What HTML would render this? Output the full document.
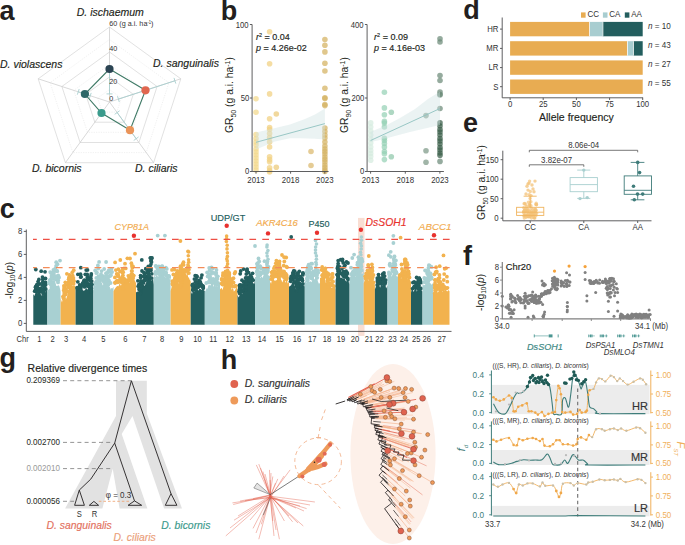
<!DOCTYPE html>
<html><head><meta charset="utf-8"><style>
html,body{margin:0;padding:0;background:#fff;}
svg{display:block;font-family:"Liberation Sans",sans-serif;}
</style></head><body>
<svg width="685" height="545" viewBox="0 0 685 545" fill="#231f20">
<text x="-0.5" y="19.8" font-size="27" font-weight="bold">a</text>
<text x="220.8" y="19.8" font-size="27" font-weight="bold">b</text>
<text x="463.2" y="19.3" font-size="27" font-weight="bold">d</text>
<text x="463" y="132.3" font-size="27" font-weight="bold">e</text>
<text x="-0.3" y="218.3" font-size="27" font-weight="bold">c</text>
<text x="463" y="264.5" font-size="27" font-weight="bold">f</text>
<text x="-0.5" y="366.5" font-size="27" font-weight="bold">g</text>
<text x="220.8" y="368.6" font-size="27" font-weight="bold">h</text>
<polygon points="109.5,89.5 121.4,98.1 116.8,112.1 102.2,112.1 97.6,98.1" fill="none" stroke="#e6e6e6" stroke-width="0.6" stroke-dasharray="1.2,1.2"/>
<polygon points="109.5,64.5 145.2,90.4 131.5,132.3 87.5,132.3 73.8,90.4" fill="none" stroke="#e6e6e6" stroke-width="0.6" stroke-dasharray="1.2,1.2"/>
<polygon points="109.5,39.5 168.9,82.7 146.2,152.6 72.8,152.6 50.1,82.7" fill="none" stroke="#e6e6e6" stroke-width="0.6" stroke-dasharray="1.2,1.2"/>
<polygon points="109.5,77 133.3,94.3 124.2,122.2 94.8,122.2 85.7,94.3" fill="none" stroke="#d4d4d4" stroke-width="0.7"/>
<polygon points="109.5,52 157.1,86.5 138.9,142.5 80.1,142.5 61.9,86.5" fill="none" stroke="#d4d4d4" stroke-width="0.7"/>
<polygon points="109.5,27 180.8,78.8 153.6,162.7 65.4,162.7 38.2,78.8" fill="none" stroke="#d4d4d4" stroke-width="0.7"/>
<line x1="109.5" y1="102" x2="109.5" y2="27" stroke="#c8c8c8" stroke-width="0.7"/>
<line x1="109.5" y1="102" x2="180.8" y2="78.8" stroke="#c8c8c8" stroke-width="0.7"/>
<line x1="109.5" y1="102" x2="153.6" y2="162.7" stroke="#c8c8c8" stroke-width="0.7"/>
<line x1="109.5" y1="102" x2="65.4" y2="162.7" stroke="#c8c8c8" stroke-width="0.7"/>
<line x1="109.5" y1="102" x2="38.2" y2="78.8" stroke="#c8c8c8" stroke-width="0.7"/>
<line x1="109.5" y1="93.9" x2="109.5" y2="70.8" stroke="#a9cfcf" stroke-width="0.9"/>
<line x1="106.5" y1="93.9" x2="112.5" y2="93.9" stroke="#a9cfcf" stroke-width="0.9"/>
<line x1="106.5" y1="70.8" x2="112.5" y2="70.8" stroke="#a9cfcf" stroke-width="0.9"/>
<line x1="118.4" y1="99.1" x2="174.9" y2="80.8" stroke="#a9cfcf" stroke-width="0.9"/>
<line x1="117.5" y1="96.2" x2="119.3" y2="102" stroke="#a9cfcf" stroke-width="0.9"/>
<line x1="174" y1="77.9" x2="175.8" y2="83.6" stroke="#a9cfcf" stroke-width="0.9"/>
<line x1="117.1" y1="112.5" x2="136.2" y2="138.7" stroke="#a9cfcf" stroke-width="0.9"/>
<line x1="119.6" y1="110.8" x2="114.7" y2="114.3" stroke="#a9cfcf" stroke-width="0.9"/>
<line x1="138.6" y1="136.9" x2="133.7" y2="140.5" stroke="#a9cfcf" stroke-width="0.9"/>
<line x1="90.2" y1="95.7" x2="78.2" y2="91.8" stroke="#a9cfcf" stroke-width="0.9"/>
<line x1="89.3" y1="98.6" x2="91.2" y2="92.9" stroke="#a9cfcf" stroke-width="0.9"/>
<line x1="77.3" y1="94.7" x2="79.2" y2="89" stroke="#a9cfcf" stroke-width="0.9"/>
<polygon points="109.5,69 145.5,90.3 130,130.2 101.5,113 84.9,94" fill="none" stroke="#3f7a66" stroke-width="1.1"/>
<circle cx="109.5" cy="69" r="4.1" fill="#2b4453"/>
<circle cx="145.5" cy="90.3" r="4.1" fill="#e0664f"/>
<circle cx="130" cy="130.2" r="4.1" fill="#ea9459"/>
<circle cx="101.5" cy="113" r="4.1" fill="#3a9b8c"/>
<circle cx="84.9" cy="94" r="4.1" fill="#2d6868"/>
<text transform="translate(109.3,26.2) scale(0.893,1)" font-size="8.1" fill="#333">60 (g a.i. ha<tspan font-size="4.6" dy="-2.6">-1</tspan><tspan dy="2.6">)</tspan></text>
<text transform="translate(109.3,50.6) scale(0.893,1)" font-size="8.1" fill="#333">40</text>
<text transform="translate(109.3,84) scale(0.893,1)" font-size="8.1" fill="#333">20</text>
<text transform="translate(109.3,100.6) scale(0.893,1)" font-size="8.1" fill="#333">0</text>
<text x="110.3" y="16" font-size="10.5" text-anchor="middle" font-style="italic" stroke="#231f20" stroke-width="0.16">D. ischaemum</text>
<text x="153" y="67.2" font-size="10.5" font-style="italic" stroke="#231f20" stroke-width="0.16">D. sanguinalis</text>
<text x="0" y="67.9" font-size="10.5" font-style="italic" stroke="#231f20" stroke-width="0.16">D. violascens</text>
<text x="32" y="172.1" font-size="10.5" font-style="italic" stroke="#231f20" stroke-width="0.16">D. bicornis</text>
<text x="135" y="172.1" font-size="10.5" font-style="italic" stroke="#231f20" stroke-width="0.16">D. ciliaris</text>
<circle cx="256" cy="98.7" r="2.8" fill="#f3d98f" fill-opacity="0.75"/>
<circle cx="256" cy="112.2" r="2.8" fill="#f3d98f" fill-opacity="0.75"/>
<circle cx="256" cy="134.6" r="2.8" fill="#f3d98f" fill-opacity="0.75"/>
<circle cx="256" cy="138.5" r="2.8" fill="#f3d98f" fill-opacity="0.75"/>
<circle cx="256" cy="142" r="2.8" fill="#f3d98f" fill-opacity="0.75"/>
<circle cx="256" cy="145" r="2.8" fill="#f3d98f" fill-opacity="0.75"/>
<circle cx="256" cy="149" r="2.8" fill="#f3d98f" fill-opacity="0.75"/>
<circle cx="256" cy="152" r="2.8" fill="#f3d98f" fill-opacity="0.75"/>
<circle cx="256" cy="155" r="2.8" fill="#f3d98f" fill-opacity="0.75"/>
<circle cx="256" cy="158" r="2.8" fill="#f3d98f" fill-opacity="0.75"/>
<circle cx="256" cy="161" r="2.8" fill="#f3d98f" fill-opacity="0.75"/>
<circle cx="256" cy="164" r="2.8" fill="#f3d98f" fill-opacity="0.75"/>
<circle cx="256" cy="167" r="2.8" fill="#f3d98f" fill-opacity="0.75"/>
<circle cx="256" cy="170" r="2.8" fill="#f3d98f" fill-opacity="0.75"/>
<circle cx="269.6" cy="31.7" r="2.8" fill="#f1d184" fill-opacity="0.75"/>
<circle cx="269.6" cy="63.8" r="2.8" fill="#f1d184" fill-opacity="0.75"/>
<circle cx="269.6" cy="93.9" r="2.8" fill="#f1d184" fill-opacity="0.75"/>
<circle cx="269.6" cy="118.8" r="2.8" fill="#f1d184" fill-opacity="0.75"/>
<circle cx="269.6" cy="127.6" r="2.8" fill="#f1d184" fill-opacity="0.75"/>
<circle cx="269.6" cy="129.5" r="2.8" fill="#f1d184" fill-opacity="0.75"/>
<circle cx="269.6" cy="133.5" r="2.8" fill="#f1d184" fill-opacity="0.75"/>
<circle cx="269.6" cy="137.6" r="2.8" fill="#f1d184" fill-opacity="0.75"/>
<circle cx="269.6" cy="142" r="2.8" fill="#f1d184" fill-opacity="0.75"/>
<circle cx="269.6" cy="147" r="2.8" fill="#f1d184" fill-opacity="0.75"/>
<circle cx="269.6" cy="156.7" r="2.8" fill="#f1d184" fill-opacity="0.75"/>
<circle cx="269.6" cy="159.6" r="2.8" fill="#f1d184" fill-opacity="0.75"/>
<circle cx="269.6" cy="161.8" r="2.8" fill="#f1d184" fill-opacity="0.75"/>
<circle cx="269.6" cy="167.7" r="2.8" fill="#f1d184" fill-opacity="0.75"/>
<circle cx="269.6" cy="170.6" r="2.8" fill="#f1d184" fill-opacity="0.75"/>
<circle cx="269.6" cy="172" r="2.8" fill="#f1d184" fill-opacity="0.75"/>
<circle cx="276.3" cy="114" r="2.8" fill="#eccb7c" fill-opacity="0.75"/>
<circle cx="276.3" cy="167.2" r="2.8" fill="#eccb7c" fill-opacity="0.75"/>
<circle cx="311" cy="151.5" r="2.8" fill="#dcbb72" fill-opacity="0.75"/>
<circle cx="311" cy="165.5" r="2.8" fill="#dcbb72" fill-opacity="0.75"/>
<circle cx="324.9" cy="39.5" r="2.8" fill="#d5b465" fill-opacity="0.75"/>
<circle cx="324.9" cy="45.3" r="2.8" fill="#d5b465" fill-opacity="0.75"/>
<circle cx="324.9" cy="51.9" r="2.8" fill="#d5b465" fill-opacity="0.75"/>
<circle cx="324.9" cy="63.3" r="2.8" fill="#d5b465" fill-opacity="0.75"/>
<circle cx="324.9" cy="71" r="2.8" fill="#d5b465" fill-opacity="0.75"/>
<circle cx="324.9" cy="88.3" r="2.8" fill="#d5b465" fill-opacity="0.75"/>
<circle cx="324.9" cy="97.8" r="2.8" fill="#d5b465" fill-opacity="0.75"/>
<circle cx="324.9" cy="98.5" r="2.8" fill="#d5b465" fill-opacity="0.75"/>
<circle cx="324.9" cy="104.5" r="2.8" fill="#d5b465" fill-opacity="0.75"/>
<circle cx="324.9" cy="105.6" r="2.8" fill="#d5b465" fill-opacity="0.75"/>
<circle cx="324.9" cy="128" r="2.8" fill="#d5b465" fill-opacity="0.75"/>
<circle cx="324.9" cy="131.5" r="2.8" fill="#d5b465" fill-opacity="0.75"/>
<circle cx="324.9" cy="135" r="2.8" fill="#d5b465" fill-opacity="0.75"/>
<circle cx="324.9" cy="138" r="2.8" fill="#d5b465" fill-opacity="0.75"/>
<circle cx="324.9" cy="142" r="2.8" fill="#d5b465" fill-opacity="0.75"/>
<circle cx="324.9" cy="146" r="2.8" fill="#d5b465" fill-opacity="0.75"/>
<circle cx="324.9" cy="149" r="2.8" fill="#d5b465" fill-opacity="0.75"/>
<circle cx="324.9" cy="151.5" r="2.8" fill="#d5b465" fill-opacity="0.75"/>
<circle cx="324.9" cy="154" r="2.8" fill="#d5b465" fill-opacity="0.75"/>
<circle cx="324.9" cy="157" r="2.8" fill="#d5b465" fill-opacity="0.75"/>
<circle cx="324.9" cy="159.5" r="2.8" fill="#d5b465" fill-opacity="0.75"/>
<circle cx="324.9" cy="162" r="2.8" fill="#d5b465" fill-opacity="0.75"/>
<circle cx="324.9" cy="165" r="2.8" fill="#d5b465" fill-opacity="0.75"/>
<circle cx="324.9" cy="167.5" r="2.8" fill="#d5b465" fill-opacity="0.75"/>
<circle cx="324.9" cy="170" r="2.8" fill="#d5b465" fill-opacity="0.75"/>
<circle cx="324.9" cy="171.5" r="2.8" fill="#d5b465" fill-opacity="0.75"/>
<polygon points="256,132.4 270,129.2 290,124.5 305,119 315,114.5 324.9,108.5 324.9,139.5 315,138.8 300,138.3 290,138.3 275,141.5 256,149.5" fill="#cfe3e3" fill-opacity="0.42"/>
<line x1="256" y1="142.3" x2="324.9" y2="123.6" stroke="#8fc2c0" stroke-width="0.9"/>
<path d="M249.9,24.5 L252.1,24.5 L252.1,171.5" stroke="#4d4d4f" stroke-width="0.9" fill="none"/>
<line x1="249.9" y1="98" x2="252.1" y2="98" stroke="#4d4d4f" stroke-width="0.9"/>
<line x1="249.9" y1="171.5" x2="252.1" y2="171.5" stroke="#4d4d4f" stroke-width="0.9"/>
<line x1="252.1" y1="171.5" x2="328.6" y2="171.5" stroke="#4d4d4f" stroke-width="0.9"/>
<line x1="256" y1="171.5" x2="256" y2="173.7" stroke="#4d4d4f" stroke-width="0.9"/>
<line x1="290.6" y1="171.5" x2="290.6" y2="173.7" stroke="#4d4d4f" stroke-width="0.9"/>
<line x1="324.8" y1="171.5" x2="324.8" y2="173.7" stroke="#4d4d4f" stroke-width="0.9"/>
<text transform="translate(248.6,28) scale(0.893,1)" font-size="8.6" text-anchor="end" fill="#333">100</text>
<text transform="translate(249.2,101) scale(0.893,1)" font-size="8.6" text-anchor="end" fill="#333">50</text>
<text transform="translate(249.2,174.2) scale(0.893,1)" font-size="8.6" text-anchor="end" fill="#333">0</text>
<text transform="translate(256,182.7) scale(0.893,1)" font-size="8.8" text-anchor="middle" fill="#333">2013</text>
<text transform="translate(290.6,182.7) scale(0.893,1)" font-size="8.8" text-anchor="middle" fill="#333">2018</text>
<text transform="translate(324.8,182.7) scale(0.893,1)" font-size="8.8" text-anchor="middle" fill="#333">2023</text>
<text x="256" y="40" font-size="9.0" stroke="#231f20" stroke-width="0.16"><tspan font-style="italic">r</tspan><tspan font-size="5.5" dy="-3">2</tspan><tspan dy="3"> = 0.04</tspan></text>
<text x="256" y="51.2" font-size="9.0" stroke="#231f20" stroke-width="0.16"><tspan font-style="italic">p</tspan> = 4.26e-02</text>
<text transform="translate(233.2,133) rotate(-90)" font-size="10.3" fill="#231f20">GR<tspan font-size="7" dy="2.5">50</tspan><tspan dy="-2.5"> (g a.i. ha</tspan><tspan font-size="7" dy="-3.5">-1</tspan><tspan dy="3.5">)</tspan></text>
<circle cx="370.7" cy="122.9" r="2.8" fill="#d6ebdf" fill-opacity="0.72"/>
<circle cx="370.7" cy="127" r="2.8" fill="#d6ebdf" fill-opacity="0.72"/>
<circle cx="370.7" cy="131" r="2.8" fill="#d6ebdf" fill-opacity="0.72"/>
<circle cx="370.7" cy="135" r="2.8" fill="#d6ebdf" fill-opacity="0.72"/>
<circle cx="370.7" cy="139" r="2.8" fill="#d6ebdf" fill-opacity="0.72"/>
<circle cx="370.7" cy="143" r="2.8" fill="#d6ebdf" fill-opacity="0.72"/>
<circle cx="370.7" cy="147" r="2.8" fill="#d6ebdf" fill-opacity="0.72"/>
<circle cx="370.7" cy="150.5" r="2.8" fill="#d6ebdf" fill-opacity="0.72"/>
<circle cx="370.7" cy="153.5" r="2.8" fill="#d6ebdf" fill-opacity="0.72"/>
<circle cx="370.7" cy="156.5" r="2.8" fill="#d6ebdf" fill-opacity="0.72"/>
<circle cx="370.7" cy="160.3" r="2.8" fill="#d6ebdf" fill-opacity="0.72"/>
<circle cx="384.4" cy="92.2" r="2.8" fill="#96d1b6" fill-opacity="0.72"/>
<circle cx="384.4" cy="107.9" r="2.8" fill="#96d1b6" fill-opacity="0.72"/>
<circle cx="384.4" cy="114.8" r="2.8" fill="#96d1b6" fill-opacity="0.72"/>
<circle cx="384.4" cy="121.4" r="2.8" fill="#96d1b6" fill-opacity="0.72"/>
<circle cx="384.4" cy="123" r="2.8" fill="#96d1b6" fill-opacity="0.72"/>
<circle cx="384.4" cy="127" r="2.8" fill="#96d1b6" fill-opacity="0.72"/>
<circle cx="384.4" cy="138.3" r="2.8" fill="#96d1b6" fill-opacity="0.72"/>
<circle cx="384.4" cy="140.5" r="2.8" fill="#96d1b6" fill-opacity="0.72"/>
<circle cx="384.4" cy="143.5" r="2.8" fill="#96d1b6" fill-opacity="0.72"/>
<circle cx="384.4" cy="147.1" r="2.8" fill="#96d1b6" fill-opacity="0.72"/>
<circle cx="384.4" cy="151.5" r="2.8" fill="#96d1b6" fill-opacity="0.72"/>
<circle cx="384.4" cy="153.7" r="2.8" fill="#96d1b6" fill-opacity="0.72"/>
<circle cx="384.4" cy="159.6" r="2.8" fill="#96d1b6" fill-opacity="0.72"/>
<circle cx="391.3" cy="112.3" r="2.8" fill="#8fc8ab" fill-opacity="0.72"/>
<circle cx="391.3" cy="156.7" r="2.8" fill="#8fc8ab" fill-opacity="0.72"/>
<circle cx="426" cy="115.6" r="2.8" fill="#7d9887" fill-opacity="0.72"/>
<circle cx="426" cy="150.8" r="2.8" fill="#7d9887" fill-opacity="0.72"/>
<circle cx="426" cy="162.3" r="2.8" fill="#7d9887" fill-opacity="0.72"/>
<circle cx="440" cy="38.8" r="2.8" fill="#6c8a78" fill-opacity="0.72"/>
<circle cx="440" cy="42" r="2.8" fill="#6c8a78" fill-opacity="0.72"/>
<circle cx="440" cy="75.5" r="2.8" fill="#6c8a78" fill-opacity="0.72"/>
<circle cx="440" cy="80.5" r="2.8" fill="#6c8a78" fill-opacity="0.72"/>
<circle cx="440" cy="92" r="2.8" fill="#6c8a78" fill-opacity="0.72"/>
<circle cx="440" cy="94.2" r="2.8" fill="#6c8a78" fill-opacity="0.72"/>
<circle cx="440" cy="95" r="2.8" fill="#6c8a78" fill-opacity="0.72"/>
<circle cx="440" cy="108.5" r="2.8" fill="#6c8a78" fill-opacity="0.72"/>
<circle cx="440" cy="122.9" r="2.8" fill="#3a5e4a" fill-opacity="0.72"/>
<circle cx="440" cy="126" r="2.8" fill="#3a5e4a" fill-opacity="0.72"/>
<circle cx="440" cy="129.5" r="2.8" fill="#3a5e4a" fill-opacity="0.72"/>
<circle cx="440" cy="132" r="2.8" fill="#3a5e4a" fill-opacity="0.72"/>
<circle cx="440" cy="135" r="2.8" fill="#3a5e4a" fill-opacity="0.72"/>
<circle cx="440" cy="138.5" r="2.8" fill="#3a5e4a" fill-opacity="0.72"/>
<circle cx="440" cy="141" r="2.8" fill="#3a5e4a" fill-opacity="0.72"/>
<circle cx="440" cy="144" r="2.8" fill="#3a5e4a" fill-opacity="0.72"/>
<circle cx="440" cy="147.5" r="2.8" fill="#3a5e4a" fill-opacity="0.72"/>
<circle cx="440" cy="150" r="2.8" fill="#3a5e4a" fill-opacity="0.72"/>
<circle cx="440" cy="153" r="2.8" fill="#3a5e4a" fill-opacity="0.72"/>
<circle cx="440" cy="155.2" r="2.8" fill="#3a5e4a" fill-opacity="0.72"/>
<circle cx="440" cy="161.4" r="2.8" fill="#6c8a78" fill-opacity="0.72"/>
<polygon points="370.6,131.7 385,126 400,118 415,109 428,99 440,91.5 440,125 425,128.5 410,132 395,136 380,140 370.6,142" fill="#cfe3e3" fill-opacity="0.42"/>
<line x1="370.6" y1="140.5" x2="440" y2="108.5" stroke="#8fc2c0" stroke-width="0.9"/>
<path d="M364.90000000000003,24.5 L367.1,24.5 L367.1,171.5" stroke="#4d4d4f" stroke-width="0.9" fill="none"/>
<line x1="364.9" y1="98" x2="367.1" y2="98" stroke="#4d4d4f" stroke-width="0.9"/>
<line x1="364.9" y1="171.5" x2="367.1" y2="171.5" stroke="#4d4d4f" stroke-width="0.9"/>
<line x1="367.1" y1="171.5" x2="443.9" y2="171.5" stroke="#4d4d4f" stroke-width="0.9"/>
<line x1="370.6" y1="171.5" x2="370.6" y2="173.7" stroke="#4d4d4f" stroke-width="0.9"/>
<line x1="405.3" y1="171.5" x2="405.3" y2="173.7" stroke="#4d4d4f" stroke-width="0.9"/>
<line x1="439.9" y1="171.5" x2="439.9" y2="173.7" stroke="#4d4d4f" stroke-width="0.9"/>
<text transform="translate(363.6,28) scale(0.893,1)" font-size="8.6" text-anchor="end" fill="#333">400</text>
<text transform="translate(364.2,101) scale(0.893,1)" font-size="8.6" text-anchor="end" fill="#333">200</text>
<text transform="translate(364.2,174.2) scale(0.893,1)" font-size="8.6" text-anchor="end" fill="#333">0</text>
<text transform="translate(370.6,182.7) scale(0.893,1)" font-size="8.8" text-anchor="middle" fill="#333">2013</text>
<text transform="translate(405.3,182.7) scale(0.893,1)" font-size="8.8" text-anchor="middle" fill="#333">2018</text>
<text transform="translate(439.9,182.7) scale(0.893,1)" font-size="8.8" text-anchor="middle" fill="#333">2023</text>
<text x="374.1" y="40" font-size="9.0" stroke="#231f20" stroke-width="0.16"><tspan font-style="italic">r</tspan><tspan font-size="5.5" dy="-3">2</tspan><tspan dy="3"> = 0.09</tspan></text>
<text x="374.1" y="51.2" font-size="9.0" stroke="#231f20" stroke-width="0.16"><tspan font-style="italic">p</tspan> = 4.16e-03</text>
<text transform="translate(348.2,133) rotate(-90)" font-size="10.3" fill="#231f20">GR<tspan font-size="7" dy="2.5">90</tspan><tspan dy="-2.5"> (g a.i. ha</tspan><tspan font-size="7" dy="-3.5">-1</tspan><tspan dy="3.5">)</tspan></text>
<rect x="510.1" y="21.9" width="79.6" height="14.4" fill="#e8ac52"/>
<rect x="589.7" y="21.9" width="13.3" height="14.4" fill="#a8cdd0"/>
<rect x="589.3" y="21.9" width="0.7" height="14.4" fill="#fff"/>
<rect x="602.9" y="21.9" width="39.8" height="14.4" fill="#235e5e"/>
<rect x="602.6" y="21.9" width="0.7" height="14.4" fill="#fff"/>
<line x1="500" y1="29.1" x2="502.2" y2="29.1" stroke="#4d4d4f" stroke-width="0.9"/>
<text transform="translate(498.4,31.9) scale(0.893,1)" font-size="8.7" text-anchor="end" fill="#333">HR</text>
<text transform="translate(648,28.8) scale(0.893,1)" font-size="9.1" fill="#333"><tspan font-style="italic">n</tspan> = 10</text>
<rect x="510.1" y="41.2" width="117.2" height="14.4" fill="#e8ac52"/>
<rect x="627.3" y="41.2" width="6.2" height="14.4" fill="#a8cdd0"/>
<rect x="627" y="41.2" width="0.7" height="14.4" fill="#fff"/>
<rect x="633.5" y="41.2" width="9.2" height="14.4" fill="#235e5e"/>
<rect x="633.1" y="41.2" width="0.7" height="14.4" fill="#fff"/>
<line x1="500" y1="48.4" x2="502.2" y2="48.4" stroke="#4d4d4f" stroke-width="0.9"/>
<text transform="translate(498.4,51.2) scale(0.893,1)" font-size="8.7" text-anchor="end" fill="#333">MR</text>
<text transform="translate(648,48.1) scale(0.893,1)" font-size="9.1" fill="#333"><tspan font-style="italic">n</tspan> = 43</text>
<rect x="510.1" y="60.4" width="132.6" height="14.4" fill="#e8ac52"/>
<line x1="500" y1="67.6" x2="502.2" y2="67.6" stroke="#4d4d4f" stroke-width="0.9"/>
<text transform="translate(498.4,70.4) scale(0.893,1)" font-size="8.7" text-anchor="end" fill="#333">LR</text>
<text transform="translate(648,67.3) scale(0.893,1)" font-size="9.1" fill="#333"><tspan font-style="italic">n</tspan> = 27</text>
<rect x="510.1" y="79.5" width="132.6" height="14.4" fill="#e8ac52"/>
<line x1="500" y1="86.7" x2="502.2" y2="86.7" stroke="#4d4d4f" stroke-width="0.9"/>
<text transform="translate(498.4,89.5) scale(0.893,1)" font-size="8.7" text-anchor="end" fill="#333">S</text>
<text transform="translate(648,86.4) scale(0.893,1)" font-size="9.1" fill="#333"><tspan font-style="italic">n</tspan> = 55</text>
<path d="M502.2,17.5 L502.2,97.8 L643.1,97.8" stroke="#4d4d4f" stroke-width="0.9" fill="none"/>
<line x1="510.1" y1="97.8" x2="510.1" y2="100" stroke="#4d4d4f" stroke-width="0.9"/>
<text transform="translate(510.1,106.5) scale(0.893,1)" font-size="8.7" text-anchor="middle" fill="#333">0</text>
<line x1="543.2" y1="97.8" x2="543.2" y2="100" stroke="#4d4d4f" stroke-width="0.9"/>
<text transform="translate(543.2,106.5) scale(0.893,1)" font-size="8.7" text-anchor="middle" fill="#333">25</text>
<line x1="576.4" y1="97.8" x2="576.4" y2="100" stroke="#4d4d4f" stroke-width="0.9"/>
<text transform="translate(576.4,106.5) scale(0.893,1)" font-size="8.7" text-anchor="middle" fill="#333">50</text>
<line x1="609.6" y1="97.8" x2="609.6" y2="100" stroke="#4d4d4f" stroke-width="0.9"/>
<text transform="translate(609.6,106.5) scale(0.893,1)" font-size="8.7" text-anchor="middle" fill="#333">75</text>
<line x1="642.7" y1="97.8" x2="642.7" y2="100" stroke="#4d4d4f" stroke-width="0.9"/>
<text transform="translate(642.7,106.5) scale(0.893,1)" font-size="8.7" text-anchor="middle" fill="#333">100</text>
<text x="576.4" y="120.8" font-size="10.5" text-anchor="middle" stroke="#231f20" stroke-width="0.16">Allele frequency</text>
<rect x="581" y="12.4" width="4.6" height="5.3" fill="#e8ac52"/>
<text transform="translate(587.4,17.4) scale(0.893,1)" font-size="9" fill="#333">CC</text>
<rect x="602.9" y="12.4" width="4.6" height="5.3" fill="#a8cdd0"/>
<text transform="translate(609.3,17.4) scale(0.893,1)" font-size="9" fill="#333">CA</text>
<rect x="624.8" y="12.4" width="4.6" height="5.3" fill="#235e5e"/>
<text transform="translate(631.2,17.4) scale(0.893,1)" font-size="9" fill="#333">AA</text>
<circle cx="530.6" cy="216.3" r="1.7" fill="#f4c47c" fill-opacity="0.72"/>
<circle cx="531.4" cy="215" r="1.7" fill="#f4c47c" fill-opacity="0.72"/>
<circle cx="524.4" cy="211.3" r="1.7" fill="#f4c47c" fill-opacity="0.72"/>
<circle cx="534.4" cy="218.1" r="1.7" fill="#f4c47c" fill-opacity="0.72"/>
<circle cx="526.5" cy="216.1" r="1.7" fill="#f4c47c" fill-opacity="0.72"/>
<circle cx="529.6" cy="181.1" r="1.7" fill="#f4c47c" fill-opacity="0.72"/>
<circle cx="529.7" cy="205.5" r="1.7" fill="#f4c47c" fill-opacity="0.72"/>
<circle cx="525.5" cy="211" r="1.7" fill="#f4c47c" fill-opacity="0.72"/>
<circle cx="534.8" cy="211.1" r="1.7" fill="#f4c47c" fill-opacity="0.72"/>
<circle cx="533.1" cy="213" r="1.7" fill="#f4c47c" fill-opacity="0.72"/>
<circle cx="524.3" cy="210.4" r="1.7" fill="#f4c47c" fill-opacity="0.72"/>
<circle cx="531.2" cy="208.2" r="1.7" fill="#f4c47c" fill-opacity="0.72"/>
<circle cx="523.9" cy="215.7" r="1.7" fill="#f4c47c" fill-opacity="0.72"/>
<circle cx="529.6" cy="204.1" r="1.7" fill="#f4c47c" fill-opacity="0.72"/>
<circle cx="534.9" cy="209.3" r="1.7" fill="#f4c47c" fill-opacity="0.72"/>
<circle cx="535.5" cy="209.4" r="1.7" fill="#f4c47c" fill-opacity="0.72"/>
<circle cx="533.9" cy="214.7" r="1.7" fill="#f4c47c" fill-opacity="0.72"/>
<circle cx="535.7" cy="214.1" r="1.7" fill="#f4c47c" fill-opacity="0.72"/>
<circle cx="524.8" cy="203.4" r="1.7" fill="#f4c47c" fill-opacity="0.72"/>
<circle cx="526.3" cy="217.2" r="1.7" fill="#f4c47c" fill-opacity="0.72"/>
<circle cx="529.2" cy="194.6" r="1.7" fill="#f4c47c" fill-opacity="0.72"/>
<circle cx="527.4" cy="211.3" r="1.7" fill="#f4c47c" fill-opacity="0.72"/>
<circle cx="528.5" cy="213.2" r="1.7" fill="#f4c47c" fill-opacity="0.72"/>
<circle cx="531.1" cy="215.2" r="1.7" fill="#f4c47c" fill-opacity="0.72"/>
<circle cx="535.3" cy="212" r="1.7" fill="#f4c47c" fill-opacity="0.72"/>
<circle cx="535.6" cy="210.2" r="1.7" fill="#f4c47c" fill-opacity="0.72"/>
<circle cx="536.4" cy="204.6" r="1.7" fill="#f4c47c" fill-opacity="0.72"/>
<circle cx="525.6" cy="210.4" r="1.7" fill="#f4c47c" fill-opacity="0.72"/>
<circle cx="536" cy="204.4" r="1.7" fill="#f4c47c" fill-opacity="0.72"/>
<circle cx="530.9" cy="201.7" r="1.7" fill="#f4c47c" fill-opacity="0.72"/>
<circle cx="526.2" cy="209.4" r="1.7" fill="#f4c47c" fill-opacity="0.72"/>
<circle cx="531" cy="205.7" r="1.7" fill="#f4c47c" fill-opacity="0.72"/>
<circle cx="524.3" cy="215.8" r="1.7" fill="#f4c47c" fill-opacity="0.72"/>
<circle cx="536.4" cy="204.7" r="1.7" fill="#f4c47c" fill-opacity="0.72"/>
<circle cx="533.9" cy="217.5" r="1.7" fill="#f4c47c" fill-opacity="0.72"/>
<circle cx="525.5" cy="214.5" r="1.7" fill="#f4c47c" fill-opacity="0.72"/>
<circle cx="533.5" cy="215.8" r="1.7" fill="#f4c47c" fill-opacity="0.72"/>
<circle cx="524.1" cy="203.7" r="1.7" fill="#f4c47c" fill-opacity="0.72"/>
<circle cx="524.1" cy="211.5" r="1.7" fill="#f4c47c" fill-opacity="0.72"/>
<circle cx="527.8" cy="209.3" r="1.7" fill="#f4c47c" fill-opacity="0.72"/>
<circle cx="536.2" cy="203.3" r="1.7" fill="#f4c47c" fill-opacity="0.72"/>
<circle cx="536.5" cy="213.3" r="1.7" fill="#f4c47c" fill-opacity="0.72"/>
<circle cx="524.5" cy="215.6" r="1.7" fill="#f4c47c" fill-opacity="0.72"/>
<circle cx="523.9" cy="211.8" r="1.7" fill="#f4c47c" fill-opacity="0.72"/>
<circle cx="528.8" cy="216.7" r="1.7" fill="#f4c47c" fill-opacity="0.72"/>
<circle cx="525.5" cy="211.6" r="1.7" fill="#f4c47c" fill-opacity="0.72"/>
<circle cx="534.8" cy="217.9" r="1.7" fill="#f4c47c" fill-opacity="0.72"/>
<circle cx="536" cy="215.6" r="1.7" fill="#f4c47c" fill-opacity="0.72"/>
<circle cx="528.4" cy="202.3" r="1.7" fill="#f4c47c" fill-opacity="0.72"/>
<circle cx="530.3" cy="213.9" r="1.7" fill="#f4c47c" fill-opacity="0.72"/>
<circle cx="531.2" cy="211" r="1.7" fill="#f4c47c" fill-opacity="0.72"/>
<circle cx="531.6" cy="212.4" r="1.7" fill="#f4c47c" fill-opacity="0.72"/>
<circle cx="530.1" cy="198.4" r="1.7" fill="#f4c47c" fill-opacity="0.72"/>
<circle cx="532.9" cy="214.2" r="1.7" fill="#f4c47c" fill-opacity="0.72"/>
<circle cx="527.4" cy="216.3" r="1.7" fill="#f4c47c" fill-opacity="0.72"/>
<circle cx="530.3" cy="191.5" r="1.7" fill="#f4c47c" fill-opacity="0.72"/>
<circle cx="523.6" cy="212.6" r="1.7" fill="#f4c47c" fill-opacity="0.72"/>
<circle cx="531" cy="214.4" r="1.7" fill="#f4c47c" fill-opacity="0.72"/>
<circle cx="531.5" cy="218.1" r="1.7" fill="#f4c47c" fill-opacity="0.72"/>
<circle cx="524.3" cy="211.2" r="1.7" fill="#f4c47c" fill-opacity="0.72"/>
<circle cx="529.6" cy="211.3" r="1.7" fill="#f4c47c" fill-opacity="0.72"/>
<circle cx="528.1" cy="210.2" r="1.7" fill="#f4c47c" fill-opacity="0.72"/>
<circle cx="533.1" cy="209.6" r="1.7" fill="#f4c47c" fill-opacity="0.72"/>
<circle cx="524.3" cy="218" r="1.7" fill="#f4c47c" fill-opacity="0.72"/>
<circle cx="536" cy="210.3" r="1.7" fill="#f4c47c" fill-opacity="0.72"/>
<circle cx="529.4" cy="216.2" r="1.7" fill="#f4c47c" fill-opacity="0.72"/>
<circle cx="527.7" cy="211.9" r="1.7" fill="#f4c47c" fill-opacity="0.72"/>
<circle cx="527.6" cy="215" r="1.7" fill="#f4c47c" fill-opacity="0.72"/>
<circle cx="531.2" cy="215" r="1.7" fill="#f4c47c" fill-opacity="0.72"/>
<circle cx="528.4" cy="215.7" r="1.7" fill="#f4c47c" fill-opacity="0.72"/>
<circle cx="523.8" cy="207.8" r="1.7" fill="#f4c47c" fill-opacity="0.72"/>
<circle cx="533.1" cy="212.3" r="1.7" fill="#f4c47c" fill-opacity="0.72"/>
<circle cx="526.4" cy="215.6" r="1.7" fill="#f4c47c" fill-opacity="0.72"/>
<circle cx="526.6" cy="206.8" r="1.7" fill="#f4c47c" fill-opacity="0.72"/>
<circle cx="529.2" cy="216.7" r="1.7" fill="#f4c47c" fill-opacity="0.72"/>
<circle cx="524.8" cy="209.8" r="1.7" fill="#f4c47c" fill-opacity="0.72"/>
<circle cx="527.8" cy="215.5" r="1.7" fill="#f4c47c" fill-opacity="0.72"/>
<circle cx="529.2" cy="205.6" r="1.7" fill="#f4c47c" fill-opacity="0.72"/>
<circle cx="525.7" cy="204.6" r="1.7" fill="#f4c47c" fill-opacity="0.72"/>
<circle cx="532" cy="215.3" r="1.7" fill="#f4c47c" fill-opacity="0.72"/>
<circle cx="535" cy="181.1" r="1.7" fill="#f4c47c" fill-opacity="0.78"/>
<circle cx="529" cy="183.1" r="1.7" fill="#f4c47c" fill-opacity="0.78"/>
<circle cx="528" cy="183.9" r="1.7" fill="#f4c47c" fill-opacity="0.78"/>
<circle cx="532" cy="185" r="1.7" fill="#f4c47c" fill-opacity="0.78"/>
<circle cx="527" cy="186.2" r="1.7" fill="#f4c47c" fill-opacity="0.78"/>
<circle cx="533" cy="188.9" r="1.7" fill="#f4c47c" fill-opacity="0.78"/>
<circle cx="528" cy="190.1" r="1.7" fill="#f4c47c" fill-opacity="0.78"/>
<circle cx="534" cy="191.7" r="1.7" fill="#f4c47c" fill-opacity="0.78"/>
<circle cx="526" cy="194" r="1.7" fill="#f4c47c" fill-opacity="0.78"/>
<circle cx="531" cy="195.6" r="1.7" fill="#f4c47c" fill-opacity="0.78"/>
<rect x="516.6" y="207.3" width="27.2" height="8.1" fill="none" stroke="#f0b45e" stroke-width="0.9"/>
<line x1="516.6" y1="212.2" x2="543.8" y2="212.2" stroke="#f0b45e" stroke-width="0.9"/>
<line x1="530.2" y1="207.3" x2="530.2" y2="196.2" stroke="#f0b45e" stroke-width="0.9"/>
<line x1="523.6" y1="196.2" x2="536.7" y2="196.2" stroke="#f0b45e" stroke-width="0.9"/>
<rect x="570.1" y="177.6" width="27.3" height="14.1" fill="none" stroke="#a8cfcf" stroke-width="0.9"/>
<line x1="570.1" y1="184.6" x2="597.4" y2="184.6" stroke="#a8cfcf" stroke-width="0.9"/>
<line x1="583.8" y1="177.6" x2="583.8" y2="170.1" stroke="#a8cfcf" stroke-width="0.9"/>
<line x1="577.2" y1="170.1" x2="590.3" y2="170.1" stroke="#a8cfcf" stroke-width="0.9"/>
<line x1="583.8" y1="191.7" x2="583.8" y2="198.4" stroke="#a8cfcf" stroke-width="0.9"/>
<line x1="577.2" y1="198.4" x2="590.3" y2="198.4" stroke="#a8cfcf" stroke-width="0.9"/>
<circle cx="583.8" cy="170.1" r="1.7" fill="#a8cfcf"/>
<circle cx="580" cy="198.6" r="1.7" fill="#a8cfcf"/>
<circle cx="587.2" cy="197.6" r="1.7" fill="#a8cfcf"/>
<rect x="624.2" y="175.9" width="27.3" height="18.4" fill="none" stroke="#3f7c7a" stroke-width="0.9"/>
<line x1="624.2" y1="190.3" x2="651.5" y2="190.3" stroke="#3f7c7a" stroke-width="0.9"/>
<line x1="637.7" y1="175.9" x2="637.7" y2="162.4" stroke="#3f7c7a" stroke-width="0.9"/>
<line x1="630.7" y1="162.4" x2="644.4" y2="162.4" stroke="#3f7c7a" stroke-width="0.9"/>
<line x1="637.7" y1="194.3" x2="637.7" y2="199.8" stroke="#3f7c7a" stroke-width="0.9"/>
<line x1="630.7" y1="199.8" x2="644.4" y2="199.8" stroke="#3f7c7a" stroke-width="0.9"/>
<circle cx="637.7" cy="162.4" r="1.8" fill="#3f7c7a"/>
<circle cx="639.6" cy="172.6" r="1.8" fill="#3f7c7a"/>
<circle cx="633.5" cy="186.3" r="1.8" fill="#3f7c7a"/>
<circle cx="637.5" cy="194.1" r="1.8" fill="#3f7c7a"/>
<circle cx="642.7" cy="194.1" r="1.8" fill="#3f7c7a"/>
<circle cx="634.3" cy="199.8" r="1.8" fill="#3f7c7a"/>
<path d="M502.8,150.7 L502.8,220.8 L651.5,220.8" stroke="#4d4d4f" stroke-width="0.9" fill="none"/>
<line x1="500.6" y1="218.2" x2="502.8" y2="218.2" stroke="#4d4d4f" stroke-width="0.9"/>
<text transform="translate(498.6,221) scale(0.893,1)" font-size="8.7" text-anchor="end" fill="#333">0</text>
<line x1="500.6" y1="198.7" x2="502.8" y2="198.7" stroke="#4d4d4f" stroke-width="0.9"/>
<text transform="translate(498.6,201.5) scale(0.893,1)" font-size="8.7" text-anchor="end" fill="#333">50</text>
<line x1="500.6" y1="179.2" x2="502.8" y2="179.2" stroke="#4d4d4f" stroke-width="0.9"/>
<text transform="translate(498.6,182) scale(0.893,1)" font-size="8.7" text-anchor="end" fill="#333">100</text>
<line x1="500.6" y1="159.7" x2="502.8" y2="159.7" stroke="#4d4d4f" stroke-width="0.9"/>
<text transform="translate(498.6,162.5) scale(0.893,1)" font-size="8.7" text-anchor="end" fill="#333">150</text>
<line x1="530.2" y1="220.8" x2="530.2" y2="223" stroke="#4d4d4f" stroke-width="0.9"/>
<text transform="translate(530.2,230) scale(0.893,1)" font-size="8.8" text-anchor="middle" fill="#333">CC</text>
<line x1="583.8" y1="220.8" x2="583.8" y2="223" stroke="#4d4d4f" stroke-width="0.9"/>
<text transform="translate(583.8,230) scale(0.893,1)" font-size="8.8" text-anchor="middle" fill="#333">CA</text>
<line x1="637.7" y1="220.8" x2="637.7" y2="223" stroke="#4d4d4f" stroke-width="0.9"/>
<text transform="translate(637.7,230) scale(0.893,1)" font-size="8.8" text-anchor="middle" fill="#333">AA</text>
<path d="M529.3,166.8 L529.3,164.8 L583.8,164.8 L583.8,166.8" stroke="#555" stroke-width="0.8" fill="none"/>
<text transform="translate(556.6,162.6) scale(0.893,1)" font-size="8.8" text-anchor="middle" fill="#333">3.82e-07</text>
<path d="M529.3,152.3 L529.3,150.3 L637.7,150.3 L637.7,152.3" stroke="#555" stroke-width="0.8" fill="none"/>
<text transform="translate(583.7,147.6) scale(0.893,1)" font-size="8.8" text-anchor="middle" fill="#333">8.06e-04</text>
<text transform="translate(485.2,220) rotate(-90)" font-size="10.3" fill="#231f20">GR<tspan font-size="6.5" dy="2.3">50</tspan><tspan dy="-2.3"> (g a.i. ha</tspan><tspan font-size="6.5" dy="-3.3">-1</tspan><tspan dy="3.3">)</tspan></text>
<rect x="358" y="217.9" width="6.5" height="118" fill="#f9ded3"/>
<polygon points="33.3,324.8 33.3,294.1 34.4,296.1 35.5,292.6 36.7,290.3 37.8,293.6 39.1,290.8 40.1,291.6 41.4,296.5 42.2,298.1 43.6,294.2 44.8,290 45.5,292.6 46.3,290.8 47.2,290.1 47.4,292.3 47.4,324.8" fill="#235e5e"/>
<circle cx="39.7" cy="284" r="1.9" fill="#235e5e"/>
<circle cx="40.6" cy="288.7" r="1.9" fill="#235e5e"/>
<circle cx="40.3" cy="288.3" r="1.9" fill="#235e5e"/>
<circle cx="39.9" cy="291.5" r="1.9" fill="#235e5e"/>
<circle cx="44.2" cy="285.7" r="1.9" fill="#235e5e"/>
<circle cx="38.3" cy="290.8" r="1.9" fill="#235e5e"/>
<circle cx="38" cy="291.6" r="1.9" fill="#235e5e"/>
<circle cx="43.4" cy="290.2" r="1.9" fill="#235e5e"/>
<circle cx="44.3" cy="289.2" r="1.9" fill="#235e5e"/>
<circle cx="45.5" cy="282.5" r="1.9" fill="#235e5e"/>
<circle cx="34.7" cy="291.2" r="1.9" fill="#235e5e"/>
<circle cx="45" cy="288.3" r="1.9" fill="#235e5e"/>
<circle cx="45.8" cy="289.2" r="1.9" fill="#235e5e"/>
<circle cx="35.5" cy="286.9" r="1.9" fill="#235e5e"/>
<circle cx="43.5" cy="291" r="1.9" fill="#235e5e"/>
<circle cx="35.7" cy="289.6" r="1.9" fill="#235e5e"/>
<circle cx="45.6" cy="284.8" r="1.9" fill="#235e5e"/>
<circle cx="36" cy="289.9" r="1.9" fill="#235e5e"/>
<circle cx="35.8" cy="291.1" r="1.9" fill="#235e5e"/>
<circle cx="43.7" cy="291.3" r="1.9" fill="#235e5e"/>
<circle cx="41" cy="291.2" r="1.9" fill="#235e5e"/>
<circle cx="36.9" cy="285.1" r="1.9" fill="#235e5e"/>
<circle cx="36.2" cy="286.2" r="1.9" fill="#235e5e"/>
<circle cx="36" cy="288.6" r="1.9" fill="#235e5e"/>
<circle cx="37.1" cy="290.1" r="1.9" fill="#235e5e"/>
<circle cx="45.7" cy="283.8" r="1.9" fill="#235e5e"/>
<circle cx="38.1" cy="281.6" r="1.9" fill="#235e5e"/>
<circle cx="37.1" cy="289.2" r="1.9" fill="#235e5e"/>
<circle cx="44.4" cy="286.5" r="1.9" fill="#235e5e"/>
<circle cx="35.8" cy="269.5" r="1.9" fill="#235e5e"/>
<circle cx="37.1" cy="290.2" r="1.9" fill="#235e5e"/>
<circle cx="43.4" cy="290.7" r="1.9" fill="#235e5e"/>
<circle cx="38" cy="291.6" r="1.9" fill="#235e5e"/>
<circle cx="35.7" cy="287.3" r="1.9" fill="#235e5e"/>
<circle cx="37.4" cy="287.3" r="1.9" fill="#235e5e"/>
<circle cx="38.9" cy="279.5" r="1.9" fill="#235e5e"/>
<circle cx="45.5" cy="278.5" r="1.9" fill="#235e5e"/>
<circle cx="41.2" cy="271.2" r="1.9" fill="#235e5e"/>
<circle cx="36.8" cy="285" r="1.9" fill="#235e5e"/>
<circle cx="45" cy="271.8" r="1.9" fill="#235e5e"/>
<circle cx="37.5" cy="284.5" r="1.9" fill="#235e5e"/>
<circle cx="42.5" cy="296.9" r="1.9" fill="#235e5e"/>
<circle cx="43.1" cy="293.5" r="1.9" fill="#235e5e"/>
<circle cx="42.7" cy="290.7" r="1.9" fill="#235e5e"/>
<circle cx="42.4" cy="288.8" r="1.9" fill="#235e5e"/>
<circle cx="42.6" cy="285.4" r="1.9" fill="#235e5e"/>
<circle cx="42.6" cy="282.5" r="1.9" fill="#235e5e"/>
<circle cx="42.8" cy="279.4" r="1.9" fill="#235e5e"/>
<circle cx="42.5" cy="277.1" r="1.9" fill="#235e5e"/>
<polygon points="47.4,324.8 47.4,288.2 48.3,290.1 49.7,288.5 50.6,289.1 51.5,281.9 52.4,283.1 53.1,280.1 54.1,281.1 54.9,280.6 56.3,286 57.6,285.8 58.7,285.2 59.4,286.2 60.6,291.2 60.6,324.8" fill="#a8d0d2"/>
<circle cx="56.1" cy="266" r="1.9" fill="#a8d0d2"/>
<circle cx="49" cy="282.9" r="1.9" fill="#a8d0d2"/>
<circle cx="53.8" cy="273.7" r="1.9" fill="#a8d0d2"/>
<circle cx="49.6" cy="283.2" r="1.9" fill="#a8d0d2"/>
<circle cx="56.5" cy="271.1" r="1.9" fill="#a8d0d2"/>
<circle cx="56.5" cy="276.4" r="1.9" fill="#a8d0d2"/>
<circle cx="57" cy="271" r="1.9" fill="#a8d0d2"/>
<circle cx="52.5" cy="276.8" r="1.9" fill="#a8d0d2"/>
<circle cx="58.2" cy="275.4" r="1.9" fill="#a8d0d2"/>
<circle cx="53.1" cy="273.7" r="1.9" fill="#a8d0d2"/>
<circle cx="57.8" cy="280.2" r="1.9" fill="#a8d0d2"/>
<circle cx="55.3" cy="278.7" r="1.9" fill="#a8d0d2"/>
<circle cx="54.9" cy="276.1" r="1.9" fill="#a8d0d2"/>
<circle cx="49.6" cy="282" r="1.9" fill="#a8d0d2"/>
<circle cx="59.1" cy="277.4" r="1.9" fill="#a8d0d2"/>
<circle cx="56.4" cy="279.8" r="1.9" fill="#a8d0d2"/>
<circle cx="56.4" cy="278.1" r="1.9" fill="#a8d0d2"/>
<circle cx="53.4" cy="272" r="1.9" fill="#a8d0d2"/>
<circle cx="49.7" cy="280.2" r="1.9" fill="#a8d0d2"/>
<circle cx="49.1" cy="283.2" r="1.9" fill="#a8d0d2"/>
<circle cx="53.8" cy="278.8" r="1.9" fill="#a8d0d2"/>
<circle cx="56.1" cy="278.5" r="1.9" fill="#a8d0d2"/>
<circle cx="55.2" cy="268.7" r="1.9" fill="#a8d0d2"/>
<circle cx="51.5" cy="284.1" r="1.9" fill="#a8d0d2"/>
<circle cx="51.9" cy="277.8" r="1.9" fill="#a8d0d2"/>
<circle cx="50.9" cy="284.2" r="1.9" fill="#a8d0d2"/>
<circle cx="58.2" cy="280.2" r="1.9" fill="#a8d0d2"/>
<circle cx="53.4" cy="270" r="1.9" fill="#a8d0d2"/>
<circle cx="52.2" cy="277.5" r="1.9" fill="#a8d0d2"/>
<circle cx="50.9" cy="282.4" r="1.9" fill="#a8d0d2"/>
<circle cx="57.2" cy="271.2" r="1.9" fill="#a8d0d2"/>
<circle cx="58" cy="282.4" r="1.9" fill="#a8d0d2"/>
<circle cx="54.9" cy="278.8" r="1.9" fill="#a8d0d2"/>
<circle cx="50.2" cy="272.1" r="1.9" fill="#a8d0d2"/>
<circle cx="57.5" cy="264.2" r="1.9" fill="#a8d0d2"/>
<circle cx="56.2" cy="262.2" r="1.9" fill="#a8d0d2"/>
<circle cx="51.7" cy="277.1" r="1.9" fill="#a8d0d2"/>
<circle cx="53.5" cy="272.8" r="1.9" fill="#a8d0d2"/>
<circle cx="51.5" cy="287.7" r="1.9" fill="#a8d0d2"/>
<circle cx="51.2" cy="285.2" r="1.9" fill="#a8d0d2"/>
<circle cx="51.8" cy="282" r="1.9" fill="#a8d0d2"/>
<circle cx="51" cy="279.5" r="1.9" fill="#a8d0d2"/>
<circle cx="51.7" cy="277.7" r="1.9" fill="#a8d0d2"/>
<circle cx="51.5" cy="275.9" r="1.9" fill="#a8d0d2"/>
<circle cx="51.2" cy="273.2" r="1.9" fill="#a8d0d2"/>
<polygon points="60.6,324.8 60.6,298.2 61.4,300.7 62.1,302.8 63,298.1 63.8,300.8 64.8,299.5 66,299.3 67.5,295.1 68.4,291.1 69.2,285.6 70.3,288 71.1,284.3 72.1,285.8 73.2,285.4 74.5,285.6 75.6,286.6 75.6,324.8" fill="#f2b24e"/>
<circle cx="73.1" cy="283.2" r="1.9" fill="#f2b24e"/>
<circle cx="73.4" cy="277.9" r="1.9" fill="#f2b24e"/>
<circle cx="63.6" cy="296.3" r="1.9" fill="#f2b24e"/>
<circle cx="69.6" cy="274.9" r="1.9" fill="#f2b24e"/>
<circle cx="66.6" cy="291.7" r="1.9" fill="#f2b24e"/>
<circle cx="72.7" cy="275.6" r="1.9" fill="#f2b24e"/>
<circle cx="73.5" cy="281.2" r="1.9" fill="#f2b24e"/>
<circle cx="69.9" cy="285.1" r="1.9" fill="#f2b24e"/>
<circle cx="70.8" cy="277" r="1.9" fill="#f2b24e"/>
<circle cx="69.8" cy="280.2" r="1.9" fill="#f2b24e"/>
<circle cx="64.6" cy="287" r="1.9" fill="#f2b24e"/>
<circle cx="68.6" cy="282.3" r="1.9" fill="#f2b24e"/>
<circle cx="65.9" cy="285" r="1.9" fill="#f2b24e"/>
<circle cx="72.4" cy="281.3" r="1.9" fill="#f2b24e"/>
<circle cx="63" cy="296.7" r="1.9" fill="#f2b24e"/>
<circle cx="68.7" cy="282.3" r="1.9" fill="#f2b24e"/>
<circle cx="67.9" cy="291.5" r="1.9" fill="#f2b24e"/>
<circle cx="71.9" cy="283.7" r="1.9" fill="#f2b24e"/>
<circle cx="71.8" cy="283.2" r="1.9" fill="#f2b24e"/>
<circle cx="66.1" cy="288.9" r="1.9" fill="#f2b24e"/>
<circle cx="63.7" cy="298.3" r="1.9" fill="#f2b24e"/>
<circle cx="68.3" cy="284.4" r="1.9" fill="#f2b24e"/>
<circle cx="72.2" cy="277.9" r="1.9" fill="#f2b24e"/>
<circle cx="73.5" cy="281" r="1.9" fill="#f2b24e"/>
<circle cx="73.6" cy="283.8" r="1.9" fill="#f2b24e"/>
<circle cx="64.7" cy="294.4" r="1.9" fill="#f2b24e"/>
<circle cx="65.5" cy="290.7" r="1.9" fill="#f2b24e"/>
<circle cx="69.8" cy="282.8" r="1.9" fill="#f2b24e"/>
<circle cx="72.3" cy="279.5" r="1.9" fill="#f2b24e"/>
<circle cx="65.8" cy="294.4" r="1.9" fill="#f2b24e"/>
<circle cx="72.3" cy="272.3" r="1.9" fill="#f2b24e"/>
<circle cx="64.5" cy="289" r="1.9" fill="#f2b24e"/>
<circle cx="73.8" cy="281" r="1.9" fill="#f2b24e"/>
<circle cx="69" cy="287.4" r="1.9" fill="#f2b24e"/>
<circle cx="68.5" cy="286.5" r="1.9" fill="#f2b24e"/>
<circle cx="69.4" cy="287.1" r="1.9" fill="#f2b24e"/>
<circle cx="73.8" cy="281.1" r="1.9" fill="#f2b24e"/>
<circle cx="66.9" cy="273.8" r="1.9" fill="#f2b24e"/>
<circle cx="68.9" cy="277.5" r="1.9" fill="#f2b24e"/>
<circle cx="70.4" cy="281.3" r="1.9" fill="#f2b24e"/>
<circle cx="68.6" cy="279.3" r="1.9" fill="#f2b24e"/>
<circle cx="73.7" cy="270.2" r="1.9" fill="#f2b24e"/>
<circle cx="65.3" cy="282.3" r="1.9" fill="#f2b24e"/>
<circle cx="64.2" cy="302.2" r="1.9" fill="#f2b24e"/>
<circle cx="64" cy="299" r="1.9" fill="#f2b24e"/>
<circle cx="63.7" cy="296.7" r="1.9" fill="#f2b24e"/>
<circle cx="64.3" cy="293.9" r="1.9" fill="#f2b24e"/>
<circle cx="64.2" cy="292" r="1.9" fill="#f2b24e"/>
<circle cx="63.8" cy="290.2" r="1.9" fill="#f2b24e"/>
<circle cx="64.1" cy="288.1" r="1.9" fill="#f2b24e"/>
<circle cx="63.9" cy="285.8" r="1.9" fill="#f2b24e"/>
<polygon points="75.6,324.8 75.6,289.6 76.9,288.4 78,288.2 78.9,289.1 79.9,288.1 80.9,289.4 81.8,287.6 83,290.4 84.1,290.7 85.3,289.5 86.2,287.9 87.5,289.7 88.5,286.6 89.9,286.9 91.4,292.1 92.2,288.5 93.4,290 93.4,324.8" fill="#235e5e"/>
<circle cx="80.9" cy="287.8" r="1.9" fill="#235e5e"/>
<circle cx="89.5" cy="284.9" r="1.9" fill="#235e5e"/>
<circle cx="88.8" cy="286.5" r="1.9" fill="#235e5e"/>
<circle cx="83" cy="283" r="1.9" fill="#235e5e"/>
<circle cx="77.3" cy="288.5" r="1.9" fill="#235e5e"/>
<circle cx="87.2" cy="274.4" r="1.9" fill="#235e5e"/>
<circle cx="91.5" cy="288.2" r="1.9" fill="#235e5e"/>
<circle cx="84.6" cy="280.2" r="1.9" fill="#235e5e"/>
<circle cx="84.5" cy="281.5" r="1.9" fill="#235e5e"/>
<circle cx="79.8" cy="287.6" r="1.9" fill="#235e5e"/>
<circle cx="78.6" cy="288.1" r="1.9" fill="#235e5e"/>
<circle cx="85.3" cy="282.9" r="1.9" fill="#235e5e"/>
<circle cx="85.5" cy="285.4" r="1.9" fill="#235e5e"/>
<circle cx="79.8" cy="286.8" r="1.9" fill="#235e5e"/>
<circle cx="90.9" cy="288" r="1.9" fill="#235e5e"/>
<circle cx="77.9" cy="274.3" r="1.9" fill="#235e5e"/>
<circle cx="83.9" cy="280.7" r="1.9" fill="#235e5e"/>
<circle cx="81.9" cy="285.6" r="1.9" fill="#235e5e"/>
<circle cx="84.7" cy="284.2" r="1.9" fill="#235e5e"/>
<circle cx="86" cy="285.6" r="1.9" fill="#235e5e"/>
<circle cx="87.5" cy="277.3" r="1.9" fill="#235e5e"/>
<circle cx="79.7" cy="285" r="1.9" fill="#235e5e"/>
<circle cx="88.1" cy="284.1" r="1.9" fill="#235e5e"/>
<circle cx="79.9" cy="287.1" r="1.9" fill="#235e5e"/>
<circle cx="84.7" cy="286.9" r="1.9" fill="#235e5e"/>
<circle cx="90.4" cy="280.3" r="1.9" fill="#235e5e"/>
<circle cx="87.6" cy="276.8" r="1.9" fill="#235e5e"/>
<circle cx="86.4" cy="283.1" r="1.9" fill="#235e5e"/>
<circle cx="86" cy="282.3" r="1.9" fill="#235e5e"/>
<circle cx="91.7" cy="281.1" r="1.9" fill="#235e5e"/>
<circle cx="80.9" cy="276.6" r="1.9" fill="#235e5e"/>
<circle cx="88.2" cy="279.4" r="1.9" fill="#235e5e"/>
<circle cx="89.2" cy="284.8" r="1.9" fill="#235e5e"/>
<circle cx="90.4" cy="277.9" r="1.9" fill="#235e5e"/>
<circle cx="87.4" cy="279.1" r="1.9" fill="#235e5e"/>
<circle cx="88.5" cy="284.4" r="1.9" fill="#235e5e"/>
<circle cx="87.8" cy="286.1" r="1.9" fill="#235e5e"/>
<circle cx="82.1" cy="285.7" r="1.9" fill="#235e5e"/>
<circle cx="77.2" cy="287.6" r="1.9" fill="#235e5e"/>
<circle cx="86.6" cy="280.9" r="1.9" fill="#235e5e"/>
<circle cx="80.5" cy="274.2" r="1.9" fill="#235e5e"/>
<circle cx="87" cy="283.9" r="1.9" fill="#235e5e"/>
<circle cx="86.9" cy="281.8" r="1.9" fill="#235e5e"/>
<circle cx="85" cy="284.3" r="1.9" fill="#235e5e"/>
<circle cx="92" cy="284.2" r="1.9" fill="#235e5e"/>
<circle cx="87.5" cy="269.9" r="1.9" fill="#235e5e"/>
<circle cx="91.7" cy="285.1" r="1.9" fill="#235e5e"/>
<circle cx="86.2" cy="270.1" r="1.9" fill="#235e5e"/>
<circle cx="80.8" cy="277.2" r="1.9" fill="#235e5e"/>
<circle cx="77.8" cy="281.8" r="1.9" fill="#235e5e"/>
<circle cx="82.6" cy="283.5" r="1.9" fill="#235e5e"/>
<circle cx="80.8" cy="267.7" r="1.9" fill="#235e5e"/>
<circle cx="85.3" cy="274.3" r="1.9" fill="#235e5e"/>
<circle cx="91.3" cy="291.9" r="1.9" fill="#235e5e"/>
<circle cx="91.2" cy="289.1" r="1.9" fill="#235e5e"/>
<circle cx="91" cy="287.2" r="1.9" fill="#235e5e"/>
<circle cx="90.6" cy="284.2" r="1.9" fill="#235e5e"/>
<circle cx="90.7" cy="280.9" r="1.9" fill="#235e5e"/>
<circle cx="90.7" cy="278.3" r="1.9" fill="#235e5e"/>
<circle cx="91" cy="275.8" r="1.9" fill="#235e5e"/>
<circle cx="91.3" cy="273.9" r="1.9" fill="#235e5e"/>
<polygon points="93.4,324.8 93.4,285.3 94.6,283.9 95.5,285.4 96.7,282.7 97.9,281.5 98.6,280.5 99.4,279.1 100.7,280.3 102.1,283.5 102.8,285.5 104.3,280.7 105.7,284 106.8,288.2 107.7,285.6 109.1,287.4 110.2,289.4 111.6,287.9 112.4,288.6 113.4,286.7 113.5,287.8 113.5,324.8" fill="#a8d0d2"/>
<circle cx="103.9" cy="281.7" r="1.9" fill="#a8d0d2"/>
<circle cx="102.5" cy="276" r="1.9" fill="#a8d0d2"/>
<circle cx="102.7" cy="280" r="1.9" fill="#a8d0d2"/>
<circle cx="104.9" cy="280.3" r="1.9" fill="#a8d0d2"/>
<circle cx="108.3" cy="281.1" r="1.9" fill="#a8d0d2"/>
<circle cx="112.1" cy="272" r="1.9" fill="#a8d0d2"/>
<circle cx="107.5" cy="283.2" r="1.9" fill="#a8d0d2"/>
<circle cx="96.8" cy="272.3" r="1.9" fill="#a8d0d2"/>
<circle cx="108.4" cy="280.1" r="1.9" fill="#a8d0d2"/>
<circle cx="101" cy="278.8" r="1.9" fill="#a8d0d2"/>
<circle cx="106.7" cy="280.2" r="1.9" fill="#a8d0d2"/>
<circle cx="105" cy="278.2" r="1.9" fill="#a8d0d2"/>
<circle cx="107.8" cy="283.6" r="1.9" fill="#a8d0d2"/>
<circle cx="99.1" cy="261.9" r="1.9" fill="#a8d0d2"/>
<circle cx="110.6" cy="275.6" r="1.9" fill="#a8d0d2"/>
<circle cx="95.5" cy="283.3" r="1.9" fill="#a8d0d2"/>
<circle cx="99.5" cy="277.7" r="1.9" fill="#a8d0d2"/>
<circle cx="105.6" cy="282.9" r="1.9" fill="#a8d0d2"/>
<circle cx="104.2" cy="282.1" r="1.9" fill="#a8d0d2"/>
<circle cx="96.3" cy="277.9" r="1.9" fill="#a8d0d2"/>
<circle cx="104.3" cy="277.8" r="1.9" fill="#a8d0d2"/>
<circle cx="101.3" cy="277.3" r="1.9" fill="#a8d0d2"/>
<circle cx="98.4" cy="279.4" r="1.9" fill="#a8d0d2"/>
<circle cx="107.7" cy="275.8" r="1.9" fill="#a8d0d2"/>
<circle cx="96.1" cy="282.8" r="1.9" fill="#a8d0d2"/>
<circle cx="108.8" cy="280.3" r="1.9" fill="#a8d0d2"/>
<circle cx="108.1" cy="283.6" r="1.9" fill="#a8d0d2"/>
<circle cx="102.1" cy="279.7" r="1.9" fill="#a8d0d2"/>
<circle cx="108.8" cy="282.8" r="1.9" fill="#a8d0d2"/>
<circle cx="106.1" cy="262" r="1.9" fill="#a8d0d2"/>
<circle cx="100.4" cy="276.1" r="1.9" fill="#a8d0d2"/>
<circle cx="107.7" cy="272.4" r="1.9" fill="#a8d0d2"/>
<circle cx="102.2" cy="278.9" r="1.9" fill="#a8d0d2"/>
<circle cx="96.5" cy="273.2" r="1.9" fill="#a8d0d2"/>
<circle cx="96.2" cy="282.9" r="1.9" fill="#a8d0d2"/>
<circle cx="104.6" cy="279.6" r="1.9" fill="#a8d0d2"/>
<circle cx="106.7" cy="282.5" r="1.9" fill="#a8d0d2"/>
<circle cx="108.2" cy="284.4" r="1.9" fill="#a8d0d2"/>
<circle cx="98.5" cy="276.1" r="1.9" fill="#a8d0d2"/>
<circle cx="96.2" cy="281.6" r="1.9" fill="#a8d0d2"/>
<circle cx="107.3" cy="278.8" r="1.9" fill="#a8d0d2"/>
<circle cx="99.7" cy="279.4" r="1.9" fill="#a8d0d2"/>
<circle cx="101" cy="274.1" r="1.9" fill="#a8d0d2"/>
<circle cx="101.1" cy="279.8" r="1.9" fill="#a8d0d2"/>
<circle cx="107.1" cy="280.3" r="1.9" fill="#a8d0d2"/>
<circle cx="110.7" cy="272.2" r="1.9" fill="#a8d0d2"/>
<circle cx="110.6" cy="283" r="1.9" fill="#a8d0d2"/>
<circle cx="108.7" cy="283.2" r="1.9" fill="#a8d0d2"/>
<circle cx="100.3" cy="277.4" r="1.9" fill="#a8d0d2"/>
<circle cx="111" cy="275.1" r="1.9" fill="#a8d0d2"/>
<circle cx="99.1" cy="278.6" r="1.9" fill="#a8d0d2"/>
<circle cx="101.1" cy="278.2" r="1.9" fill="#a8d0d2"/>
<circle cx="101.6" cy="271.1" r="1.9" fill="#a8d0d2"/>
<circle cx="98.2" cy="268.7" r="1.9" fill="#a8d0d2"/>
<circle cx="108.6" cy="270.6" r="1.9" fill="#a8d0d2"/>
<circle cx="109.3" cy="270.2" r="1.9" fill="#a8d0d2"/>
<circle cx="97.9" cy="265.5" r="1.9" fill="#a8d0d2"/>
<circle cx="110" cy="276.1" r="1.9" fill="#a8d0d2"/>
<circle cx="95.2" cy="270.5" r="1.9" fill="#a8d0d2"/>
<circle cx="104.2" cy="269" r="1.9" fill="#a8d0d2"/>
<circle cx="111.5" cy="268.8" r="1.9" fill="#a8d0d2"/>
<circle cx="108.4" cy="288.3" r="1.9" fill="#a8d0d2"/>
<circle cx="108" cy="285.2" r="1.9" fill="#a8d0d2"/>
<circle cx="108.5" cy="283.3" r="1.9" fill="#a8d0d2"/>
<circle cx="108" cy="280.1" r="1.9" fill="#a8d0d2"/>
<circle cx="108.1" cy="277.2" r="1.9" fill="#a8d0d2"/>
<circle cx="105.6" cy="287.1" r="1.9" fill="#a8d0d2"/>
<circle cx="105.9" cy="284.1" r="1.9" fill="#a8d0d2"/>
<circle cx="105.8" cy="281" r="1.9" fill="#a8d0d2"/>
<circle cx="106.2" cy="278.7" r="1.9" fill="#a8d0d2"/>
<circle cx="105.8" cy="275.8" r="1.9" fill="#a8d0d2"/>
<circle cx="106" cy="273.2" r="1.9" fill="#a8d0d2"/>
<polygon points="113.5,324.8 113.5,291.2 114.5,289.2 115.8,287.6 117.1,286 118.5,286.3 119.7,283.1 121,285.9 122,284.6 122.9,287.5 124.3,284.7 125.2,283 126.2,282.8 127.7,280.3 128.6,279.9 129.9,283.3 130.7,278.1 131.8,280.7 133.2,277.1 134,279.1 134.9,280.7 136,283.1 136,324.8" fill="#f2b24e"/>
<circle cx="126.6" cy="281.7" r="1.9" fill="#f2b24e"/>
<circle cx="118.5" cy="280.9" r="1.9" fill="#f2b24e"/>
<circle cx="118.3" cy="275.7" r="1.9" fill="#f2b24e"/>
<circle cx="121" cy="279.4" r="1.9" fill="#f2b24e"/>
<circle cx="131" cy="276.7" r="1.9" fill="#f2b24e"/>
<circle cx="120" cy="271.6" r="1.9" fill="#f2b24e"/>
<circle cx="132.9" cy="276.7" r="1.9" fill="#f2b24e"/>
<circle cx="125.7" cy="268.4" r="1.9" fill="#f2b24e"/>
<circle cx="124.4" cy="283.3" r="1.9" fill="#f2b24e"/>
<circle cx="115.9" cy="270.1" r="1.9" fill="#f2b24e"/>
<circle cx="130.7" cy="277.7" r="1.9" fill="#f2b24e"/>
<circle cx="125.3" cy="280.4" r="1.9" fill="#f2b24e"/>
<circle cx="120.3" cy="260" r="1.9" fill="#f2b24e"/>
<circle cx="127.9" cy="280.8" r="1.9" fill="#f2b24e"/>
<circle cx="115.1" cy="282.3" r="1.9" fill="#f2b24e"/>
<circle cx="122.2" cy="276.8" r="1.9" fill="#f2b24e"/>
<circle cx="129" cy="276.8" r="1.9" fill="#f2b24e"/>
<circle cx="118" cy="281.9" r="1.9" fill="#f2b24e"/>
<circle cx="121.2" cy="282" r="1.9" fill="#f2b24e"/>
<circle cx="132" cy="275.6" r="1.9" fill="#f2b24e"/>
<circle cx="127.4" cy="258.3" r="1.9" fill="#f2b24e"/>
<circle cx="120.2" cy="278.5" r="1.9" fill="#f2b24e"/>
<circle cx="117.9" cy="275.6" r="1.9" fill="#f2b24e"/>
<circle cx="114.9" cy="277.4" r="1.9" fill="#f2b24e"/>
<circle cx="131.6" cy="271.1" r="1.9" fill="#f2b24e"/>
<circle cx="116.5" cy="281.9" r="1.9" fill="#f2b24e"/>
<circle cx="129" cy="280.8" r="1.9" fill="#f2b24e"/>
<circle cx="124.4" cy="281.5" r="1.9" fill="#f2b24e"/>
<circle cx="133.7" cy="275.6" r="1.9" fill="#f2b24e"/>
<circle cx="131.8" cy="277.5" r="1.9" fill="#f2b24e"/>
<circle cx="130.4" cy="277.6" r="1.9" fill="#f2b24e"/>
<circle cx="133" cy="278.3" r="1.9" fill="#f2b24e"/>
<circle cx="131.2" cy="278.6" r="1.9" fill="#f2b24e"/>
<circle cx="125.6" cy="280.1" r="1.9" fill="#f2b24e"/>
<circle cx="118" cy="274.1" r="1.9" fill="#f2b24e"/>
<circle cx="121" cy="281.4" r="1.9" fill="#f2b24e"/>
<circle cx="116.4" cy="281.8" r="1.9" fill="#f2b24e"/>
<circle cx="124.1" cy="278.7" r="1.9" fill="#f2b24e"/>
<circle cx="122" cy="278.6" r="1.9" fill="#f2b24e"/>
<circle cx="117" cy="280.6" r="1.9" fill="#f2b24e"/>
<circle cx="124" cy="268.4" r="1.9" fill="#f2b24e"/>
<circle cx="131.2" cy="274.5" r="1.9" fill="#f2b24e"/>
<circle cx="115.1" cy="283.1" r="1.9" fill="#f2b24e"/>
<circle cx="128.9" cy="280" r="1.9" fill="#f2b24e"/>
<circle cx="126" cy="280.4" r="1.9" fill="#f2b24e"/>
<circle cx="115.1" cy="262.4" r="1.9" fill="#f2b24e"/>
<circle cx="130.6" cy="279" r="1.9" fill="#f2b24e"/>
<circle cx="127" cy="281" r="1.9" fill="#f2b24e"/>
<circle cx="122.3" cy="280.8" r="1.9" fill="#f2b24e"/>
<circle cx="120.8" cy="280.9" r="1.9" fill="#f2b24e"/>
<circle cx="122.6" cy="279.6" r="1.9" fill="#f2b24e"/>
<circle cx="120" cy="280.9" r="1.9" fill="#f2b24e"/>
<circle cx="129.3" cy="279.1" r="1.9" fill="#f2b24e"/>
<circle cx="133.5" cy="275.6" r="1.9" fill="#f2b24e"/>
<circle cx="129.2" cy="279.2" r="1.9" fill="#f2b24e"/>
<circle cx="131.2" cy="279.2" r="1.9" fill="#f2b24e"/>
<circle cx="117.7" cy="282.3" r="1.9" fill="#f2b24e"/>
<circle cx="128.3" cy="275.8" r="1.9" fill="#f2b24e"/>
<circle cx="118.4" cy="269.2" r="1.9" fill="#f2b24e"/>
<circle cx="131.4" cy="263.2" r="1.9" fill="#f2b24e"/>
<circle cx="116.7" cy="274" r="1.9" fill="#f2b24e"/>
<circle cx="118" cy="276.2" r="1.9" fill="#f2b24e"/>
<circle cx="122.9" cy="279.8" r="1.9" fill="#f2b24e"/>
<circle cx="133" cy="266.5" r="1.9" fill="#f2b24e"/>
<circle cx="125" cy="263.7" r="1.9" fill="#f2b24e"/>
<circle cx="130" cy="258.5" r="1.9" fill="#f2b24e"/>
<circle cx="122.5" cy="272.4" r="1.9" fill="#f2b24e"/>
<circle cx="123" cy="281.4" r="1.9" fill="#f2b24e"/>
<circle cx="123.3" cy="288.7" r="1.9" fill="#f2b24e"/>
<circle cx="123" cy="285.6" r="1.9" fill="#f2b24e"/>
<circle cx="122.5" cy="282.8" r="1.9" fill="#f2b24e"/>
<circle cx="122.8" cy="280.5" r="1.9" fill="#f2b24e"/>
<circle cx="122.6" cy="277.6" r="1.9" fill="#f2b24e"/>
<circle cx="122.9" cy="275.3" r="1.9" fill="#f2b24e"/>
<circle cx="123.2" cy="272.2" r="1.9" fill="#f2b24e"/>
<circle cx="122.6" cy="269.4" r="1.9" fill="#f2b24e"/>
<circle cx="132.1" cy="282.4" r="1.9" fill="#f2b24e"/>
<circle cx="131.9" cy="279.8" r="1.9" fill="#f2b24e"/>
<circle cx="132.6" cy="276.9" r="1.9" fill="#f2b24e"/>
<circle cx="132.4" cy="274.3" r="1.9" fill="#f2b24e"/>
<circle cx="132" cy="271.1" r="1.9" fill="#f2b24e"/>
<circle cx="132.3" cy="267.7" r="1.9" fill="#f2b24e"/>
<circle cx="131.9" cy="265.7" r="1.9" fill="#f2b24e"/>
<polygon points="136,324.8 136,292.5 137.3,291.4 138.7,292.1 139.8,290.4 141.3,287.6 142.7,287.5 143.8,285.3 144.7,285.8 146.2,282.3 147.4,276.6 148.8,276.7 150.2,275.5 151.3,280.6 152.2,279.9 153,277.7 153.8,284.8 153.8,280.8 153.8,324.8" fill="#235e5e"/>
<circle cx="147.3" cy="276.4" r="1.9" fill="#235e5e"/>
<circle cx="147.5" cy="271.6" r="1.9" fill="#235e5e"/>
<circle cx="143.1" cy="281.1" r="1.9" fill="#235e5e"/>
<circle cx="149.5" cy="276.7" r="1.9" fill="#235e5e"/>
<circle cx="140.4" cy="287.7" r="1.9" fill="#235e5e"/>
<circle cx="139.5" cy="290" r="1.9" fill="#235e5e"/>
<circle cx="145.9" cy="279.1" r="1.9" fill="#235e5e"/>
<circle cx="145.2" cy="279.9" r="1.9" fill="#235e5e"/>
<circle cx="145.9" cy="278.1" r="1.9" fill="#235e5e"/>
<circle cx="147" cy="278.1" r="1.9" fill="#235e5e"/>
<circle cx="147.5" cy="277.3" r="1.9" fill="#235e5e"/>
<circle cx="151.8" cy="273.8" r="1.9" fill="#235e5e"/>
<circle cx="144.4" cy="280.3" r="1.9" fill="#235e5e"/>
<circle cx="146.8" cy="272.9" r="1.9" fill="#235e5e"/>
<circle cx="148.8" cy="270.5" r="1.9" fill="#235e5e"/>
<circle cx="150" cy="267.1" r="1.9" fill="#235e5e"/>
<circle cx="143.5" cy="281.9" r="1.9" fill="#235e5e"/>
<circle cx="145.9" cy="268.7" r="1.9" fill="#235e5e"/>
<circle cx="145.3" cy="277.6" r="1.9" fill="#235e5e"/>
<circle cx="143.9" cy="272.6" r="1.9" fill="#235e5e"/>
<circle cx="142.2" cy="286.9" r="1.9" fill="#235e5e"/>
<circle cx="148.3" cy="266.4" r="1.9" fill="#235e5e"/>
<circle cx="148.4" cy="273.1" r="1.9" fill="#235e5e"/>
<circle cx="148.7" cy="275.5" r="1.9" fill="#235e5e"/>
<circle cx="146.3" cy="278.9" r="1.9" fill="#235e5e"/>
<circle cx="139.3" cy="289.4" r="1.9" fill="#235e5e"/>
<circle cx="144.9" cy="279.5" r="1.9" fill="#235e5e"/>
<circle cx="138.2" cy="286.2" r="1.9" fill="#235e5e"/>
<circle cx="145.3" cy="279.9" r="1.9" fill="#235e5e"/>
<circle cx="142" cy="285.2" r="1.9" fill="#235e5e"/>
<circle cx="140.9" cy="289.3" r="1.9" fill="#235e5e"/>
<circle cx="151.1" cy="260.9" r="1.9" fill="#235e5e"/>
<circle cx="147.4" cy="268.4" r="1.9" fill="#235e5e"/>
<circle cx="143.7" cy="276.4" r="1.9" fill="#235e5e"/>
<circle cx="140.7" cy="283.5" r="1.9" fill="#235e5e"/>
<circle cx="145.9" cy="268.8" r="1.9" fill="#235e5e"/>
<circle cx="138.9" cy="284.5" r="1.9" fill="#235e5e"/>
<circle cx="139.3" cy="288.5" r="1.9" fill="#235e5e"/>
<circle cx="151.7" cy="278.1" r="1.9" fill="#235e5e"/>
<circle cx="141.1" cy="287.7" r="1.9" fill="#235e5e"/>
<circle cx="142.3" cy="286.8" r="1.9" fill="#235e5e"/>
<circle cx="150.8" cy="268.8" r="1.9" fill="#235e5e"/>
<circle cx="143.4" cy="282.9" r="1.9" fill="#235e5e"/>
<circle cx="146.2" cy="279.3" r="1.9" fill="#235e5e"/>
<circle cx="137.9" cy="280.8" r="1.9" fill="#235e5e"/>
<circle cx="142" cy="271" r="1.9" fill="#235e5e"/>
<circle cx="151.4" cy="258.2" r="1.9" fill="#235e5e"/>
<circle cx="144.5" cy="274.9" r="1.9" fill="#235e5e"/>
<circle cx="141.8" cy="259.9" r="1.9" fill="#235e5e"/>
<circle cx="150.9" cy="270.5" r="1.9" fill="#235e5e"/>
<circle cx="150" cy="267.6" r="1.9" fill="#235e5e"/>
<circle cx="144.5" cy="275.7" r="1.9" fill="#235e5e"/>
<circle cx="150.6" cy="257.9" r="1.9" fill="#235e5e"/>
<circle cx="140.5" cy="293.4" r="1.9" fill="#235e5e"/>
<circle cx="140.4" cy="290.2" r="1.9" fill="#235e5e"/>
<circle cx="141" cy="288.3" r="1.9" fill="#235e5e"/>
<circle cx="141.1" cy="286" r="1.9" fill="#235e5e"/>
<circle cx="141" cy="282.8" r="1.9" fill="#235e5e"/>
<circle cx="140.9" cy="280.8" r="1.9" fill="#235e5e"/>
<circle cx="140.7" cy="277.5" r="1.9" fill="#235e5e"/>
<circle cx="140.6" cy="275.6" r="1.9" fill="#235e5e"/>
<polygon points="153.8,324.8 153.8,278.4 154.7,274.6 155.5,277.2 156.9,274.6 158.1,277.3 159.3,273.4 160.2,278.1 161.5,274.3 162.7,273.5 164.2,276.1 165.3,277 166,277.6 166.9,275.7 168.3,275 169.2,279.5 170.1,276.7 170.6,277.4 170.6,324.8" fill="#a8d0d2"/>
<circle cx="169" cy="276.8" r="1.9" fill="#a8d0d2"/>
<circle cx="161.7" cy="268.2" r="1.9" fill="#a8d0d2"/>
<circle cx="162.2" cy="274.1" r="1.9" fill="#a8d0d2"/>
<circle cx="163" cy="270.3" r="1.9" fill="#a8d0d2"/>
<circle cx="160.2" cy="269.4" r="1.9" fill="#a8d0d2"/>
<circle cx="166.2" cy="272.7" r="1.9" fill="#a8d0d2"/>
<circle cx="162.3" cy="266.1" r="1.9" fill="#a8d0d2"/>
<circle cx="164.8" cy="272.3" r="1.9" fill="#a8d0d2"/>
<circle cx="168.5" cy="275.9" r="1.9" fill="#a8d0d2"/>
<circle cx="166.1" cy="275.3" r="1.9" fill="#a8d0d2"/>
<circle cx="163.7" cy="274.2" r="1.9" fill="#a8d0d2"/>
<circle cx="161.4" cy="267.7" r="1.9" fill="#a8d0d2"/>
<circle cx="166.2" cy="268.6" r="1.9" fill="#a8d0d2"/>
<circle cx="158.5" cy="270.8" r="1.9" fill="#a8d0d2"/>
<circle cx="158.3" cy="269.8" r="1.9" fill="#a8d0d2"/>
<circle cx="162.2" cy="274.9" r="1.9" fill="#a8d0d2"/>
<circle cx="163.6" cy="269.4" r="1.9" fill="#a8d0d2"/>
<circle cx="157.7" cy="273.3" r="1.9" fill="#a8d0d2"/>
<circle cx="155.4" cy="272" r="1.9" fill="#a8d0d2"/>
<circle cx="161.3" cy="272" r="1.9" fill="#a8d0d2"/>
<circle cx="158.9" cy="266.5" r="1.9" fill="#a8d0d2"/>
<circle cx="163.2" cy="271.6" r="1.9" fill="#a8d0d2"/>
<circle cx="166.3" cy="274.9" r="1.9" fill="#a8d0d2"/>
<circle cx="157.2" cy="272.6" r="1.9" fill="#a8d0d2"/>
<circle cx="155.8" cy="273.3" r="1.9" fill="#a8d0d2"/>
<circle cx="163.9" cy="272" r="1.9" fill="#a8d0d2"/>
<circle cx="158.9" cy="269.9" r="1.9" fill="#a8d0d2"/>
<circle cx="156.4" cy="266.5" r="1.9" fill="#a8d0d2"/>
<circle cx="157.6" cy="272.7" r="1.9" fill="#a8d0d2"/>
<circle cx="157.4" cy="268.6" r="1.9" fill="#a8d0d2"/>
<circle cx="166.8" cy="268.9" r="1.9" fill="#a8d0d2"/>
<circle cx="156.1" cy="272.5" r="1.9" fill="#a8d0d2"/>
<circle cx="160.3" cy="273.4" r="1.9" fill="#a8d0d2"/>
<circle cx="168.8" cy="276.7" r="1.9" fill="#a8d0d2"/>
<circle cx="162.1" cy="268.1" r="1.9" fill="#a8d0d2"/>
<circle cx="169" cy="276.2" r="1.9" fill="#a8d0d2"/>
<circle cx="161.6" cy="268.3" r="1.9" fill="#a8d0d2"/>
<circle cx="155.7" cy="273.9" r="1.9" fill="#a8d0d2"/>
<circle cx="167.7" cy="275.9" r="1.9" fill="#a8d0d2"/>
<circle cx="160.7" cy="269.6" r="1.9" fill="#a8d0d2"/>
<circle cx="161.1" cy="270.9" r="1.9" fill="#a8d0d2"/>
<circle cx="155.7" cy="265.9" r="1.9" fill="#a8d0d2"/>
<circle cx="165.9" cy="267.7" r="1.9" fill="#a8d0d2"/>
<circle cx="158.4" cy="269.4" r="1.9" fill="#a8d0d2"/>
<circle cx="162.9" cy="270.4" r="1.9" fill="#a8d0d2"/>
<circle cx="161.7" cy="266.3" r="1.9" fill="#a8d0d2"/>
<circle cx="160.8" cy="278.1" r="1.9" fill="#a8d0d2"/>
<circle cx="160.1" cy="275.3" r="1.9" fill="#a8d0d2"/>
<circle cx="160.6" cy="272.9" r="1.9" fill="#a8d0d2"/>
<circle cx="160.3" cy="271" r="1.9" fill="#a8d0d2"/>
<circle cx="160.8" cy="268.1" r="1.9" fill="#a8d0d2"/>
<polygon points="170.6,324.8 170.6,291.1 171.7,286.8 173,285.3 174.4,282.9 175.3,281.7 176.5,280.4 177.4,279.9 178.4,281.3 179.5,286.3 180.7,286.2 181.6,281.3 182.3,281.7 183.3,277.1 184.1,275 185,275.1 186.4,275.2 187.3,271.7 188.1,276.9 189.1,277.9 190.4,281.4 190.7,278.5 190.7,324.8" fill="#f2b24e"/>
<circle cx="177.6" cy="278.7" r="1.9" fill="#f2b24e"/>
<circle cx="173.4" cy="274.5" r="1.9" fill="#f2b24e"/>
<circle cx="177.6" cy="274" r="1.9" fill="#f2b24e"/>
<circle cx="181" cy="282.2" r="1.9" fill="#f2b24e"/>
<circle cx="178.8" cy="280.6" r="1.9" fill="#f2b24e"/>
<circle cx="172.7" cy="284.8" r="1.9" fill="#f2b24e"/>
<circle cx="182.3" cy="279.6" r="1.9" fill="#f2b24e"/>
<circle cx="177.4" cy="278.3" r="1.9" fill="#f2b24e"/>
<circle cx="181.4" cy="280.9" r="1.9" fill="#f2b24e"/>
<circle cx="184.2" cy="274.5" r="1.9" fill="#f2b24e"/>
<circle cx="184.6" cy="270.2" r="1.9" fill="#f2b24e"/>
<circle cx="174.5" cy="282.6" r="1.9" fill="#f2b24e"/>
<circle cx="176.8" cy="275.3" r="1.9" fill="#f2b24e"/>
<circle cx="179" cy="279.7" r="1.9" fill="#f2b24e"/>
<circle cx="187" cy="270.9" r="1.9" fill="#f2b24e"/>
<circle cx="177.1" cy="279.1" r="1.9" fill="#f2b24e"/>
<circle cx="175.7" cy="282.3" r="1.9" fill="#f2b24e"/>
<circle cx="172.4" cy="281.1" r="1.9" fill="#f2b24e"/>
<circle cx="181.8" cy="272.8" r="1.9" fill="#f2b24e"/>
<circle cx="188.9" cy="273.1" r="1.9" fill="#f2b24e"/>
<circle cx="183.6" cy="264.9" r="1.9" fill="#f2b24e"/>
<circle cx="175.7" cy="276.8" r="1.9" fill="#f2b24e"/>
<circle cx="183.5" cy="262.2" r="1.9" fill="#f2b24e"/>
<circle cx="187" cy="270.8" r="1.9" fill="#f2b24e"/>
<circle cx="182.9" cy="278" r="1.9" fill="#f2b24e"/>
<circle cx="179.4" cy="279.9" r="1.9" fill="#f2b24e"/>
<circle cx="173" cy="282.9" r="1.9" fill="#f2b24e"/>
<circle cx="177.7" cy="277.8" r="1.9" fill="#f2b24e"/>
<circle cx="176.8" cy="280.5" r="1.9" fill="#f2b24e"/>
<circle cx="179" cy="278.9" r="1.9" fill="#f2b24e"/>
<circle cx="174.9" cy="278.1" r="1.9" fill="#f2b24e"/>
<circle cx="176.1" cy="281.6" r="1.9" fill="#f2b24e"/>
<circle cx="177.9" cy="278.6" r="1.9" fill="#f2b24e"/>
<circle cx="174.6" cy="279.4" r="1.9" fill="#f2b24e"/>
<circle cx="184.1" cy="272.2" r="1.9" fill="#f2b24e"/>
<circle cx="184.1" cy="276" r="1.9" fill="#f2b24e"/>
<circle cx="178.8" cy="279.7" r="1.9" fill="#f2b24e"/>
<circle cx="173.1" cy="282.7" r="1.9" fill="#f2b24e"/>
<circle cx="172.9" cy="282" r="1.9" fill="#f2b24e"/>
<circle cx="182.1" cy="277" r="1.9" fill="#f2b24e"/>
<circle cx="177.6" cy="279.7" r="1.9" fill="#f2b24e"/>
<circle cx="172.4" cy="283.8" r="1.9" fill="#f2b24e"/>
<circle cx="187.4" cy="267.8" r="1.9" fill="#f2b24e"/>
<circle cx="176.5" cy="276.3" r="1.9" fill="#f2b24e"/>
<circle cx="175.2" cy="279.9" r="1.9" fill="#f2b24e"/>
<circle cx="182.6" cy="264.1" r="1.9" fill="#f2b24e"/>
<circle cx="178.3" cy="277.4" r="1.9" fill="#f2b24e"/>
<circle cx="188.3" cy="266.5" r="1.9" fill="#f2b24e"/>
<circle cx="182.9" cy="273.9" r="1.9" fill="#f2b24e"/>
<circle cx="179.1" cy="279.5" r="1.9" fill="#f2b24e"/>
<circle cx="176.8" cy="272.8" r="1.9" fill="#f2b24e"/>
<circle cx="187.2" cy="269.5" r="1.9" fill="#f2b24e"/>
<circle cx="187.7" cy="268.6" r="1.9" fill="#f2b24e"/>
<circle cx="174.4" cy="269.6" r="1.9" fill="#f2b24e"/>
<circle cx="177.3" cy="270.8" r="1.9" fill="#f2b24e"/>
<circle cx="188.9" cy="269.5" r="1.9" fill="#f2b24e"/>
<circle cx="175.3" cy="274.8" r="1.9" fill="#f2b24e"/>
<circle cx="183.8" cy="269.9" r="1.9" fill="#f2b24e"/>
<circle cx="172" cy="269.9" r="1.9" fill="#f2b24e"/>
<circle cx="178.8" cy="273.8" r="1.9" fill="#f2b24e"/>
<circle cx="180.5" cy="266.2" r="1.9" fill="#f2b24e"/>
<circle cx="181.5" cy="285" r="1.9" fill="#f2b24e"/>
<circle cx="181.8" cy="281.8" r="1.9" fill="#f2b24e"/>
<circle cx="181.3" cy="279.5" r="1.9" fill="#f2b24e"/>
<circle cx="181.3" cy="276.3" r="1.9" fill="#f2b24e"/>
<circle cx="181.6" cy="273.3" r="1.9" fill="#f2b24e"/>
<circle cx="181.8" cy="270.4" r="1.9" fill="#f2b24e"/>
<circle cx="181.2" cy="267.3" r="1.9" fill="#f2b24e"/>
<circle cx="180.4" cy="286.5" r="1.9" fill="#f2b24e"/>
<circle cx="180.7" cy="284.3" r="1.9" fill="#f2b24e"/>
<circle cx="180.3" cy="281.6" r="1.9" fill="#f2b24e"/>
<circle cx="180.4" cy="279.5" r="1.9" fill="#f2b24e"/>
<circle cx="180.5" cy="277.4" r="1.9" fill="#f2b24e"/>
<circle cx="180.2" cy="275.5" r="1.9" fill="#f2b24e"/>
<circle cx="180.2" cy="273.7" r="1.9" fill="#f2b24e"/>
<circle cx="180.2" cy="270.7" r="1.9" fill="#f2b24e"/>
<circle cx="180.7" cy="268.2" r="1.9" fill="#f2b24e"/>
<polygon points="190.7,324.8 190.7,291.1 192.1,294.2 192.8,289.6 193.9,291.9 195,290.9 195.9,290.6 196.8,287.9 198.1,290.7 199.5,288.5 200.5,289 201.7,290 203.1,286.8 204.1,291.3 204.8,290 204.8,324.8" fill="#235e5e"/>
<circle cx="194.2" cy="288.9" r="1.9" fill="#235e5e"/>
<circle cx="203.1" cy="287.7" r="1.9" fill="#235e5e"/>
<circle cx="199.9" cy="284.4" r="1.9" fill="#235e5e"/>
<circle cx="199.2" cy="284.8" r="1.9" fill="#235e5e"/>
<circle cx="192.7" cy="284.4" r="1.9" fill="#235e5e"/>
<circle cx="193.4" cy="289.5" r="1.9" fill="#235e5e"/>
<circle cx="195.3" cy="282.2" r="1.9" fill="#235e5e"/>
<circle cx="203.3" cy="288" r="1.9" fill="#235e5e"/>
<circle cx="195.8" cy="288.2" r="1.9" fill="#235e5e"/>
<circle cx="198.2" cy="284.4" r="1.9" fill="#235e5e"/>
<circle cx="196.3" cy="286.4" r="1.9" fill="#235e5e"/>
<circle cx="201.1" cy="277.8" r="1.9" fill="#235e5e"/>
<circle cx="195.3" cy="286.1" r="1.9" fill="#235e5e"/>
<circle cx="199.1" cy="280.3" r="1.9" fill="#235e5e"/>
<circle cx="203.2" cy="286.1" r="1.9" fill="#235e5e"/>
<circle cx="199.9" cy="283.2" r="1.9" fill="#235e5e"/>
<circle cx="201.1" cy="285.9" r="1.9" fill="#235e5e"/>
<circle cx="194.1" cy="288.5" r="1.9" fill="#235e5e"/>
<circle cx="202.6" cy="286.5" r="1.9" fill="#235e5e"/>
<circle cx="197.6" cy="287.2" r="1.9" fill="#235e5e"/>
<circle cx="195.8" cy="288.3" r="1.9" fill="#235e5e"/>
<circle cx="198.5" cy="286.8" r="1.9" fill="#235e5e"/>
<circle cx="199.2" cy="285.7" r="1.9" fill="#235e5e"/>
<circle cx="194.7" cy="285.6" r="1.9" fill="#235e5e"/>
<circle cx="196.2" cy="286.8" r="1.9" fill="#235e5e"/>
<circle cx="192.7" cy="290.1" r="1.9" fill="#235e5e"/>
<circle cx="202.2" cy="285.7" r="1.9" fill="#235e5e"/>
<circle cx="193" cy="289.1" r="1.9" fill="#235e5e"/>
<circle cx="194.4" cy="279.1" r="1.9" fill="#235e5e"/>
<circle cx="197.6" cy="285.2" r="1.9" fill="#235e5e"/>
<circle cx="201.2" cy="284.2" r="1.9" fill="#235e5e"/>
<circle cx="192.8" cy="286.5" r="1.9" fill="#235e5e"/>
<circle cx="199.5" cy="282.5" r="1.9" fill="#235e5e"/>
<circle cx="195.2" cy="275.7" r="1.9" fill="#235e5e"/>
<circle cx="201.9" cy="275.1" r="1.9" fill="#235e5e"/>
<circle cx="197.1" cy="276.7" r="1.9" fill="#235e5e"/>
<circle cx="200.3" cy="282" r="1.9" fill="#235e5e"/>
<circle cx="192.4" cy="285.2" r="1.9" fill="#235e5e"/>
<circle cx="193.4" cy="285.4" r="1.9" fill="#235e5e"/>
<circle cx="196.2" cy="291.7" r="1.9" fill="#235e5e"/>
<circle cx="195.9" cy="289.1" r="1.9" fill="#235e5e"/>
<circle cx="196.7" cy="287" r="1.9" fill="#235e5e"/>
<circle cx="196.3" cy="285.2" r="1.9" fill="#235e5e"/>
<circle cx="196.6" cy="282.1" r="1.9" fill="#235e5e"/>
<circle cx="196.2" cy="279.1" r="1.9" fill="#235e5e"/>
<circle cx="196.6" cy="276" r="1.9" fill="#235e5e"/>
<polygon points="204.8,324.8 204.8,291.7 205.6,290.8 206.6,288.3 207.5,288.7 208.2,286 209.1,284.3 210.1,285.7 211.4,283.4 212.7,283.2 213.6,286.9 214.5,282.1 215.5,286.5 216.4,286.8 217.5,286.7 218.4,283.3 219.2,285.1 220,285.4 220,324.8" fill="#a8d0d2"/>
<circle cx="206.3" cy="283" r="1.9" fill="#a8d0d2"/>
<circle cx="211.2" cy="281.6" r="1.9" fill="#a8d0d2"/>
<circle cx="212.9" cy="268.6" r="1.9" fill="#a8d0d2"/>
<circle cx="208.7" cy="274" r="1.9" fill="#a8d0d2"/>
<circle cx="210.2" cy="277" r="1.9" fill="#a8d0d2"/>
<circle cx="211.5" cy="267.5" r="1.9" fill="#a8d0d2"/>
<circle cx="208.9" cy="281.7" r="1.9" fill="#a8d0d2"/>
<circle cx="215" cy="283" r="1.9" fill="#a8d0d2"/>
<circle cx="209.6" cy="278.5" r="1.9" fill="#a8d0d2"/>
<circle cx="218" cy="283" r="1.9" fill="#a8d0d2"/>
<circle cx="208.5" cy="282.3" r="1.9" fill="#a8d0d2"/>
<circle cx="218.5" cy="284.2" r="1.9" fill="#a8d0d2"/>
<circle cx="214.1" cy="281.4" r="1.9" fill="#a8d0d2"/>
<circle cx="214.2" cy="282.5" r="1.9" fill="#a8d0d2"/>
<circle cx="213.8" cy="273" r="1.9" fill="#a8d0d2"/>
<circle cx="216.8" cy="279.7" r="1.9" fill="#a8d0d2"/>
<circle cx="212.5" cy="279.1" r="1.9" fill="#a8d0d2"/>
<circle cx="207.6" cy="276.4" r="1.9" fill="#a8d0d2"/>
<circle cx="214.8" cy="280.9" r="1.9" fill="#a8d0d2"/>
<circle cx="214.5" cy="281.1" r="1.9" fill="#a8d0d2"/>
<circle cx="211" cy="282.3" r="1.9" fill="#a8d0d2"/>
<circle cx="213.6" cy="279.4" r="1.9" fill="#a8d0d2"/>
<circle cx="212.6" cy="283" r="1.9" fill="#a8d0d2"/>
<circle cx="214" cy="280.8" r="1.9" fill="#a8d0d2"/>
<circle cx="213.6" cy="279.1" r="1.9" fill="#a8d0d2"/>
<circle cx="217.8" cy="284" r="1.9" fill="#a8d0d2"/>
<circle cx="215.4" cy="282.2" r="1.9" fill="#a8d0d2"/>
<circle cx="211.2" cy="273.8" r="1.9" fill="#a8d0d2"/>
<circle cx="212.3" cy="281.9" r="1.9" fill="#a8d0d2"/>
<circle cx="216.6" cy="279.4" r="1.9" fill="#a8d0d2"/>
<circle cx="217.8" cy="276.3" r="1.9" fill="#a8d0d2"/>
<circle cx="216.1" cy="280.8" r="1.9" fill="#a8d0d2"/>
<circle cx="218.5" cy="284.7" r="1.9" fill="#a8d0d2"/>
<circle cx="217" cy="278.5" r="1.9" fill="#a8d0d2"/>
<circle cx="209.3" cy="276.1" r="1.9" fill="#a8d0d2"/>
<circle cx="211.8" cy="271.8" r="1.9" fill="#a8d0d2"/>
<circle cx="216.9" cy="277.9" r="1.9" fill="#a8d0d2"/>
<circle cx="209.7" cy="270.4" r="1.9" fill="#a8d0d2"/>
<circle cx="207.1" cy="272.5" r="1.9" fill="#a8d0d2"/>
<circle cx="216" cy="272.9" r="1.9" fill="#a8d0d2"/>
<circle cx="209.2" cy="267.9" r="1.9" fill="#a8d0d2"/>
<circle cx="216.4" cy="287.8" r="1.9" fill="#a8d0d2"/>
<circle cx="216.6" cy="284.5" r="1.9" fill="#a8d0d2"/>
<circle cx="216.3" cy="282.5" r="1.9" fill="#a8d0d2"/>
<circle cx="216" cy="280.6" r="1.9" fill="#a8d0d2"/>
<circle cx="216.7" cy="278.3" r="1.9" fill="#a8d0d2"/>
<circle cx="216.1" cy="275.1" r="1.9" fill="#a8d0d2"/>
<circle cx="216.3" cy="273.1" r="1.9" fill="#a8d0d2"/>
<circle cx="216.5" cy="269.9" r="1.9" fill="#a8d0d2"/>
<polygon points="220,324.8 220,289.4 221.5,287.8 222.7,290 224,283.5 225.2,282.5 225.9,280.5 226.9,280.5 227.8,281.6 229.1,281.4 229.9,286.3 230.9,284.2 231.7,289.9 232.9,287 233.8,291.6 235,290.4 236,288.1 237,287.4 237.5,288.9 237.5,324.8" fill="#f2b24e"/>
<circle cx="227.6" cy="271.5" r="1.9" fill="#f2b24e"/>
<circle cx="227.4" cy="276.4" r="1.9" fill="#f2b24e"/>
<circle cx="226.5" cy="273.7" r="1.9" fill="#f2b24e"/>
<circle cx="224.9" cy="278.6" r="1.9" fill="#f2b24e"/>
<circle cx="225.6" cy="271.4" r="1.9" fill="#f2b24e"/>
<circle cx="225.6" cy="272" r="1.9" fill="#f2b24e"/>
<circle cx="231.3" cy="283.1" r="1.9" fill="#f2b24e"/>
<circle cx="235.1" cy="285.8" r="1.9" fill="#f2b24e"/>
<circle cx="232.3" cy="282.2" r="1.9" fill="#f2b24e"/>
<circle cx="228" cy="280.2" r="1.9" fill="#f2b24e"/>
<circle cx="227.6" cy="278.1" r="1.9" fill="#f2b24e"/>
<circle cx="225.7" cy="275.4" r="1.9" fill="#f2b24e"/>
<circle cx="231.3" cy="284.6" r="1.9" fill="#f2b24e"/>
<circle cx="227.4" cy="278.8" r="1.9" fill="#f2b24e"/>
<circle cx="234.6" cy="286.5" r="1.9" fill="#f2b24e"/>
<circle cx="227.6" cy="277.7" r="1.9" fill="#f2b24e"/>
<circle cx="233.5" cy="278.2" r="1.9" fill="#f2b24e"/>
<circle cx="230.1" cy="280.8" r="1.9" fill="#f2b24e"/>
<circle cx="222.9" cy="275.5" r="1.9" fill="#f2b24e"/>
<circle cx="222.7" cy="284.6" r="1.9" fill="#f2b24e"/>
<circle cx="226.9" cy="272.5" r="1.9" fill="#f2b24e"/>
<circle cx="231.2" cy="283.9" r="1.9" fill="#f2b24e"/>
<circle cx="234.6" cy="273.5" r="1.9" fill="#f2b24e"/>
<circle cx="221.7" cy="283.5" r="1.9" fill="#f2b24e"/>
<circle cx="228.3" cy="278.9" r="1.9" fill="#f2b24e"/>
<circle cx="228.2" cy="279.1" r="1.9" fill="#f2b24e"/>
<circle cx="231.3" cy="281.5" r="1.9" fill="#f2b24e"/>
<circle cx="236" cy="286" r="1.9" fill="#f2b24e"/>
<circle cx="233.6" cy="282.4" r="1.9" fill="#f2b24e"/>
<circle cx="222.4" cy="284.3" r="1.9" fill="#f2b24e"/>
<circle cx="227.3" cy="274" r="1.9" fill="#f2b24e"/>
<circle cx="224.5" cy="281.3" r="1.9" fill="#f2b24e"/>
<circle cx="223.5" cy="283" r="1.9" fill="#f2b24e"/>
<circle cx="232.3" cy="286.2" r="1.9" fill="#f2b24e"/>
<circle cx="223.9" cy="279.7" r="1.9" fill="#f2b24e"/>
<circle cx="230.6" cy="278.9" r="1.9" fill="#f2b24e"/>
<circle cx="225.1" cy="274.2" r="1.9" fill="#f2b24e"/>
<circle cx="232.1" cy="279.3" r="1.9" fill="#f2b24e"/>
<circle cx="223.2" cy="283" r="1.9" fill="#f2b24e"/>
<circle cx="221.6" cy="279" r="1.9" fill="#f2b24e"/>
<circle cx="235.3" cy="272" r="1.9" fill="#f2b24e"/>
<circle cx="221.8" cy="279.8" r="1.9" fill="#f2b24e"/>
<circle cx="229.3" cy="274.7" r="1.9" fill="#f2b24e"/>
<circle cx="223" cy="273.1" r="1.9" fill="#f2b24e"/>
<circle cx="225.8" cy="273.9" r="1.9" fill="#f2b24e"/>
<circle cx="223.2" cy="275.7" r="1.9" fill="#f2b24e"/>
<circle cx="223.3" cy="281.3" r="1.9" fill="#f2b24e"/>
<circle cx="229.1" cy="285.8" r="1.9" fill="#f2b24e"/>
<circle cx="228.8" cy="283.6" r="1.9" fill="#f2b24e"/>
<circle cx="228.7" cy="281.8" r="1.9" fill="#f2b24e"/>
<circle cx="229" cy="279.3" r="1.9" fill="#f2b24e"/>
<circle cx="229.2" cy="276.8" r="1.9" fill="#f2b24e"/>
<circle cx="229.2" cy="274.9" r="1.9" fill="#f2b24e"/>
<circle cx="229.3" cy="272.9" r="1.9" fill="#f2b24e"/>
<polygon points="237.5,324.8 237.5,294.9 238.7,297.4 240.2,294.1 240.9,292.2 242.2,294.2 243.5,288.9 244.6,286.5 245.4,286.7 246.9,286 248.3,279.8 249.3,279.3 250.2,279 251.6,279.5 252.7,281.9 254.1,284.3 255,280.8 255,324.8" fill="#235e5e"/>
<circle cx="246.3" cy="274.1" r="1.9" fill="#235e5e"/>
<circle cx="244.7" cy="286.8" r="1.9" fill="#235e5e"/>
<circle cx="249.8" cy="279.4" r="1.9" fill="#235e5e"/>
<circle cx="244.3" cy="286.4" r="1.9" fill="#235e5e"/>
<circle cx="245.9" cy="284" r="1.9" fill="#235e5e"/>
<circle cx="245.2" cy="284.6" r="1.9" fill="#235e5e"/>
<circle cx="239.6" cy="285.2" r="1.9" fill="#235e5e"/>
<circle cx="239.8" cy="290.3" r="1.9" fill="#235e5e"/>
<circle cx="246.9" cy="281.6" r="1.9" fill="#235e5e"/>
<circle cx="242.2" cy="291.5" r="1.9" fill="#235e5e"/>
<circle cx="244.4" cy="287.3" r="1.9" fill="#235e5e"/>
<circle cx="246" cy="284.6" r="1.9" fill="#235e5e"/>
<circle cx="249.9" cy="277.5" r="1.9" fill="#235e5e"/>
<circle cx="239" cy="291.6" r="1.9" fill="#235e5e"/>
<circle cx="253.1" cy="280.2" r="1.9" fill="#235e5e"/>
<circle cx="244.3" cy="284.8" r="1.9" fill="#235e5e"/>
<circle cx="244.3" cy="287.4" r="1.9" fill="#235e5e"/>
<circle cx="247.9" cy="278" r="1.9" fill="#235e5e"/>
<circle cx="243.5" cy="286.8" r="1.9" fill="#235e5e"/>
<circle cx="246.5" cy="278.2" r="1.9" fill="#235e5e"/>
<circle cx="239.7" cy="293.5" r="1.9" fill="#235e5e"/>
<circle cx="242.6" cy="289.9" r="1.9" fill="#235e5e"/>
<circle cx="250.6" cy="277.6" r="1.9" fill="#235e5e"/>
<circle cx="251.5" cy="277.2" r="1.9" fill="#235e5e"/>
<circle cx="243.1" cy="285.2" r="1.9" fill="#235e5e"/>
<circle cx="240.2" cy="273.8" r="1.9" fill="#235e5e"/>
<circle cx="251.1" cy="278" r="1.9" fill="#235e5e"/>
<circle cx="243.6" cy="281.9" r="1.9" fill="#235e5e"/>
<circle cx="250.5" cy="275.4" r="1.9" fill="#235e5e"/>
<circle cx="239.7" cy="287" r="1.9" fill="#235e5e"/>
<circle cx="239.6" cy="289.2" r="1.9" fill="#235e5e"/>
<circle cx="247" cy="271.3" r="1.9" fill="#235e5e"/>
<circle cx="248.3" cy="281.7" r="1.9" fill="#235e5e"/>
<circle cx="252.6" cy="273.3" r="1.9" fill="#235e5e"/>
<circle cx="247.4" cy="283.1" r="1.9" fill="#235e5e"/>
<circle cx="249.7" cy="278.2" r="1.9" fill="#235e5e"/>
<circle cx="252.4" cy="279.6" r="1.9" fill="#235e5e"/>
<circle cx="250.4" cy="277.6" r="1.9" fill="#235e5e"/>
<circle cx="249.9" cy="278.4" r="1.9" fill="#235e5e"/>
<circle cx="245.5" cy="284.2" r="1.9" fill="#235e5e"/>
<circle cx="240.6" cy="291.8" r="1.9" fill="#235e5e"/>
<circle cx="249.7" cy="280.5" r="1.9" fill="#235e5e"/>
<circle cx="240.6" cy="285" r="1.9" fill="#235e5e"/>
<circle cx="248.7" cy="272.7" r="1.9" fill="#235e5e"/>
<circle cx="240.6" cy="287.6" r="1.9" fill="#235e5e"/>
<circle cx="243.5" cy="269.1" r="1.9" fill="#235e5e"/>
<circle cx="247.1" cy="269.1" r="1.9" fill="#235e5e"/>
<circle cx="242" cy="280.2" r="1.9" fill="#235e5e"/>
<circle cx="246.8" cy="270.2" r="1.9" fill="#235e5e"/>
<circle cx="240.7" cy="271" r="1.9" fill="#235e5e"/>
<circle cx="245.8" cy="289.6" r="1.9" fill="#235e5e"/>
<circle cx="246" cy="287.3" r="1.9" fill="#235e5e"/>
<circle cx="245.9" cy="283.9" r="1.9" fill="#235e5e"/>
<circle cx="245.8" cy="281" r="1.9" fill="#235e5e"/>
<circle cx="245.6" cy="277.9" r="1.9" fill="#235e5e"/>
<polygon points="255,324.8 255,277.3 256.2,276.8 257.1,276 258.1,278.1 259.2,276.1 260.4,278.3 261.4,276 262.5,277.9 263.4,275.8 264.3,272.7 265.6,274.3 266.5,271.1 267.9,274.4 269.1,275.9 270,276.2 270,324.8" fill="#a8d0d2"/>
<circle cx="267.5" cy="271" r="1.9" fill="#a8d0d2"/>
<circle cx="262.3" cy="272.8" r="1.9" fill="#a8d0d2"/>
<circle cx="265.6" cy="272.5" r="1.9" fill="#a8d0d2"/>
<circle cx="260.1" cy="266.3" r="1.9" fill="#a8d0d2"/>
<circle cx="256.8" cy="271.6" r="1.9" fill="#a8d0d2"/>
<circle cx="263.3" cy="269.8" r="1.9" fill="#a8d0d2"/>
<circle cx="260.5" cy="274.4" r="1.9" fill="#a8d0d2"/>
<circle cx="268" cy="267.4" r="1.9" fill="#a8d0d2"/>
<circle cx="266.2" cy="272.3" r="1.9" fill="#a8d0d2"/>
<circle cx="266" cy="271.7" r="1.9" fill="#a8d0d2"/>
<circle cx="258.8" cy="272.5" r="1.9" fill="#a8d0d2"/>
<circle cx="263.8" cy="272.9" r="1.9" fill="#a8d0d2"/>
<circle cx="265.7" cy="268.7" r="1.9" fill="#a8d0d2"/>
<circle cx="267.4" cy="261.4" r="1.9" fill="#a8d0d2"/>
<circle cx="264.8" cy="271.1" r="1.9" fill="#a8d0d2"/>
<circle cx="268" cy="268.3" r="1.9" fill="#a8d0d2"/>
<circle cx="259.9" cy="266.1" r="1.9" fill="#a8d0d2"/>
<circle cx="265.3" cy="271.6" r="1.9" fill="#a8d0d2"/>
<circle cx="259.4" cy="275.7" r="1.9" fill="#a8d0d2"/>
<circle cx="263" cy="272.4" r="1.9" fill="#a8d0d2"/>
<circle cx="260" cy="274.1" r="1.9" fill="#a8d0d2"/>
<circle cx="258" cy="273.5" r="1.9" fill="#a8d0d2"/>
<circle cx="259.7" cy="274" r="1.9" fill="#a8d0d2"/>
<circle cx="259.8" cy="272.2" r="1.9" fill="#a8d0d2"/>
<circle cx="267.1" cy="272.7" r="1.9" fill="#a8d0d2"/>
<circle cx="266.9" cy="264.1" r="1.9" fill="#a8d0d2"/>
<circle cx="263.8" cy="269.8" r="1.9" fill="#a8d0d2"/>
<circle cx="265.4" cy="269.4" r="1.9" fill="#a8d0d2"/>
<circle cx="264.5" cy="261.2" r="1.9" fill="#a8d0d2"/>
<circle cx="265.9" cy="271.5" r="1.9" fill="#a8d0d2"/>
<circle cx="257.1" cy="264" r="1.9" fill="#a8d0d2"/>
<circle cx="260.8" cy="267.5" r="1.9" fill="#a8d0d2"/>
<circle cx="259.2" cy="273" r="1.9" fill="#a8d0d2"/>
<circle cx="260.9" cy="268.6" r="1.9" fill="#a8d0d2"/>
<circle cx="267.9" cy="270.9" r="1.9" fill="#a8d0d2"/>
<circle cx="263.3" cy="271.6" r="1.9" fill="#a8d0d2"/>
<circle cx="259.2" cy="261.5" r="1.9" fill="#a8d0d2"/>
<circle cx="257.7" cy="263.2" r="1.9" fill="#a8d0d2"/>
<circle cx="264.4" cy="269" r="1.9" fill="#a8d0d2"/>
<circle cx="267.4" cy="269" r="1.9" fill="#a8d0d2"/>
<circle cx="263.3" cy="268.6" r="1.9" fill="#a8d0d2"/>
<circle cx="268.5" cy="266.8" r="1.9" fill="#a8d0d2"/>
<circle cx="267" cy="269.3" r="1.9" fill="#a8d0d2"/>
<circle cx="264.5" cy="269" r="1.9" fill="#a8d0d2"/>
<circle cx="257.7" cy="280.6" r="1.9" fill="#a8d0d2"/>
<circle cx="257.6" cy="277.7" r="1.9" fill="#a8d0d2"/>
<circle cx="257.3" cy="274.6" r="1.9" fill="#a8d0d2"/>
<circle cx="257.3" cy="272.7" r="1.9" fill="#a8d0d2"/>
<circle cx="257.3" cy="270.7" r="1.9" fill="#a8d0d2"/>
<circle cx="257.3" cy="268.3" r="1.9" fill="#a8d0d2"/>
<circle cx="257.5" cy="266.3" r="1.9" fill="#a8d0d2"/>
<circle cx="257.3" cy="263.8" r="1.9" fill="#a8d0d2"/>
<polygon points="270,324.8 270,281.6 271.1,283.7 272.3,277.3 273.2,277.7 274.5,280.8 276,280.4 277.4,279.4 278.9,274.8 280,279.1 281.2,280 282.4,282.5 283.2,280.1 284.6,277.4 285.4,283 286.9,278.1 287.6,283.4 288.9,281.8 289,280.8 289,324.8" fill="#f2b24e"/>
<circle cx="283.7" cy="271.3" r="1.9" fill="#f2b24e"/>
<circle cx="271.4" cy="279.2" r="1.9" fill="#f2b24e"/>
<circle cx="284.3" cy="261.5" r="1.9" fill="#f2b24e"/>
<circle cx="284.9" cy="277.1" r="1.9" fill="#f2b24e"/>
<circle cx="276.8" cy="274.4" r="1.9" fill="#f2b24e"/>
<circle cx="271.6" cy="272.3" r="1.9" fill="#f2b24e"/>
<circle cx="275.6" cy="272.6" r="1.9" fill="#f2b24e"/>
<circle cx="279.9" cy="275.7" r="1.9" fill="#f2b24e"/>
<circle cx="282.3" cy="275.9" r="1.9" fill="#f2b24e"/>
<circle cx="275.2" cy="266.7" r="1.9" fill="#f2b24e"/>
<circle cx="274.2" cy="276.5" r="1.9" fill="#f2b24e"/>
<circle cx="275.5" cy="273.7" r="1.9" fill="#f2b24e"/>
<circle cx="284.1" cy="277.4" r="1.9" fill="#f2b24e"/>
<circle cx="275.3" cy="271.8" r="1.9" fill="#f2b24e"/>
<circle cx="275.6" cy="273.3" r="1.9" fill="#f2b24e"/>
<circle cx="275.5" cy="266.8" r="1.9" fill="#f2b24e"/>
<circle cx="274.4" cy="275.9" r="1.9" fill="#f2b24e"/>
<circle cx="276.3" cy="274.7" r="1.9" fill="#f2b24e"/>
<circle cx="283.2" cy="273.7" r="1.9" fill="#f2b24e"/>
<circle cx="284.2" cy="275.6" r="1.9" fill="#f2b24e"/>
<circle cx="272.7" cy="271.5" r="1.9" fill="#f2b24e"/>
<circle cx="275.4" cy="275.7" r="1.9" fill="#f2b24e"/>
<circle cx="277.4" cy="274.2" r="1.9" fill="#f2b24e"/>
<circle cx="286.2" cy="257.5" r="1.9" fill="#f2b24e"/>
<circle cx="277.7" cy="275.6" r="1.9" fill="#f2b24e"/>
<circle cx="284.2" cy="272" r="1.9" fill="#f2b24e"/>
<circle cx="276.9" cy="268.9" r="1.9" fill="#f2b24e"/>
<circle cx="277.5" cy="274.6" r="1.9" fill="#f2b24e"/>
<circle cx="281" cy="271.8" r="1.9" fill="#f2b24e"/>
<circle cx="279.1" cy="268.9" r="1.9" fill="#f2b24e"/>
<circle cx="271.6" cy="276" r="1.9" fill="#f2b24e"/>
<circle cx="277.6" cy="275.9" r="1.9" fill="#f2b24e"/>
<circle cx="286.2" cy="279.3" r="1.9" fill="#f2b24e"/>
<circle cx="274.7" cy="267" r="1.9" fill="#f2b24e"/>
<circle cx="287" cy="267.3" r="1.9" fill="#f2b24e"/>
<circle cx="276.9" cy="263.6" r="1.9" fill="#f2b24e"/>
<circle cx="273.7" cy="271.4" r="1.9" fill="#f2b24e"/>
<circle cx="286.7" cy="279.1" r="1.9" fill="#f2b24e"/>
<circle cx="273.6" cy="272.1" r="1.9" fill="#f2b24e"/>
<circle cx="285.7" cy="273.6" r="1.9" fill="#f2b24e"/>
<circle cx="286.8" cy="277.3" r="1.9" fill="#f2b24e"/>
<circle cx="277.4" cy="275.7" r="1.9" fill="#f2b24e"/>
<circle cx="275.8" cy="263.3" r="1.9" fill="#f2b24e"/>
<circle cx="272.6" cy="277.5" r="1.9" fill="#f2b24e"/>
<circle cx="277" cy="276.2" r="1.9" fill="#f2b24e"/>
<circle cx="276.4" cy="275.6" r="1.9" fill="#f2b24e"/>
<circle cx="273.4" cy="274.2" r="1.9" fill="#f2b24e"/>
<circle cx="280.2" cy="273.7" r="1.9" fill="#f2b24e"/>
<circle cx="283.7" cy="265.7" r="1.9" fill="#f2b24e"/>
<circle cx="286.7" cy="275.1" r="1.9" fill="#f2b24e"/>
<circle cx="275" cy="272.3" r="1.9" fill="#f2b24e"/>
<circle cx="276.4" cy="260.6" r="1.9" fill="#f2b24e"/>
<circle cx="286.4" cy="266.6" r="1.9" fill="#f2b24e"/>
<circle cx="274" cy="268.2" r="1.9" fill="#f2b24e"/>
<circle cx="280.6" cy="269.3" r="1.9" fill="#f2b24e"/>
<circle cx="284.2" cy="257.2" r="1.9" fill="#f2b24e"/>
<circle cx="279.2" cy="280.5" r="1.9" fill="#f2b24e"/>
<circle cx="278.6" cy="278" r="1.9" fill="#f2b24e"/>
<circle cx="279.3" cy="274.6" r="1.9" fill="#f2b24e"/>
<circle cx="279.1" cy="272.8" r="1.9" fill="#f2b24e"/>
<circle cx="278.5" cy="270.4" r="1.9" fill="#f2b24e"/>
<circle cx="278.6" cy="268.4" r="1.9" fill="#f2b24e"/>
<circle cx="278.7" cy="265.4" r="1.9" fill="#f2b24e"/>
<circle cx="278.7" cy="263.7" r="1.9" fill="#f2b24e"/>
<circle cx="279.5" cy="280.8" r="1.9" fill="#f2b24e"/>
<circle cx="279.1" cy="278.8" r="1.9" fill="#f2b24e"/>
<circle cx="279.1" cy="276.6" r="1.9" fill="#f2b24e"/>
<circle cx="279.6" cy="274.4" r="1.9" fill="#f2b24e"/>
<circle cx="279.5" cy="272" r="1.9" fill="#f2b24e"/>
<circle cx="279.3" cy="269.2" r="1.9" fill="#f2b24e"/>
<circle cx="279.8" cy="266.9" r="1.9" fill="#f2b24e"/>
<circle cx="279.4" cy="264.1" r="1.9" fill="#f2b24e"/>
<circle cx="279.5" cy="261.5" r="1.9" fill="#f2b24e"/>
<polygon points="289,324.8 289,286.6 289.9,286.3 291.3,285.1 292.1,282.3 293.6,281.5 294.4,285.7 295.3,286.4 296.1,290.1 297.1,286 298.3,287.2 299.5,287.8 300.9,287.5 301.9,283.7 303,284.7 304.2,286.4 304.8,284.3 304.8,324.8" fill="#235e5e"/>
<circle cx="291.6" cy="278.3" r="1.9" fill="#235e5e"/>
<circle cx="296.7" cy="282.4" r="1.9" fill="#235e5e"/>
<circle cx="303" cy="283.8" r="1.9" fill="#235e5e"/>
<circle cx="296.2" cy="286" r="1.9" fill="#235e5e"/>
<circle cx="300.8" cy="285.3" r="1.9" fill="#235e5e"/>
<circle cx="301.2" cy="278.7" r="1.9" fill="#235e5e"/>
<circle cx="293.7" cy="270.9" r="1.9" fill="#235e5e"/>
<circle cx="297" cy="285.1" r="1.9" fill="#235e5e"/>
<circle cx="297.6" cy="273.5" r="1.9" fill="#235e5e"/>
<circle cx="296.8" cy="284.3" r="1.9" fill="#235e5e"/>
<circle cx="294.2" cy="274.1" r="1.9" fill="#235e5e"/>
<circle cx="296.9" cy="285.7" r="1.9" fill="#235e5e"/>
<circle cx="293" cy="279.7" r="1.9" fill="#235e5e"/>
<circle cx="301.2" cy="278.5" r="1.9" fill="#235e5e"/>
<circle cx="303.1" cy="273.2" r="1.9" fill="#235e5e"/>
<circle cx="299.3" cy="279.3" r="1.9" fill="#235e5e"/>
<circle cx="299.7" cy="278.9" r="1.9" fill="#235e5e"/>
<circle cx="300.8" cy="285.7" r="1.9" fill="#235e5e"/>
<circle cx="301" cy="284.8" r="1.9" fill="#235e5e"/>
<circle cx="290.7" cy="278.7" r="1.9" fill="#235e5e"/>
<circle cx="294.9" cy="276.6" r="1.9" fill="#235e5e"/>
<circle cx="298.3" cy="275.6" r="1.9" fill="#235e5e"/>
<circle cx="302.5" cy="280.6" r="1.9" fill="#235e5e"/>
<circle cx="291.2" cy="276.5" r="1.9" fill="#235e5e"/>
<circle cx="301.7" cy="284.3" r="1.9" fill="#235e5e"/>
<circle cx="292.8" cy="275.2" r="1.9" fill="#235e5e"/>
<circle cx="298.5" cy="286.6" r="1.9" fill="#235e5e"/>
<circle cx="299.8" cy="286.6" r="1.9" fill="#235e5e"/>
<circle cx="301.7" cy="279" r="1.9" fill="#235e5e"/>
<circle cx="300.6" cy="276.7" r="1.9" fill="#235e5e"/>
<circle cx="297.8" cy="273.6" r="1.9" fill="#235e5e"/>
<circle cx="298.7" cy="284" r="1.9" fill="#235e5e"/>
<circle cx="295.4" cy="283" r="1.9" fill="#235e5e"/>
<circle cx="290.7" cy="281.3" r="1.9" fill="#235e5e"/>
<circle cx="300.7" cy="285.4" r="1.9" fill="#235e5e"/>
<circle cx="298.9" cy="280" r="1.9" fill="#235e5e"/>
<circle cx="299.4" cy="283.5" r="1.9" fill="#235e5e"/>
<circle cx="294.5" cy="282" r="1.9" fill="#235e5e"/>
<circle cx="292.8" cy="273" r="1.9" fill="#235e5e"/>
<circle cx="299.3" cy="271.3" r="1.9" fill="#235e5e"/>
<circle cx="294.7" cy="271.2" r="1.9" fill="#235e5e"/>
<circle cx="302.2" cy="278.9" r="1.9" fill="#235e5e"/>
<circle cx="302.8" cy="274.9" r="1.9" fill="#235e5e"/>
<circle cx="302.9" cy="273.1" r="1.9" fill="#235e5e"/>
<circle cx="294.7" cy="277.7" r="1.9" fill="#235e5e"/>
<circle cx="296.8" cy="291.1" r="1.9" fill="#235e5e"/>
<circle cx="297.2" cy="287.9" r="1.9" fill="#235e5e"/>
<circle cx="297.4" cy="285.4" r="1.9" fill="#235e5e"/>
<circle cx="296.9" cy="283.2" r="1.9" fill="#235e5e"/>
<circle cx="297" cy="280.5" r="1.9" fill="#235e5e"/>
<circle cx="296.8" cy="278.2" r="1.9" fill="#235e5e"/>
<circle cx="297.1" cy="276.4" r="1.9" fill="#235e5e"/>
<circle cx="297.5" cy="273.7" r="1.9" fill="#235e5e"/>
<polygon points="304.8,324.8 304.8,282.3 305.8,280.6 306.9,284.5 307.7,280.7 309,282.1 310.1,281 311.5,282.2 312.4,279.6 313.9,278.7 314.8,279.6 315.5,275.3 316.7,276.5 318,281.7 318.9,283.7 320,283.1 320,324.8" fill="#a8d0d2"/>
<circle cx="315" cy="274.1" r="1.9" fill="#a8d0d2"/>
<circle cx="311.6" cy="278.3" r="1.9" fill="#a8d0d2"/>
<circle cx="312.1" cy="263.7" r="1.9" fill="#a8d0d2"/>
<circle cx="317.2" cy="277.8" r="1.9" fill="#a8d0d2"/>
<circle cx="307.1" cy="279.1" r="1.9" fill="#a8d0d2"/>
<circle cx="314.8" cy="274.3" r="1.9" fill="#a8d0d2"/>
<circle cx="307.8" cy="277.5" r="1.9" fill="#a8d0d2"/>
<circle cx="313.3" cy="271.4" r="1.9" fill="#a8d0d2"/>
<circle cx="311.2" cy="273.8" r="1.9" fill="#a8d0d2"/>
<circle cx="314.6" cy="272.6" r="1.9" fill="#a8d0d2"/>
<circle cx="306.8" cy="274.8" r="1.9" fill="#a8d0d2"/>
<circle cx="307.8" cy="279.9" r="1.9" fill="#a8d0d2"/>
<circle cx="312.1" cy="278.6" r="1.9" fill="#a8d0d2"/>
<circle cx="307.1" cy="278.2" r="1.9" fill="#a8d0d2"/>
<circle cx="312" cy="278.1" r="1.9" fill="#a8d0d2"/>
<circle cx="318" cy="270.3" r="1.9" fill="#a8d0d2"/>
<circle cx="312.2" cy="274.3" r="1.9" fill="#a8d0d2"/>
<circle cx="307.7" cy="278.5" r="1.9" fill="#a8d0d2"/>
<circle cx="308.9" cy="269.9" r="1.9" fill="#a8d0d2"/>
<circle cx="312.5" cy="275.9" r="1.9" fill="#a8d0d2"/>
<circle cx="311.1" cy="268.4" r="1.9" fill="#a8d0d2"/>
<circle cx="309.4" cy="271.9" r="1.9" fill="#a8d0d2"/>
<circle cx="315" cy="274.1" r="1.9" fill="#a8d0d2"/>
<circle cx="310.7" cy="276.3" r="1.9" fill="#a8d0d2"/>
<circle cx="311.8" cy="276.9" r="1.9" fill="#a8d0d2"/>
<circle cx="313.9" cy="275.1" r="1.9" fill="#a8d0d2"/>
<circle cx="310" cy="272.1" r="1.9" fill="#a8d0d2"/>
<circle cx="311.8" cy="275.6" r="1.9" fill="#a8d0d2"/>
<circle cx="317.1" cy="275" r="1.9" fill="#a8d0d2"/>
<circle cx="310.9" cy="268" r="1.9" fill="#a8d0d2"/>
<circle cx="318.3" cy="272.6" r="1.9" fill="#a8d0d2"/>
<circle cx="311.2" cy="273.5" r="1.9" fill="#a8d0d2"/>
<circle cx="315.4" cy="275" r="1.9" fill="#a8d0d2"/>
<circle cx="314.3" cy="272" r="1.9" fill="#a8d0d2"/>
<circle cx="311.6" cy="273.7" r="1.9" fill="#a8d0d2"/>
<circle cx="309" cy="272.5" r="1.9" fill="#a8d0d2"/>
<circle cx="310.4" cy="267.1" r="1.9" fill="#a8d0d2"/>
<circle cx="306.4" cy="271.8" r="1.9" fill="#a8d0d2"/>
<circle cx="315.7" cy="270.6" r="1.9" fill="#a8d0d2"/>
<circle cx="313.8" cy="271.9" r="1.9" fill="#a8d0d2"/>
<circle cx="311.1" cy="263.7" r="1.9" fill="#a8d0d2"/>
<circle cx="308.6" cy="264.7" r="1.9" fill="#a8d0d2"/>
<circle cx="307.7" cy="283.8" r="1.9" fill="#a8d0d2"/>
<circle cx="307.4" cy="280.7" r="1.9" fill="#a8d0d2"/>
<circle cx="307.6" cy="277.9" r="1.9" fill="#a8d0d2"/>
<circle cx="307.7" cy="274.9" r="1.9" fill="#a8d0d2"/>
<circle cx="307.3" cy="272.2" r="1.9" fill="#a8d0d2"/>
<circle cx="307.5" cy="269.2" r="1.9" fill="#a8d0d2"/>
<circle cx="307.9" cy="266.6" r="1.9" fill="#a8d0d2"/>
<polygon points="320,324.8 320,277.7 321,277.7 322.4,275.2 323.6,277.2 324.7,276.4 325.9,283.1 327.1,281.4 328.4,284.1 329.3,286 330.3,286.4 331.8,287.9 333.3,287 334.6,285.6 335.5,289.8 335.6,287.8 335.6,324.8" fill="#f2b24e"/>
<circle cx="332" cy="284.4" r="1.9" fill="#f2b24e"/>
<circle cx="324.9" cy="275.9" r="1.9" fill="#f2b24e"/>
<circle cx="328.3" cy="283.5" r="1.9" fill="#f2b24e"/>
<circle cx="326.2" cy="275.1" r="1.9" fill="#f2b24e"/>
<circle cx="323.3" cy="274.3" r="1.9" fill="#f2b24e"/>
<circle cx="332.6" cy="273.8" r="1.9" fill="#f2b24e"/>
<circle cx="324.6" cy="276.5" r="1.9" fill="#f2b24e"/>
<circle cx="322.9" cy="275.5" r="1.9" fill="#f2b24e"/>
<circle cx="331.6" cy="280" r="1.9" fill="#f2b24e"/>
<circle cx="324.8" cy="274.6" r="1.9" fill="#f2b24e"/>
<circle cx="330.3" cy="285.2" r="1.9" fill="#f2b24e"/>
<circle cx="331.9" cy="277.2" r="1.9" fill="#f2b24e"/>
<circle cx="324.1" cy="270.7" r="1.9" fill="#f2b24e"/>
<circle cx="330.4" cy="283.4" r="1.9" fill="#f2b24e"/>
<circle cx="332.6" cy="285.7" r="1.9" fill="#f2b24e"/>
<circle cx="327.5" cy="280.7" r="1.9" fill="#f2b24e"/>
<circle cx="327.1" cy="273.8" r="1.9" fill="#f2b24e"/>
<circle cx="328.7" cy="279.4" r="1.9" fill="#f2b24e"/>
<circle cx="334" cy="286.1" r="1.9" fill="#f2b24e"/>
<circle cx="324.3" cy="272.2" r="1.9" fill="#f2b24e"/>
<circle cx="325.8" cy="276.8" r="1.9" fill="#f2b24e"/>
<circle cx="326.9" cy="273.1" r="1.9" fill="#f2b24e"/>
<circle cx="333.1" cy="281.6" r="1.9" fill="#f2b24e"/>
<circle cx="323.6" cy="274" r="1.9" fill="#f2b24e"/>
<circle cx="330.4" cy="284.3" r="1.9" fill="#f2b24e"/>
<circle cx="332.7" cy="277" r="1.9" fill="#f2b24e"/>
<circle cx="324.3" cy="274.8" r="1.9" fill="#f2b24e"/>
<circle cx="324.3" cy="270.9" r="1.9" fill="#f2b24e"/>
<circle cx="322" cy="269.9" r="1.9" fill="#f2b24e"/>
<circle cx="322.2" cy="266.9" r="1.9" fill="#f2b24e"/>
<circle cx="328.4" cy="279.4" r="1.9" fill="#f2b24e"/>
<circle cx="322.6" cy="275.7" r="1.9" fill="#f2b24e"/>
<circle cx="329.1" cy="274.7" r="1.9" fill="#f2b24e"/>
<circle cx="322.2" cy="275.2" r="1.9" fill="#f2b24e"/>
<circle cx="321.7" cy="269.8" r="1.9" fill="#f2b24e"/>
<circle cx="323.7" cy="274.6" r="1.9" fill="#f2b24e"/>
<circle cx="329.9" cy="279.3" r="1.9" fill="#f2b24e"/>
<circle cx="325.5" cy="276.1" r="1.9" fill="#f2b24e"/>
<circle cx="325.1" cy="268.6" r="1.9" fill="#f2b24e"/>
<circle cx="326" cy="271.8" r="1.9" fill="#f2b24e"/>
<circle cx="324.6" cy="271" r="1.9" fill="#f2b24e"/>
<circle cx="324.7" cy="274.1" r="1.9" fill="#f2b24e"/>
<circle cx="325.4" cy="268.4" r="1.9" fill="#f2b24e"/>
<circle cx="324.8" cy="273.2" r="1.9" fill="#f2b24e"/>
<circle cx="332.2" cy="274.1" r="1.9" fill="#f2b24e"/>
<circle cx="328.2" cy="286.7" r="1.9" fill="#f2b24e"/>
<circle cx="328" cy="283.7" r="1.9" fill="#f2b24e"/>
<circle cx="328.1" cy="280.8" r="1.9" fill="#f2b24e"/>
<circle cx="327.9" cy="278.2" r="1.9" fill="#f2b24e"/>
<circle cx="327.9" cy="275.8" r="1.9" fill="#f2b24e"/>
<circle cx="328" cy="273.3" r="1.9" fill="#f2b24e"/>
<polygon points="335.6,324.8 335.6,280.1 337,275.1 337.7,274.9 338.5,277.3 339.7,273.8 340.5,278.1 341.9,277.8 343.1,278.8 344.2,277 345.3,280.4 346.8,281.6 348.2,277.6 349.1,284.2 349.6,280.8 349.6,324.8" fill="#235e5e"/>
<circle cx="342.8" cy="274.5" r="1.9" fill="#235e5e"/>
<circle cx="346.7" cy="274.4" r="1.9" fill="#235e5e"/>
<circle cx="348.1" cy="279" r="1.9" fill="#235e5e"/>
<circle cx="348.1" cy="279.3" r="1.9" fill="#235e5e"/>
<circle cx="338.7" cy="272" r="1.9" fill="#235e5e"/>
<circle cx="344.2" cy="276.2" r="1.9" fill="#235e5e"/>
<circle cx="343.3" cy="262.9" r="1.9" fill="#235e5e"/>
<circle cx="341.9" cy="268.8" r="1.9" fill="#235e5e"/>
<circle cx="343.6" cy="272.4" r="1.9" fill="#235e5e"/>
<circle cx="338.9" cy="271.1" r="1.9" fill="#235e5e"/>
<circle cx="347.1" cy="273" r="1.9" fill="#235e5e"/>
<circle cx="339.4" cy="271.3" r="1.9" fill="#235e5e"/>
<circle cx="343.1" cy="274.4" r="1.9" fill="#235e5e"/>
<circle cx="343.5" cy="271.7" r="1.9" fill="#235e5e"/>
<circle cx="337.2" cy="274.6" r="1.9" fill="#235e5e"/>
<circle cx="344.4" cy="275.7" r="1.9" fill="#235e5e"/>
<circle cx="337.8" cy="268.3" r="1.9" fill="#235e5e"/>
<circle cx="340.7" cy="259.7" r="1.9" fill="#235e5e"/>
<circle cx="343.3" cy="276" r="1.9" fill="#235e5e"/>
<circle cx="344.1" cy="275.3" r="1.9" fill="#235e5e"/>
<circle cx="346.1" cy="271.2" r="1.9" fill="#235e5e"/>
<circle cx="345.5" cy="276.9" r="1.9" fill="#235e5e"/>
<circle cx="337.4" cy="267.9" r="1.9" fill="#235e5e"/>
<circle cx="338.6" cy="273.4" r="1.9" fill="#235e5e"/>
<circle cx="337.3" cy="274.8" r="1.9" fill="#235e5e"/>
<circle cx="342.3" cy="260.7" r="1.9" fill="#235e5e"/>
<circle cx="340.6" cy="273.5" r="1.9" fill="#235e5e"/>
<circle cx="346.3" cy="276.6" r="1.9" fill="#235e5e"/>
<circle cx="344.1" cy="272.1" r="1.9" fill="#235e5e"/>
<circle cx="347.5" cy="278.5" r="1.9" fill="#235e5e"/>
<circle cx="343.3" cy="274.2" r="1.9" fill="#235e5e"/>
<circle cx="346.2" cy="276.1" r="1.9" fill="#235e5e"/>
<circle cx="345" cy="276.1" r="1.9" fill="#235e5e"/>
<circle cx="342.5" cy="259.5" r="1.9" fill="#235e5e"/>
<circle cx="339.7" cy="272.8" r="1.9" fill="#235e5e"/>
<circle cx="347.3" cy="273.1" r="1.9" fill="#235e5e"/>
<circle cx="337.7" cy="269" r="1.9" fill="#235e5e"/>
<circle cx="339.7" cy="266.8" r="1.9" fill="#235e5e"/>
<circle cx="346.5" cy="262" r="1.9" fill="#235e5e"/>
<circle cx="348" cy="263" r="1.9" fill="#235e5e"/>
<circle cx="344" cy="266.9" r="1.9" fill="#235e5e"/>
<circle cx="345" cy="265.3" r="1.9" fill="#235e5e"/>
<circle cx="338.1" cy="278.3" r="1.9" fill="#235e5e"/>
<circle cx="337.8" cy="275.7" r="1.9" fill="#235e5e"/>
<circle cx="338.6" cy="273.9" r="1.9" fill="#235e5e"/>
<circle cx="338.1" cy="271.5" r="1.9" fill="#235e5e"/>
<circle cx="338.3" cy="269.5" r="1.9" fill="#235e5e"/>
<circle cx="337.9" cy="266.2" r="1.9" fill="#235e5e"/>
<circle cx="338.2" cy="263.6" r="1.9" fill="#235e5e"/>
<circle cx="338.2" cy="260.6" r="1.9" fill="#235e5e"/>
<polygon points="349.6,324.8 349.6,277.4 350.9,275.9 352.3,274.7 353.1,276.9 354.5,277 355.8,277 357.1,271.7 358.4,271.4 359.3,270.2 360,275 361,269.4 361.7,273.7 362.9,273.4 363.6,267.8 363.7,269.3 363.7,324.8" fill="#a8d0d2"/>
<circle cx="353.2" cy="275.7" r="1.9" fill="#a8d0d2"/>
<circle cx="353.3" cy="271.2" r="1.9" fill="#a8d0d2"/>
<circle cx="352.9" cy="275.5" r="1.9" fill="#a8d0d2"/>
<circle cx="357.1" cy="271.4" r="1.9" fill="#a8d0d2"/>
<circle cx="352.7" cy="272.5" r="1.9" fill="#a8d0d2"/>
<circle cx="356.7" cy="271.5" r="1.9" fill="#a8d0d2"/>
<circle cx="356.4" cy="273.9" r="1.9" fill="#a8d0d2"/>
<circle cx="358" cy="272.1" r="1.9" fill="#a8d0d2"/>
<circle cx="354.8" cy="275.1" r="1.9" fill="#a8d0d2"/>
<circle cx="361" cy="266.8" r="1.9" fill="#a8d0d2"/>
<circle cx="355.4" cy="271" r="1.9" fill="#a8d0d2"/>
<circle cx="361.6" cy="270" r="1.9" fill="#a8d0d2"/>
<circle cx="355.3" cy="268.9" r="1.9" fill="#a8d0d2"/>
<circle cx="355.2" cy="269" r="1.9" fill="#a8d0d2"/>
<circle cx="361.3" cy="270.7" r="1.9" fill="#a8d0d2"/>
<circle cx="354.2" cy="273.9" r="1.9" fill="#a8d0d2"/>
<circle cx="359.5" cy="264.7" r="1.9" fill="#a8d0d2"/>
<circle cx="358.9" cy="260" r="1.9" fill="#a8d0d2"/>
<circle cx="353.1" cy="273.9" r="1.9" fill="#a8d0d2"/>
<circle cx="360.6" cy="264.3" r="1.9" fill="#a8d0d2"/>
<circle cx="352.3" cy="258" r="1.9" fill="#a8d0d2"/>
<circle cx="359.4" cy="262.5" r="1.9" fill="#a8d0d2"/>
<circle cx="355.1" cy="270.5" r="1.9" fill="#a8d0d2"/>
<circle cx="361.8" cy="259.5" r="1.9" fill="#a8d0d2"/>
<circle cx="357.5" cy="262.7" r="1.9" fill="#a8d0d2"/>
<circle cx="362.3" cy="261.4" r="1.9" fill="#a8d0d2"/>
<circle cx="358.4" cy="257.2" r="1.9" fill="#a8d0d2"/>
<circle cx="352.6" cy="274.1" r="1.9" fill="#a8d0d2"/>
<circle cx="357.4" cy="272.8" r="1.9" fill="#a8d0d2"/>
<circle cx="359.8" cy="271.6" r="1.9" fill="#a8d0d2"/>
<circle cx="358.1" cy="271.4" r="1.9" fill="#a8d0d2"/>
<circle cx="354.6" cy="270.7" r="1.9" fill="#a8d0d2"/>
<circle cx="353.2" cy="273.4" r="1.9" fill="#a8d0d2"/>
<circle cx="354" cy="273.5" r="1.9" fill="#a8d0d2"/>
<circle cx="358.8" cy="271.5" r="1.9" fill="#a8d0d2"/>
<circle cx="360.6" cy="265.2" r="1.9" fill="#a8d0d2"/>
<circle cx="357.3" cy="264.8" r="1.9" fill="#a8d0d2"/>
<circle cx="351" cy="274.2" r="1.9" fill="#a8d0d2"/>
<circle cx="351" cy="267.7" r="1.9" fill="#a8d0d2"/>
<circle cx="354.1" cy="254.6" r="1.9" fill="#a8d0d2"/>
<circle cx="358.2" cy="268.5" r="1.9" fill="#a8d0d2"/>
<circle cx="358.8" cy="276" r="1.9" fill="#a8d0d2"/>
<circle cx="359.1" cy="273" r="1.9" fill="#a8d0d2"/>
<circle cx="358.8" cy="269.7" r="1.9" fill="#a8d0d2"/>
<circle cx="358.7" cy="267.4" r="1.9" fill="#a8d0d2"/>
<circle cx="359" cy="265.1" r="1.9" fill="#a8d0d2"/>
<circle cx="359" cy="262.6" r="1.9" fill="#a8d0d2"/>
<polygon points="363.7,324.8 363.7,283.5 365.2,278.5 366.4,277.1 367.1,278 367.9,280 369.1,280.4 370.6,277.4 371.4,277.9 372.4,284.2 373.7,283.9 374.9,284.3 374.9,324.8" fill="#f2b24e"/>
<circle cx="368.2" cy="277.3" r="1.9" fill="#f2b24e"/>
<circle cx="370.5" cy="279.2" r="1.9" fill="#f2b24e"/>
<circle cx="367" cy="277.6" r="1.9" fill="#f2b24e"/>
<circle cx="366.5" cy="278" r="1.9" fill="#f2b24e"/>
<circle cx="369.6" cy="278.1" r="1.9" fill="#f2b24e"/>
<circle cx="370.2" cy="270.7" r="1.9" fill="#f2b24e"/>
<circle cx="368" cy="277.1" r="1.9" fill="#f2b24e"/>
<circle cx="370.7" cy="273.1" r="1.9" fill="#f2b24e"/>
<circle cx="372.5" cy="277.5" r="1.9" fill="#f2b24e"/>
<circle cx="370" cy="269.4" r="1.9" fill="#f2b24e"/>
<circle cx="367.5" cy="270.3" r="1.9" fill="#f2b24e"/>
<circle cx="370.4" cy="276.2" r="1.9" fill="#f2b24e"/>
<circle cx="365.2" cy="276.3" r="1.9" fill="#f2b24e"/>
<circle cx="367.3" cy="273.1" r="1.9" fill="#f2b24e"/>
<circle cx="369.4" cy="275.1" r="1.9" fill="#f2b24e"/>
<circle cx="365.6" cy="278.4" r="1.9" fill="#f2b24e"/>
<circle cx="370.2" cy="273.6" r="1.9" fill="#f2b24e"/>
<circle cx="373.4" cy="274.9" r="1.9" fill="#f2b24e"/>
<circle cx="367.5" cy="274.5" r="1.9" fill="#f2b24e"/>
<circle cx="369.3" cy="270.7" r="1.9" fill="#f2b24e"/>
<circle cx="368.4" cy="265.8" r="1.9" fill="#f2b24e"/>
<circle cx="369.2" cy="276" r="1.9" fill="#f2b24e"/>
<circle cx="369.1" cy="276.3" r="1.9" fill="#f2b24e"/>
<circle cx="373.5" cy="282.3" r="1.9" fill="#f2b24e"/>
<circle cx="368.5" cy="277.6" r="1.9" fill="#f2b24e"/>
<circle cx="370.8" cy="278.7" r="1.9" fill="#f2b24e"/>
<circle cx="366.4" cy="275.7" r="1.9" fill="#f2b24e"/>
<circle cx="370.2" cy="272.1" r="1.9" fill="#f2b24e"/>
<circle cx="368.8" cy="271.5" r="1.9" fill="#f2b24e"/>
<circle cx="368.2" cy="264.8" r="1.9" fill="#f2b24e"/>
<circle cx="366.9" cy="274.3" r="1.9" fill="#f2b24e"/>
<circle cx="372.5" cy="271" r="1.9" fill="#f2b24e"/>
<circle cx="366.2" cy="273.5" r="1.9" fill="#f2b24e"/>
<circle cx="371.8" cy="284.3" r="1.9" fill="#f2b24e"/>
<circle cx="371.9" cy="281.4" r="1.9" fill="#f2b24e"/>
<circle cx="372.2" cy="278.9" r="1.9" fill="#f2b24e"/>
<circle cx="372.5" cy="277.1" r="1.9" fill="#f2b24e"/>
<circle cx="371.8" cy="274.8" r="1.9" fill="#f2b24e"/>
<circle cx="371.8" cy="271.7" r="1.9" fill="#f2b24e"/>
<circle cx="372.2" cy="270" r="1.9" fill="#f2b24e"/>
<circle cx="372.4" cy="267.4" r="1.9" fill="#f2b24e"/>
<circle cx="371.9" cy="264.3" r="1.9" fill="#f2b24e"/>
<polygon points="374.9,324.8 374.9,289.3 376,286.5 377.4,284.7 378.6,282.9 380.1,287.7 381.3,283.4 382.5,286.8 383.9,281.4 385,282.7 386.1,288.4 387.5,285.4 387.5,324.8" fill="#235e5e"/>
<circle cx="378.7" cy="280.7" r="1.9" fill="#235e5e"/>
<circle cx="379.4" cy="283.3" r="1.9" fill="#235e5e"/>
<circle cx="383.6" cy="276.4" r="1.9" fill="#235e5e"/>
<circle cx="379.6" cy="281.5" r="1.9" fill="#235e5e"/>
<circle cx="383.1" cy="276.9" r="1.9" fill="#235e5e"/>
<circle cx="380.8" cy="283.2" r="1.9" fill="#235e5e"/>
<circle cx="377.2" cy="284.9" r="1.9" fill="#235e5e"/>
<circle cx="384.4" cy="280.4" r="1.9" fill="#235e5e"/>
<circle cx="382.6" cy="281.1" r="1.9" fill="#235e5e"/>
<circle cx="379.9" cy="283.1" r="1.9" fill="#235e5e"/>
<circle cx="385.9" cy="280.1" r="1.9" fill="#235e5e"/>
<circle cx="377.6" cy="279.7" r="1.9" fill="#235e5e"/>
<circle cx="382.2" cy="278.9" r="1.9" fill="#235e5e"/>
<circle cx="383.8" cy="278.9" r="1.9" fill="#235e5e"/>
<circle cx="380.3" cy="278.9" r="1.9" fill="#235e5e"/>
<circle cx="380" cy="281.5" r="1.9" fill="#235e5e"/>
<circle cx="379.9" cy="279.1" r="1.9" fill="#235e5e"/>
<circle cx="379.8" cy="282" r="1.9" fill="#235e5e"/>
<circle cx="384.6" cy="276.1" r="1.9" fill="#235e5e"/>
<circle cx="382.9" cy="274.3" r="1.9" fill="#235e5e"/>
<circle cx="380.1" cy="279.1" r="1.9" fill="#235e5e"/>
<circle cx="378.8" cy="282.7" r="1.9" fill="#235e5e"/>
<circle cx="377.3" cy="278.1" r="1.9" fill="#235e5e"/>
<circle cx="385.3" cy="282.5" r="1.9" fill="#235e5e"/>
<circle cx="380" cy="283.5" r="1.9" fill="#235e5e"/>
<circle cx="377.7" cy="280.5" r="1.9" fill="#235e5e"/>
<circle cx="385" cy="283.7" r="1.9" fill="#235e5e"/>
<circle cx="378.8" cy="277.7" r="1.9" fill="#235e5e"/>
<circle cx="378.5" cy="274.6" r="1.9" fill="#235e5e"/>
<circle cx="379.8" cy="281" r="1.9" fill="#235e5e"/>
<circle cx="378.3" cy="283.3" r="1.9" fill="#235e5e"/>
<circle cx="380.5" cy="278.3" r="1.9" fill="#235e5e"/>
<circle cx="383.4" cy="279.6" r="1.9" fill="#235e5e"/>
<circle cx="382.6" cy="274.2" r="1.9" fill="#235e5e"/>
<circle cx="379.5" cy="279.2" r="1.9" fill="#235e5e"/>
<circle cx="377.5" cy="281.5" r="1.9" fill="#235e5e"/>
<circle cx="383.3" cy="286.8" r="1.9" fill="#235e5e"/>
<circle cx="383.8" cy="284.3" r="1.9" fill="#235e5e"/>
<circle cx="383.3" cy="282" r="1.9" fill="#235e5e"/>
<circle cx="383.6" cy="279.6" r="1.9" fill="#235e5e"/>
<circle cx="383.6" cy="276.2" r="1.9" fill="#235e5e"/>
<circle cx="384" cy="272.9" r="1.9" fill="#235e5e"/>
<polygon points="387.5,324.8 387.5,277 388.8,274.6 390,272.8 390.8,273.5 391.6,276.6 392.8,275.6 394.2,274.2 395.4,273.6 396.8,276.6 397.6,276.8 398,276.2 398,324.8" fill="#a8d0d2"/>
<circle cx="392.9" cy="266.2" r="1.9" fill="#a8d0d2"/>
<circle cx="394.2" cy="267.7" r="1.9" fill="#a8d0d2"/>
<circle cx="395" cy="263.8" r="1.9" fill="#a8d0d2"/>
<circle cx="389.6" cy="274.3" r="1.9" fill="#a8d0d2"/>
<circle cx="389.3" cy="274.8" r="1.9" fill="#a8d0d2"/>
<circle cx="396.3" cy="272.2" r="1.9" fill="#a8d0d2"/>
<circle cx="392.3" cy="269.4" r="1.9" fill="#a8d0d2"/>
<circle cx="393.2" cy="270.5" r="1.9" fill="#a8d0d2"/>
<circle cx="394.9" cy="270.2" r="1.9" fill="#a8d0d2"/>
<circle cx="395.4" cy="265" r="1.9" fill="#a8d0d2"/>
<circle cx="388.9" cy="272.4" r="1.9" fill="#a8d0d2"/>
<circle cx="389.6" cy="264.7" r="1.9" fill="#a8d0d2"/>
<circle cx="389.4" cy="273.9" r="1.9" fill="#a8d0d2"/>
<circle cx="394.8" cy="267.8" r="1.9" fill="#a8d0d2"/>
<circle cx="394" cy="269.2" r="1.9" fill="#a8d0d2"/>
<circle cx="392.9" cy="271.1" r="1.9" fill="#a8d0d2"/>
<circle cx="392.5" cy="270.9" r="1.9" fill="#a8d0d2"/>
<circle cx="394.1" cy="271.2" r="1.9" fill="#a8d0d2"/>
<circle cx="390" cy="273.4" r="1.9" fill="#a8d0d2"/>
<circle cx="393" cy="267.9" r="1.9" fill="#a8d0d2"/>
<circle cx="388.9" cy="255.2" r="1.9" fill="#a8d0d2"/>
<circle cx="395.3" cy="270.4" r="1.9" fill="#a8d0d2"/>
<circle cx="390.1" cy="265.8" r="1.9" fill="#a8d0d2"/>
<circle cx="396.4" cy="273.2" r="1.9" fill="#a8d0d2"/>
<circle cx="394.7" cy="263.7" r="1.9" fill="#a8d0d2"/>
<circle cx="396.1" cy="272.6" r="1.9" fill="#a8d0d2"/>
<circle cx="389.8" cy="273.9" r="1.9" fill="#a8d0d2"/>
<circle cx="390.7" cy="251.8" r="1.9" fill="#a8d0d2"/>
<circle cx="395.9" cy="260.5" r="1.9" fill="#a8d0d2"/>
<circle cx="389.9" cy="263.6" r="1.9" fill="#a8d0d2"/>
<circle cx="390.8" cy="256.8" r="1.9" fill="#a8d0d2"/>
<circle cx="394.1" cy="275.2" r="1.9" fill="#a8d0d2"/>
<circle cx="394.2" cy="272.7" r="1.9" fill="#a8d0d2"/>
<circle cx="394.1" cy="270.3" r="1.9" fill="#a8d0d2"/>
<circle cx="394.3" cy="267.4" r="1.9" fill="#a8d0d2"/>
<circle cx="394.2" cy="265.1" r="1.9" fill="#a8d0d2"/>
<circle cx="393.8" cy="263.2" r="1.9" fill="#a8d0d2"/>
<circle cx="394.1" cy="260.8" r="1.9" fill="#a8d0d2"/>
<circle cx="393.8" cy="259" r="1.9" fill="#a8d0d2"/>
<circle cx="394.5" cy="256.5" r="1.9" fill="#a8d0d2"/>
<polygon points="398,324.8 398,275.3 399,276.9 399.9,275 401.1,278.8 402.1,274 402.9,273 404.2,274.7 405.5,278.6 406.2,275 407.2,279.2 408.5,277.3 409.5,278.5 410.6,282.1 411,279.7 411,324.8" fill="#f2b24e"/>
<circle cx="407.7" cy="264.8" r="1.9" fill="#f2b24e"/>
<circle cx="405.5" cy="260.5" r="1.9" fill="#f2b24e"/>
<circle cx="409" cy="277.2" r="1.9" fill="#f2b24e"/>
<circle cx="409.5" cy="277.4" r="1.9" fill="#f2b24e"/>
<circle cx="407.6" cy="276.4" r="1.9" fill="#f2b24e"/>
<circle cx="402.5" cy="272.3" r="1.9" fill="#f2b24e"/>
<circle cx="408" cy="271.8" r="1.9" fill="#f2b24e"/>
<circle cx="401.5" cy="264.5" r="1.9" fill="#f2b24e"/>
<circle cx="408.2" cy="274" r="1.9" fill="#f2b24e"/>
<circle cx="399.9" cy="274.8" r="1.9" fill="#f2b24e"/>
<circle cx="402.4" cy="272.5" r="1.9" fill="#f2b24e"/>
<circle cx="409" cy="273.8" r="1.9" fill="#f2b24e"/>
<circle cx="407.8" cy="276.8" r="1.9" fill="#f2b24e"/>
<circle cx="401.9" cy="269" r="1.9" fill="#f2b24e"/>
<circle cx="402.9" cy="274" r="1.9" fill="#f2b24e"/>
<circle cx="400" cy="276.1" r="1.9" fill="#f2b24e"/>
<circle cx="403.6" cy="271.6" r="1.9" fill="#f2b24e"/>
<circle cx="403.5" cy="271.4" r="1.9" fill="#f2b24e"/>
<circle cx="402.4" cy="275" r="1.9" fill="#f2b24e"/>
<circle cx="406.3" cy="274.2" r="1.9" fill="#f2b24e"/>
<circle cx="404.4" cy="273.4" r="1.9" fill="#f2b24e"/>
<circle cx="402.2" cy="274.9" r="1.9" fill="#f2b24e"/>
<circle cx="402.4" cy="273.4" r="1.9" fill="#f2b24e"/>
<circle cx="400.6" cy="275.9" r="1.9" fill="#f2b24e"/>
<circle cx="404.3" cy="275.5" r="1.9" fill="#f2b24e"/>
<circle cx="408.4" cy="275.4" r="1.9" fill="#f2b24e"/>
<circle cx="403.9" cy="271.9" r="1.9" fill="#f2b24e"/>
<circle cx="399.6" cy="276" r="1.9" fill="#f2b24e"/>
<circle cx="407.4" cy="272.9" r="1.9" fill="#f2b24e"/>
<circle cx="404.4" cy="273.6" r="1.9" fill="#f2b24e"/>
<circle cx="407.1" cy="273.2" r="1.9" fill="#f2b24e"/>
<circle cx="407.5" cy="268.2" r="1.9" fill="#f2b24e"/>
<circle cx="408.5" cy="271.5" r="1.9" fill="#f2b24e"/>
<circle cx="406.3" cy="265.3" r="1.9" fill="#f2b24e"/>
<circle cx="404.8" cy="263.3" r="1.9" fill="#f2b24e"/>
<circle cx="404.8" cy="259.5" r="1.9" fill="#f2b24e"/>
<circle cx="408.2" cy="273.1" r="1.9" fill="#f2b24e"/>
<circle cx="407.1" cy="263" r="1.9" fill="#f2b24e"/>
<circle cx="405" cy="279.4" r="1.9" fill="#f2b24e"/>
<circle cx="405.3" cy="276.8" r="1.9" fill="#f2b24e"/>
<circle cx="405.1" cy="273.5" r="1.9" fill="#f2b24e"/>
<circle cx="405.1" cy="270.8" r="1.9" fill="#f2b24e"/>
<circle cx="405.4" cy="267.7" r="1.9" fill="#f2b24e"/>
<circle cx="405.2" cy="264.7" r="1.9" fill="#f2b24e"/>
<circle cx="405" cy="261.5" r="1.9" fill="#f2b24e"/>
<circle cx="405.6" cy="259.4" r="1.9" fill="#f2b24e"/>
<polygon points="411,324.8 411,292.7 411.9,287.7 413.2,291.1 413.9,291.9 415.1,285.7 416.1,288 416.9,291.7 418.4,287.3 419.4,288.8 420.7,288.5 421.6,291 422.5,291.2 422.5,324.8" fill="#235e5e"/>
<circle cx="416.2" cy="283.8" r="1.9" fill="#235e5e"/>
<circle cx="420.3" cy="281.3" r="1.9" fill="#235e5e"/>
<circle cx="414.4" cy="286.7" r="1.9" fill="#235e5e"/>
<circle cx="416.4" cy="283.2" r="1.9" fill="#235e5e"/>
<circle cx="417.7" cy="286.5" r="1.9" fill="#235e5e"/>
<circle cx="421" cy="288.5" r="1.9" fill="#235e5e"/>
<circle cx="412.6" cy="288.6" r="1.9" fill="#235e5e"/>
<circle cx="414.2" cy="281.8" r="1.9" fill="#235e5e"/>
<circle cx="419.7" cy="289.3" r="1.9" fill="#235e5e"/>
<circle cx="414.5" cy="286.6" r="1.9" fill="#235e5e"/>
<circle cx="419.2" cy="278.2" r="1.9" fill="#235e5e"/>
<circle cx="414.7" cy="287.3" r="1.9" fill="#235e5e"/>
<circle cx="418.6" cy="285.8" r="1.9" fill="#235e5e"/>
<circle cx="418.9" cy="282" r="1.9" fill="#235e5e"/>
<circle cx="416.8" cy="286.8" r="1.9" fill="#235e5e"/>
<circle cx="417" cy="283.1" r="1.9" fill="#235e5e"/>
<circle cx="415.2" cy="282.9" r="1.9" fill="#235e5e"/>
<circle cx="414.2" cy="286.9" r="1.9" fill="#235e5e"/>
<circle cx="420.4" cy="281.1" r="1.9" fill="#235e5e"/>
<circle cx="419.8" cy="281.3" r="1.9" fill="#235e5e"/>
<circle cx="417.3" cy="288.1" r="1.9" fill="#235e5e"/>
<circle cx="418.8" cy="280.2" r="1.9" fill="#235e5e"/>
<circle cx="419.7" cy="289.3" r="1.9" fill="#235e5e"/>
<circle cx="412.9" cy="282.6" r="1.9" fill="#235e5e"/>
<circle cx="416.6" cy="277.5" r="1.9" fill="#235e5e"/>
<circle cx="421" cy="282.6" r="1.9" fill="#235e5e"/>
<circle cx="418.3" cy="280.1" r="1.9" fill="#235e5e"/>
<circle cx="418.4" cy="282.4" r="1.9" fill="#235e5e"/>
<circle cx="418" cy="284.7" r="1.9" fill="#235e5e"/>
<circle cx="420.2" cy="279.9" r="1.9" fill="#235e5e"/>
<circle cx="418.8" cy="292.6" r="1.9" fill="#235e5e"/>
<circle cx="419.2" cy="290.1" r="1.9" fill="#235e5e"/>
<circle cx="418.7" cy="287.4" r="1.9" fill="#235e5e"/>
<circle cx="418.9" cy="285.7" r="1.9" fill="#235e5e"/>
<circle cx="418.8" cy="283.5" r="1.9" fill="#235e5e"/>
<circle cx="419" cy="281.4" r="1.9" fill="#235e5e"/>
<circle cx="419.3" cy="278.5" r="1.9" fill="#235e5e"/>
<polygon points="422.5,324.8 422.5,283.3 423.9,285.6 425.2,284.4 426.2,281.7 426.9,283.3 427.7,282.9 429.1,281.9 430.3,283.3 431.7,284.8 433,283.1 433,324.8" fill="#a8d0d2"/>
<circle cx="427.4" cy="281" r="1.9" fill="#a8d0d2"/>
<circle cx="428.6" cy="275.4" r="1.9" fill="#a8d0d2"/>
<circle cx="430.5" cy="276.2" r="1.9" fill="#a8d0d2"/>
<circle cx="426.7" cy="281.5" r="1.9" fill="#a8d0d2"/>
<circle cx="430.3" cy="275.8" r="1.9" fill="#a8d0d2"/>
<circle cx="431.5" cy="277.3" r="1.9" fill="#a8d0d2"/>
<circle cx="430.5" cy="273.5" r="1.9" fill="#a8d0d2"/>
<circle cx="431.5" cy="278.7" r="1.9" fill="#a8d0d2"/>
<circle cx="430.8" cy="278.5" r="1.9" fill="#a8d0d2"/>
<circle cx="424" cy="282.1" r="1.9" fill="#a8d0d2"/>
<circle cx="426.9" cy="279.8" r="1.9" fill="#a8d0d2"/>
<circle cx="429.2" cy="279.4" r="1.9" fill="#a8d0d2"/>
<circle cx="426.3" cy="279.4" r="1.9" fill="#a8d0d2"/>
<circle cx="424.9" cy="278.7" r="1.9" fill="#a8d0d2"/>
<circle cx="427.2" cy="273.4" r="1.9" fill="#a8d0d2"/>
<circle cx="425.4" cy="278.9" r="1.9" fill="#a8d0d2"/>
<circle cx="425.6" cy="282.3" r="1.9" fill="#a8d0d2"/>
<circle cx="426.2" cy="270.9" r="1.9" fill="#a8d0d2"/>
<circle cx="426.1" cy="278.7" r="1.9" fill="#a8d0d2"/>
<circle cx="427.9" cy="279.2" r="1.9" fill="#a8d0d2"/>
<circle cx="428" cy="280.3" r="1.9" fill="#a8d0d2"/>
<circle cx="426.6" cy="280" r="1.9" fill="#a8d0d2"/>
<circle cx="430.2" cy="273.3" r="1.9" fill="#a8d0d2"/>
<circle cx="429.3" cy="275.5" r="1.9" fill="#a8d0d2"/>
<circle cx="430.6" cy="274.2" r="1.9" fill="#a8d0d2"/>
<circle cx="424.3" cy="278" r="1.9" fill="#a8d0d2"/>
<circle cx="429.7" cy="265.7" r="1.9" fill="#a8d0d2"/>
<circle cx="431.5" cy="266.9" r="1.9" fill="#a8d0d2"/>
<circle cx="425.1" cy="270.4" r="1.9" fill="#a8d0d2"/>
<circle cx="428.3" cy="283.8" r="1.9" fill="#a8d0d2"/>
<circle cx="428.6" cy="280.4" r="1.9" fill="#a8d0d2"/>
<circle cx="428.9" cy="278.2" r="1.9" fill="#a8d0d2"/>
<circle cx="428.2" cy="275.8" r="1.9" fill="#a8d0d2"/>
<circle cx="428.4" cy="272.9" r="1.9" fill="#a8d0d2"/>
<circle cx="428.4" cy="270.8" r="1.9" fill="#a8d0d2"/>
<circle cx="428.4" cy="268" r="1.9" fill="#a8d0d2"/>
<circle cx="428.9" cy="265.2" r="1.9" fill="#a8d0d2"/>
<polygon points="433,324.8 433,294.5 434.4,289.7 435.8,287.9 437,287.2 437.7,292.8 438.5,291.5 439.7,287.3 441,288.1 442.4,292.3 443.5,289.3 444.2,290.5 445,289 446.4,290.6 447.2,291.5 448.5,290.1 449.5,291.2 449.5,324.8" fill="#f2b24e"/>
<circle cx="442.3" cy="286.9" r="1.9" fill="#f2b24e"/>
<circle cx="441.6" cy="288.3" r="1.9" fill="#f2b24e"/>
<circle cx="438.3" cy="278.6" r="1.9" fill="#f2b24e"/>
<circle cx="439.2" cy="282.4" r="1.9" fill="#f2b24e"/>
<circle cx="439.4" cy="288.5" r="1.9" fill="#f2b24e"/>
<circle cx="434.4" cy="274.4" r="1.9" fill="#f2b24e"/>
<circle cx="444.7" cy="268.8" r="1.9" fill="#f2b24e"/>
<circle cx="442.5" cy="289.1" r="1.9" fill="#f2b24e"/>
<circle cx="436.6" cy="288.9" r="1.9" fill="#f2b24e"/>
<circle cx="442.8" cy="284.5" r="1.9" fill="#f2b24e"/>
<circle cx="447.5" cy="287.8" r="1.9" fill="#f2b24e"/>
<circle cx="437.6" cy="287.8" r="1.9" fill="#f2b24e"/>
<circle cx="436.4" cy="289.2" r="1.9" fill="#f2b24e"/>
<circle cx="441.2" cy="287.4" r="1.9" fill="#f2b24e"/>
<circle cx="439.4" cy="275" r="1.9" fill="#f2b24e"/>
<circle cx="438.7" cy="280.9" r="1.9" fill="#f2b24e"/>
<circle cx="441.7" cy="289.3" r="1.9" fill="#f2b24e"/>
<circle cx="434.8" cy="285.7" r="1.9" fill="#f2b24e"/>
<circle cx="446.4" cy="288.3" r="1.9" fill="#f2b24e"/>
<circle cx="444" cy="287.2" r="1.9" fill="#f2b24e"/>
<circle cx="443.8" cy="280" r="1.9" fill="#f2b24e"/>
<circle cx="444.4" cy="287" r="1.9" fill="#f2b24e"/>
<circle cx="436.5" cy="272.7" r="1.9" fill="#f2b24e"/>
<circle cx="446.9" cy="276.7" r="1.9" fill="#f2b24e"/>
<circle cx="441.8" cy="289.5" r="1.9" fill="#f2b24e"/>
<circle cx="439.5" cy="277.9" r="1.9" fill="#f2b24e"/>
<circle cx="435.3" cy="288.2" r="1.9" fill="#f2b24e"/>
<circle cx="435" cy="279.8" r="1.9" fill="#f2b24e"/>
<circle cx="439.2" cy="289.1" r="1.9" fill="#f2b24e"/>
<circle cx="439.3" cy="288.4" r="1.9" fill="#f2b24e"/>
<circle cx="440.3" cy="285.2" r="1.9" fill="#f2b24e"/>
<circle cx="443.4" cy="288.4" r="1.9" fill="#f2b24e"/>
<circle cx="441.7" cy="289.5" r="1.9" fill="#f2b24e"/>
<circle cx="440.4" cy="281.9" r="1.9" fill="#f2b24e"/>
<circle cx="438" cy="280.8" r="1.9" fill="#f2b24e"/>
<circle cx="437.7" cy="286.7" r="1.9" fill="#f2b24e"/>
<circle cx="445.3" cy="287.8" r="1.9" fill="#f2b24e"/>
<circle cx="442" cy="285.9" r="1.9" fill="#f2b24e"/>
<circle cx="444.2" cy="274.1" r="1.9" fill="#f2b24e"/>
<circle cx="443.9" cy="287.3" r="1.9" fill="#f2b24e"/>
<circle cx="437.1" cy="285.7" r="1.9" fill="#f2b24e"/>
<circle cx="438.3" cy="285.3" r="1.9" fill="#f2b24e"/>
<circle cx="435.6" cy="272.1" r="1.9" fill="#f2b24e"/>
<circle cx="440.1" cy="285.3" r="1.9" fill="#f2b24e"/>
<circle cx="436.1" cy="267.2" r="1.9" fill="#f2b24e"/>
<circle cx="446" cy="268.2" r="1.9" fill="#f2b24e"/>
<circle cx="439.7" cy="266.2" r="1.9" fill="#f2b24e"/>
<circle cx="436.7" cy="271.3" r="1.9" fill="#f2b24e"/>
<circle cx="447.3" cy="281.7" r="1.9" fill="#f2b24e"/>
<circle cx="434.7" cy="293.5" r="1.9" fill="#f2b24e"/>
<circle cx="435.1" cy="290.4" r="1.9" fill="#f2b24e"/>
<circle cx="434.7" cy="287.8" r="1.9" fill="#f2b24e"/>
<circle cx="434.8" cy="285" r="1.9" fill="#f2b24e"/>
<circle cx="435.1" cy="283.1" r="1.9" fill="#f2b24e"/>
<circle cx="435.3" cy="280.2" r="1.9" fill="#f2b24e"/>
<circle cx="226.6" cy="236" r="1.8" fill="#f2b24e"/>
<circle cx="226.6" cy="238.6" r="1.8" fill="#f2b24e"/>
<circle cx="226.4" cy="241.6" r="1.8" fill="#f2b24e"/>
<circle cx="227.2" cy="245.3" r="1.8" fill="#f2b24e"/>
<circle cx="227" cy="248.9" r="1.8" fill="#f2b24e"/>
<circle cx="227.4" cy="252.8" r="1.8" fill="#f2b24e"/>
<circle cx="227.4" cy="256.4" r="1.8" fill="#f2b24e"/>
<circle cx="226.8" cy="258.9" r="1.8" fill="#f2b24e"/>
<circle cx="227.3" cy="261" r="1.8" fill="#f2b24e"/>
<circle cx="227.6" cy="263.9" r="1.8" fill="#f2b24e"/>
<circle cx="226.9" cy="266.5" r="1.8" fill="#f2b24e"/>
<circle cx="227.6" cy="270.2" r="1.8" fill="#f2b24e"/>
<circle cx="227.5" cy="273.7" r="1.8" fill="#f2b24e"/>
<circle cx="226.7" cy="277.6" r="1.8" fill="#f2b24e"/>
<circle cx="315.5" cy="240.6" r="1.8" fill="#a8d0d2"/>
<circle cx="316.5" cy="244" r="1.8" fill="#a8d0d2"/>
<circle cx="315.6" cy="247" r="1.8" fill="#a8d0d2"/>
<circle cx="315.5" cy="250.1" r="1.8" fill="#a8d0d2"/>
<circle cx="315.5" cy="253" r="1.8" fill="#a8d0d2"/>
<circle cx="316.4" cy="255.9" r="1.8" fill="#a8d0d2"/>
<circle cx="316.4" cy="259.3" r="1.8" fill="#a8d0d2"/>
<circle cx="315.9" cy="262.3" r="1.8" fill="#a8d0d2"/>
<circle cx="316.3" cy="264.4" r="1.8" fill="#a8d0d2"/>
<circle cx="315.9" cy="267.5" r="1.8" fill="#a8d0d2"/>
<circle cx="316" cy="269.8" r="1.8" fill="#a8d0d2"/>
<circle cx="315.5" cy="271.9" r="1.8" fill="#a8d0d2"/>
<circle cx="315.9" cy="274.1" r="1.8" fill="#a8d0d2"/>
<circle cx="361.4" cy="237" r="1.8" fill="#a8d0d2"/>
<circle cx="361.4" cy="240.2" r="1.8" fill="#a8d0d2"/>
<circle cx="360.6" cy="243.3" r="1.8" fill="#a8d0d2"/>
<circle cx="361.4" cy="245.9" r="1.8" fill="#a8d0d2"/>
<circle cx="361.2" cy="249" r="1.8" fill="#a8d0d2"/>
<circle cx="360.5" cy="252.3" r="1.8" fill="#a8d0d2"/>
<circle cx="360.9" cy="254.7" r="1.8" fill="#a8d0d2"/>
<circle cx="361.5" cy="258.4" r="1.8" fill="#a8d0d2"/>
<circle cx="360.7" cy="261.6" r="1.8" fill="#a8d0d2"/>
<circle cx="361.1" cy="263.7" r="1.8" fill="#a8d0d2"/>
<circle cx="361.5" cy="266.5" r="1.8" fill="#a8d0d2"/>
<circle cx="267.1" cy="245" r="1.8" fill="#a8d0d2"/>
<circle cx="266.9" cy="247" r="1.8" fill="#a8d0d2"/>
<circle cx="267.9" cy="250.6" r="1.8" fill="#a8d0d2"/>
<circle cx="266.9" cy="253" r="1.8" fill="#a8d0d2"/>
<circle cx="267.2" cy="256.1" r="1.8" fill="#a8d0d2"/>
<circle cx="268" cy="259.3" r="1.8" fill="#a8d0d2"/>
<circle cx="267.2" cy="262.8" r="1.8" fill="#a8d0d2"/>
<circle cx="267.2" cy="266" r="1.8" fill="#a8d0d2"/>
<circle cx="267.2" cy="269.6" r="1.8" fill="#a8d0d2"/>
<circle cx="188.7" cy="252" r="1.8" fill="#f2b24e"/>
<circle cx="188.3" cy="255.8" r="1.8" fill="#f2b24e"/>
<circle cx="188.6" cy="259.7" r="1.8" fill="#f2b24e"/>
<circle cx="188.7" cy="262.2" r="1.8" fill="#f2b24e"/>
<circle cx="188" cy="264.8" r="1.8" fill="#f2b24e"/>
<circle cx="188.6" cy="266.9" r="1.8" fill="#f2b24e"/>
<circle cx="188" cy="269.4" r="1.8" fill="#f2b24e"/>
<circle cx="188.1" cy="272.9" r="1.8" fill="#f2b24e"/>
<circle cx="150.2" cy="258" r="1.8" fill="#235e5e"/>
<circle cx="151" cy="260.7" r="1.8" fill="#235e5e"/>
<circle cx="150.9" cy="264.4" r="1.8" fill="#235e5e"/>
<circle cx="150.6" cy="268.3" r="1.8" fill="#235e5e"/>
<circle cx="133.9" cy="235.8" r="2.2" fill="#e8312e"/>
<circle cx="157.7" cy="235.6" r="1.9" fill="#a8d0d2"/>
<circle cx="164.9" cy="235.6" r="1.9" fill="#a8d0d2"/>
<circle cx="180.4" cy="241" r="1.9" fill="#f2b24e"/>
<circle cx="135" cy="253.7" r="1.9" fill="#f2b24e"/>
<circle cx="188" cy="251.3" r="1.9" fill="#f2b24e"/>
<circle cx="152" cy="258" r="1.9" fill="#235e5e"/>
<circle cx="151.5" cy="262" r="1.9" fill="#235e5e"/>
<circle cx="226.7" cy="225.8" r="2.2" fill="#e8312e"/>
<circle cx="268" cy="233.4" r="2.2" fill="#e8312e"/>
<circle cx="291.2" cy="237" r="1.9" fill="#235e5e"/>
<circle cx="317" cy="232.7" r="2.2" fill="#e8312e"/>
<circle cx="360.9" cy="229.8" r="2.2" fill="#e8312e"/>
<circle cx="368.8" cy="256" r="1.9" fill="#f2b24e"/>
<circle cx="393.4" cy="235.8" r="1.9" fill="#a8d0d2"/>
<circle cx="393.4" cy="243" r="1.9" fill="#a8d0d2"/>
<circle cx="400.6" cy="237.7" r="1.9" fill="#f2b24e"/>
<circle cx="443.5" cy="255.4" r="1.9" fill="#f2b24e"/>
<circle cx="434" cy="235.3" r="2.2" fill="#e8312e"/>
<circle cx="258.5" cy="258.5" r="1.9" fill="#a8d0d2"/>
<circle cx="60" cy="260.6" r="1.9" fill="#a8d0d2"/>
<circle cx="282" cy="255" r="1.9" fill="#f2b24e"/>
<circle cx="255" cy="246" r="1.9" fill="#a8d0d2"/>
<line x1="33" y1="239.3" x2="451" y2="239.3" stroke="#ee4f45" stroke-width="1.25" stroke-dasharray="6.7,6.2" stroke-dashoffset="2.9"/>
<line x1="33" y1="267.6" x2="451" y2="267.6" stroke="#f38c58" stroke-width="1.25" stroke-dasharray="6.7,6.2" stroke-dashoffset="2.9"/>
<path d="M26.3,229.5 L26.3,331.4 L451.5,331.4" stroke="#4d4d4f" stroke-width="0.9" fill="none"/>
<line x1="23.8" y1="323.4" x2="26.3" y2="323.4" stroke="#4d4d4f" stroke-width="0.9"/>
<text transform="translate(22.4,326.2) scale(0.893,1)" font-size="8.7" text-anchor="end" fill="#333">0</text>
<line x1="23.8" y1="300.4" x2="26.3" y2="300.4" stroke="#4d4d4f" stroke-width="0.9"/>
<text transform="translate(22.4,303.2) scale(0.893,1)" font-size="8.7" text-anchor="end" fill="#333">2</text>
<line x1="23.8" y1="277.4" x2="26.3" y2="277.4" stroke="#4d4d4f" stroke-width="0.9"/>
<text transform="translate(22.4,280.2) scale(0.893,1)" font-size="8.7" text-anchor="end" fill="#333">4</text>
<line x1="23.8" y1="254.4" x2="26.3" y2="254.4" stroke="#4d4d4f" stroke-width="0.9"/>
<text transform="translate(22.4,257.2) scale(0.893,1)" font-size="8.7" text-anchor="end" fill="#333">6</text>
<line x1="23.8" y1="231.4" x2="26.3" y2="231.4" stroke="#4d4d4f" stroke-width="0.9"/>
<text transform="translate(22.4,234.2) scale(0.893,1)" font-size="8.7" text-anchor="end" fill="#333">8</text>
<text transform="translate(12.6,299) rotate(-90)" font-size="10.3" fill="#231f20">-log<tspan font-size="6.6" dy="2.3">10</tspan><tspan dy="-2.3">(</tspan><tspan font-style="italic">p</tspan>)</text>
<text transform="translate(22.6,341.8) scale(0.893,1)" font-size="8.5" text-anchor="middle" fill="#333">Chr</text>
<text transform="translate(39.3,341.8) scale(0.893,1)" font-size="8.5" text-anchor="middle" fill="#333">1</text>
<text transform="translate(52.7,341.8) scale(0.893,1)" font-size="8.5" text-anchor="middle" fill="#333">2</text>
<text transform="translate(66.2,341.8) scale(0.893,1)" font-size="8.5" text-anchor="middle" fill="#333">3</text>
<text transform="translate(84,341.8) scale(0.893,1)" font-size="8.5" text-anchor="middle" fill="#333">4</text>
<text transform="translate(103.4,341.8) scale(0.893,1)" font-size="8.5" text-anchor="middle" fill="#333">5</text>
<text transform="translate(125.3,341.8) scale(0.893,1)" font-size="8.5" text-anchor="middle" fill="#333">6</text>
<text transform="translate(144.4,341.8) scale(0.893,1)" font-size="8.5" text-anchor="middle" fill="#333">7</text>
<text transform="translate(162.2,341.8) scale(0.893,1)" font-size="8.5" text-anchor="middle" fill="#333">8</text>
<text transform="translate(181.3,341.8) scale(0.893,1)" font-size="8.5" text-anchor="middle" fill="#333">9</text>
<text transform="translate(197.4,341.8) scale(0.893,1)" font-size="8.5" text-anchor="middle" fill="#333">10</text>
<text transform="translate(213.2,341.8) scale(0.893,1)" font-size="8.5" text-anchor="middle" fill="#333">11</text>
<text transform="translate(229.8,341.8) scale(0.893,1)" font-size="8.5" text-anchor="middle" fill="#333">12</text>
<text transform="translate(246.3,341.8) scale(0.893,1)" font-size="8.5" text-anchor="middle" fill="#333">13</text>
<text transform="translate(262,341.8) scale(0.893,1)" font-size="8.5" text-anchor="middle" fill="#333">14</text>
<text transform="translate(279.6,341.8) scale(0.893,1)" font-size="8.5" text-anchor="middle" fill="#333">15</text>
<text transform="translate(297,341.8) scale(0.893,1)" font-size="8.5" text-anchor="middle" fill="#333">16</text>
<text transform="translate(312.2,341.8) scale(0.893,1)" font-size="8.5" text-anchor="middle" fill="#333">17</text>
<text transform="translate(326.9,341.8) scale(0.893,1)" font-size="8.5" text-anchor="middle" fill="#333">18</text>
<text transform="translate(340.9,341.8) scale(0.893,1)" font-size="8.5" text-anchor="middle" fill="#333">19</text>
<text transform="translate(354.9,341.8) scale(0.893,1)" font-size="8.5" text-anchor="middle" fill="#333">20</text>
<text transform="translate(368.9,341.8) scale(0.893,1)" font-size="8.5" text-anchor="middle" fill="#333">21</text>
<text transform="translate(379.4,341.8) scale(0.893,1)" font-size="8.5" text-anchor="middle" fill="#333">22</text>
<text transform="translate(392.4,341.8) scale(0.893,1)" font-size="8.5" text-anchor="middle" fill="#333">23</text>
<text transform="translate(404,341.8) scale(0.893,1)" font-size="8.5" text-anchor="middle" fill="#333">24</text>
<text transform="translate(416.2,341.8) scale(0.893,1)" font-size="8.5" text-anchor="middle" fill="#333">25</text>
<text transform="translate(426.7,341.8) scale(0.893,1)" font-size="8.5" text-anchor="middle" fill="#333">26</text>
<text transform="translate(441.8,341.8) scale(0.893,1)" font-size="8.5" text-anchor="middle" fill="#333">27</text>
<text x="131.8" y="229.8" font-size="9.0" text-anchor="middle" font-style="italic" fill="#f2ab4e" stroke="#f2ab4e" stroke-width="0.16">CYP81A</text>
<text x="228" y="221" font-size="9.2" text-anchor="middle" fill="#235e5e" stroke="#235e5e" stroke-width="0.16">UDP/GT</text>
<text x="277" y="226.3" font-size="9.4" text-anchor="middle" font-style="italic" fill="#f2ab4e" stroke="#f2ab4e" stroke-width="0.16">AKR4C16</text>
<text x="319" y="226.7" font-size="9.0" text-anchor="middle" fill="#235e5e" stroke="#235e5e" stroke-width="0.16">P450</text>
<text x="365.5" y="225.8" font-size="10.4" font-style="italic" fill="#e8312e" stroke="#e8312e" stroke-width="0.16">DsSOH1</text>
<text x="435.2" y="229.8" font-size="9.8" text-anchor="middle" font-style="italic" fill="#f2ab4e" stroke="#f2ab4e" stroke-width="0.16">ABCC1</text>
<circle cx="502.3" cy="296.2" r="1.5" fill="#808080"/>
<circle cx="502.3" cy="306.1" r="1.5" fill="#808080"/>
<circle cx="511.1" cy="317.2" r="1.5" fill="#808080"/>
<circle cx="525.1" cy="306.1" r="1.5" fill="#808080"/>
<circle cx="525.1" cy="307.9" r="1.5" fill="#808080"/>
<circle cx="528" cy="317.2" r="1.5" fill="#808080"/>
<circle cx="533.3" cy="316" r="1.5" fill="#808080"/>
<circle cx="533.9" cy="317.2" r="1.5" fill="#808080"/>
<circle cx="542" cy="281" r="1.5" fill="#808080"/>
<circle cx="542.6" cy="304.4" r="1.5" fill="#808080"/>
<circle cx="556.6" cy="289.8" r="1.5" fill="#808080"/>
<circle cx="566.6" cy="272.8" r="1.5" fill="#808080"/>
<circle cx="569.5" cy="275" r="1.5" fill="#808080"/>
<circle cx="585.1" cy="272.4" r="1.5" fill="#808080"/>
<circle cx="585.1" cy="279.4" r="1.5" fill="#808080"/>
<circle cx="586.9" cy="295.7" r="1.5" fill="#808080"/>
<circle cx="586.9" cy="301" r="1.5" fill="#808080"/>
<circle cx="595.7" cy="292.6" r="1.5" fill="#808080"/>
<circle cx="608.4" cy="301.3" r="1.5" fill="#808080"/>
<circle cx="608.4" cy="311.5" r="1.5" fill="#808080"/>
<circle cx="617.6" cy="292.6" r="1.5" fill="#808080"/>
<circle cx="617.6" cy="302.2" r="1.5" fill="#808080"/>
<circle cx="617.6" cy="311" r="1.5" fill="#808080"/>
<circle cx="614" cy="316.2" r="1.5" fill="#808080"/>
<circle cx="649.1" cy="310.1" r="1.5" fill="#808080"/>
<circle cx="525.1" cy="293.3" r="1.5" fill="#808080"/>
<circle cx="532.7" cy="292.1" r="1.5" fill="#808080"/>
<circle cx="507.9" cy="305.8" r="1.5" fill="#808080"/>
<circle cx="508.5" cy="304.9" r="1.5" fill="#808080"/>
<circle cx="508.3" cy="305" r="1.5" fill="#808080"/>
<circle cx="505.9" cy="307" r="1.5" fill="#808080"/>
<circle cx="509" cy="306.2" r="1.5" fill="#808080"/>
<circle cx="508.9" cy="308.6" r="1.5" fill="#808080"/>
<circle cx="507.4" cy="308" r="1.5" fill="#808080"/>
<circle cx="512" cy="311.3" r="1.5" fill="#808080"/>
<circle cx="509.4" cy="313.2" r="1.5" fill="#808080"/>
<circle cx="510.7" cy="309.6" r="1.5" fill="#808080"/>
<circle cx="513.1" cy="313.5" r="1.5" fill="#808080"/>
<circle cx="513.2" cy="313.6" r="1.5" fill="#808080"/>
<circle cx="512.3" cy="313.6" r="1.5" fill="#808080"/>
<circle cx="509.3" cy="309.8" r="1.5" fill="#808080"/>
<circle cx="510.3" cy="313.2" r="1.5" fill="#808080"/>
<circle cx="514.1" cy="309.8" r="1.5" fill="#808080"/>
<circle cx="510.6" cy="298.4" r="1.5" fill="#808080"/>
<circle cx="510.7" cy="296.3" r="1.5" fill="#808080"/>
<circle cx="510.6" cy="298.9" r="1.5" fill="#808080"/>
<circle cx="510.8" cy="294.3" r="1.5" fill="#808080"/>
<circle cx="510.8" cy="294.7" r="1.5" fill="#808080"/>
<circle cx="515.6" cy="302.3" r="1.5" fill="#808080"/>
<circle cx="512.5" cy="301.2" r="1.5" fill="#808080"/>
<circle cx="528.9" cy="303.3" r="1.5" fill="#808080"/>
<circle cx="531.2" cy="300.9" r="1.5" fill="#808080"/>
<circle cx="520" cy="297.5" r="1.5" fill="#808080"/>
<circle cx="525.2" cy="301.1" r="1.5" fill="#808080"/>
<circle cx="525.2" cy="298.3" r="1.5" fill="#808080"/>
<circle cx="512.2" cy="296.4" r="1.5" fill="#808080"/>
<circle cx="511.2" cy="298" r="1.5" fill="#808080"/>
<circle cx="536.3" cy="303.2" r="1.5" fill="#808080"/>
<circle cx="534.5" cy="300.7" r="1.5" fill="#808080"/>
<circle cx="528.1" cy="303.3" r="1.5" fill="#808080"/>
<circle cx="511.9" cy="302" r="1.5" fill="#808080"/>
<circle cx="539.6" cy="301.9" r="1.5" fill="#808080"/>
<circle cx="533.5" cy="296.7" r="1.5" fill="#808080"/>
<circle cx="539.2" cy="300.9" r="1.5" fill="#808080"/>
<circle cx="521.3" cy="299.6" r="1.5" fill="#808080"/>
<circle cx="534.2" cy="302.6" r="1.5" fill="#808080"/>
<circle cx="533.3" cy="297.7" r="1.5" fill="#808080"/>
<circle cx="536.7" cy="303.1" r="1.5" fill="#808080"/>
<circle cx="539.3" cy="302.7" r="1.5" fill="#808080"/>
<circle cx="520.9" cy="299" r="1.5" fill="#808080"/>
<circle cx="538.5" cy="300.9" r="1.5" fill="#808080"/>
<circle cx="538.7" cy="299.5" r="1.5" fill="#808080"/>
<circle cx="520" cy="301.1" r="1.5" fill="#808080"/>
<circle cx="515.9" cy="302.8" r="1.5" fill="#808080"/>
<circle cx="515" cy="298.4" r="1.5" fill="#808080"/>
<circle cx="540.9" cy="302.2" r="1.5" fill="#808080"/>
<circle cx="512" cy="296.3" r="1.5" fill="#808080"/>
<circle cx="526.8" cy="300.4" r="1.5" fill="#808080"/>
<circle cx="517.7" cy="299.1" r="1.5" fill="#808080"/>
<circle cx="535.7" cy="300.1" r="1.5" fill="#808080"/>
<circle cx="523.4" cy="302.9" r="1.5" fill="#808080"/>
<circle cx="538.4" cy="303.1" r="1.5" fill="#808080"/>
<circle cx="525.6" cy="297.4" r="1.5" fill="#808080"/>
<circle cx="514.5" cy="298.1" r="1.5" fill="#808080"/>
<circle cx="539.5" cy="298.8" r="1.5" fill="#808080"/>
<circle cx="534.5" cy="302.6" r="1.5" fill="#808080"/>
<circle cx="523.8" cy="302.3" r="1.5" fill="#808080"/>
<circle cx="536.3" cy="301.2" r="1.5" fill="#808080"/>
<circle cx="524.3" cy="296.2" r="1.5" fill="#808080"/>
<circle cx="536.5" cy="296.4" r="1.5" fill="#808080"/>
<circle cx="524.3" cy="299.9" r="1.5" fill="#808080"/>
<circle cx="532.7" cy="299.9" r="1.5" fill="#808080"/>
<circle cx="519.4" cy="300.5" r="1.5" fill="#808080"/>
<circle cx="515" cy="300.6" r="1.5" fill="#808080"/>
<circle cx="540.6" cy="296.5" r="1.5" fill="#808080"/>
<circle cx="529.6" cy="299.8" r="1.5" fill="#808080"/>
<circle cx="520.8" cy="302.7" r="1.5" fill="#808080"/>
<circle cx="518.8" cy="297.8" r="1.5" fill="#808080"/>
<circle cx="537" cy="300.8" r="1.5" fill="#808080"/>
<circle cx="534.5" cy="297.8" r="1.5" fill="#808080"/>
<circle cx="531.7" cy="298.6" r="1.5" fill="#808080"/>
<circle cx="533.7" cy="300.7" r="1.5" fill="#808080"/>
<circle cx="532" cy="301.3" r="1.5" fill="#808080"/>
<circle cx="525.3" cy="297.9" r="1.5" fill="#808080"/>
<circle cx="531.6" cy="301.2" r="1.5" fill="#808080"/>
<circle cx="539.3" cy="298.7" r="1.5" fill="#808080"/>
<circle cx="528.2" cy="303.2" r="1.5" fill="#808080"/>
<circle cx="527.2" cy="301.5" r="1.5" fill="#808080"/>
<circle cx="531" cy="300" r="1.5" fill="#808080"/>
<circle cx="535.4" cy="298.7" r="1.5" fill="#808080"/>
<circle cx="534.5" cy="296.6" r="1.5" fill="#808080"/>
<circle cx="530.4" cy="295.6" r="1.5" fill="#808080"/>
<circle cx="535.4" cy="296.6" r="1.5" fill="#808080"/>
<circle cx="535.8" cy="295.3" r="1.5" fill="#808080"/>
<circle cx="531.6" cy="295" r="1.5" fill="#808080"/>
<circle cx="538.8" cy="296.2" r="1.5" fill="#808080"/>
<circle cx="527.3" cy="297.1" r="1.5" fill="#808080"/>
<circle cx="535.6" cy="295.1" r="1.5" fill="#808080"/>
<circle cx="525.9" cy="295.7" r="1.5" fill="#808080"/>
<circle cx="532.4" cy="295.6" r="1.5" fill="#808080"/>
<circle cx="517.6" cy="295.5" r="1.5" fill="#808080"/>
<circle cx="528.7" cy="295.8" r="1.5" fill="#808080"/>
<circle cx="545.6" cy="291.7" r="1.5" fill="#808080"/>
<circle cx="547.9" cy="291.5" r="1.5" fill="#808080"/>
<circle cx="548.9" cy="292.9" r="1.5" fill="#808080"/>
<circle cx="541.3" cy="294.1" r="1.5" fill="#808080"/>
<circle cx="548.2" cy="290.5" r="1.5" fill="#808080"/>
<circle cx="543.4" cy="294.4" r="1.5" fill="#808080"/>
<circle cx="541.5" cy="296.2" r="1.5" fill="#808080"/>
<circle cx="546.2" cy="292.4" r="1.5" fill="#808080"/>
<circle cx="542.5" cy="293.9" r="1.5" fill="#808080"/>
<circle cx="544.5" cy="293" r="1.5" fill="#808080"/>
<circle cx="541.4" cy="294.1" r="1.5" fill="#808080"/>
<circle cx="546.1" cy="293.7" r="1.5" fill="#808080"/>
<circle cx="547.5" cy="290.8" r="1.5" fill="#808080"/>
<circle cx="543.6" cy="293.7" r="1.5" fill="#808080"/>
<circle cx="545.5" cy="292.9" r="1.5" fill="#808080"/>
<circle cx="544.1" cy="294" r="1.5" fill="#808080"/>
<circle cx="550.1" cy="290.3" r="1.5" fill="#808080"/>
<circle cx="545.1" cy="291.4" r="1.5" fill="#808080"/>
<circle cx="542" cy="294.1" r="1.5" fill="#808080"/>
<circle cx="547" cy="292.9" r="1.5" fill="#808080"/>
<circle cx="551.5" cy="288.7" r="1.5" fill="#808080"/>
<circle cx="550" cy="292.6" r="1.5" fill="#808080"/>
<circle cx="544.2" cy="285.8" r="1.5" fill="#808080"/>
<circle cx="542.5" cy="284.9" r="1.5" fill="#808080"/>
<circle cx="544" cy="283.5" r="1.5" fill="#808080"/>
<circle cx="545.4" cy="284.8" r="1.5" fill="#808080"/>
<circle cx="543.2" cy="283.7" r="1.5" fill="#808080"/>
<circle cx="543" cy="316.3" r="1.5" fill="#808080"/>
<circle cx="543.3" cy="316.9" r="1.5" fill="#808080"/>
<circle cx="543.4" cy="316.2" r="1.5" fill="#808080"/>
<circle cx="544.6" cy="311.9" r="1.5" fill="#808080"/>
<circle cx="544.1" cy="314.2" r="1.5" fill="#808080"/>
<circle cx="543.6" cy="315.7" r="1.5" fill="#808080"/>
<circle cx="554.1" cy="278.6" r="1.5" fill="#808080"/>
<circle cx="557.8" cy="282.6" r="1.5" fill="#808080"/>
<circle cx="553.2" cy="278.4" r="1.5" fill="#808080"/>
<circle cx="554.9" cy="284.6" r="1.5" fill="#808080"/>
<circle cx="553.6" cy="278.3" r="1.5" fill="#808080"/>
<circle cx="554.8" cy="286" r="1.5" fill="#808080"/>
<circle cx="554.7" cy="287.8" r="1.5" fill="#808080"/>
<circle cx="555.8" cy="284.3" r="1.5" fill="#808080"/>
<circle cx="553.5" cy="280.6" r="1.5" fill="#808080"/>
<circle cx="557.2" cy="289" r="1.5" fill="#808080"/>
<circle cx="555.1" cy="286.1" r="1.5" fill="#808080"/>
<circle cx="557.9" cy="280.6" r="1.5" fill="#808080"/>
<circle cx="553.1" cy="286.2" r="1.5" fill="#808080"/>
<circle cx="552.5" cy="278.3" r="1.5" fill="#808080"/>
<circle cx="553.5" cy="282.5" r="1.5" fill="#808080"/>
<circle cx="554.7" cy="282.1" r="1.5" fill="#808080"/>
<circle cx="555.6" cy="281" r="1.5" fill="#808080"/>
<circle cx="552.2" cy="280.8" r="1.5" fill="#808080"/>
<circle cx="553.5" cy="283.3" r="1.5" fill="#808080"/>
<circle cx="553.8" cy="285.9" r="1.5" fill="#808080"/>
<circle cx="555.1" cy="284" r="1.5" fill="#808080"/>
<circle cx="553.9" cy="281" r="1.5" fill="#808080"/>
<circle cx="555.5" cy="288.7" r="1.5" fill="#808080"/>
<circle cx="553.2" cy="284.1" r="1.5" fill="#808080"/>
<circle cx="557.8" cy="279.4" r="1.5" fill="#808080"/>
<circle cx="555.2" cy="289" r="1.5" fill="#808080"/>
<circle cx="556.8" cy="284.4" r="1.5" fill="#808080"/>
<circle cx="555.4" cy="281.4" r="1.5" fill="#808080"/>
<circle cx="555.8" cy="283.8" r="1.5" fill="#808080"/>
<circle cx="557.8" cy="284.9" r="1.5" fill="#808080"/>
<circle cx="554.1" cy="279.8" r="1.5" fill="#808080"/>
<circle cx="552.8" cy="285.9" r="1.5" fill="#808080"/>
<circle cx="557.2" cy="288.4" r="1.5" fill="#808080"/>
<circle cx="557.3" cy="281.5" r="1.5" fill="#808080"/>
<circle cx="554.4" cy="286" r="1.5" fill="#808080"/>
<circle cx="556.9" cy="279.1" r="1.5" fill="#808080"/>
<circle cx="552.4" cy="283.9" r="1.5" fill="#808080"/>
<circle cx="555.2" cy="283.7" r="1.5" fill="#808080"/>
<circle cx="554.4" cy="277.3" r="1.5" fill="#808080"/>
<circle cx="554.3" cy="279.7" r="1.5" fill="#808080"/>
<circle cx="554.3" cy="280" r="1.5" fill="#808080"/>
<circle cx="554.4" cy="278.5" r="1.5" fill="#808080"/>
<circle cx="566.9" cy="286.4" r="1.5" fill="#808080"/>
<circle cx="567.4" cy="280.2" r="1.5" fill="#808080"/>
<circle cx="570" cy="282" r="1.5" fill="#808080"/>
<circle cx="561.2" cy="281.1" r="1.5" fill="#808080"/>
<circle cx="562.7" cy="282.4" r="1.5" fill="#808080"/>
<circle cx="569.6" cy="282" r="1.5" fill="#808080"/>
<circle cx="562" cy="284.7" r="1.5" fill="#808080"/>
<circle cx="569.2" cy="285.6" r="1.5" fill="#808080"/>
<circle cx="566.4" cy="283.9" r="1.5" fill="#808080"/>
<circle cx="562.2" cy="282.5" r="1.5" fill="#808080"/>
<circle cx="561.1" cy="285.9" r="1.5" fill="#808080"/>
<circle cx="564.2" cy="286.1" r="1.5" fill="#808080"/>
<circle cx="561.2" cy="282.8" r="1.5" fill="#808080"/>
<circle cx="567.6" cy="280.9" r="1.5" fill="#808080"/>
<circle cx="561.9" cy="283.8" r="1.5" fill="#808080"/>
<circle cx="563.6" cy="282.7" r="1.5" fill="#808080"/>
<circle cx="565.3" cy="280.5" r="1.5" fill="#808080"/>
<circle cx="564.2" cy="286.2" r="1.5" fill="#808080"/>
<circle cx="567.2" cy="285.6" r="1.5" fill="#808080"/>
<circle cx="566.6" cy="283.3" r="1.5" fill="#808080"/>
<circle cx="567.4" cy="302.4" r="1.5" fill="#808080"/>
<circle cx="567.3" cy="306.4" r="1.5" fill="#808080"/>
<circle cx="567.3" cy="306.4" r="1.5" fill="#808080"/>
<circle cx="567.3" cy="309.9" r="1.5" fill="#808080"/>
<circle cx="567.2" cy="311.7" r="1.5" fill="#808080"/>
<circle cx="594.2" cy="282.1" r="1.5" fill="#808080"/>
<circle cx="605.9" cy="282.9" r="1.5" fill="#808080"/>
<circle cx="605.3" cy="280.9" r="1.5" fill="#808080"/>
<circle cx="590.7" cy="280.8" r="1.5" fill="#808080"/>
<circle cx="590.8" cy="283.1" r="1.5" fill="#808080"/>
<circle cx="602.5" cy="282.6" r="1.5" fill="#808080"/>
<circle cx="609.1" cy="281.6" r="1.5" fill="#808080"/>
<circle cx="596.2" cy="280.3" r="1.5" fill="#808080"/>
<circle cx="589.4" cy="280.6" r="1.5" fill="#808080"/>
<circle cx="590" cy="283" r="1.5" fill="#808080"/>
<circle cx="610.9" cy="280.8" r="1.5" fill="#808080"/>
<circle cx="593.9" cy="283.2" r="1.5" fill="#808080"/>
<circle cx="611.4" cy="280.9" r="1.5" fill="#808080"/>
<circle cx="607.8" cy="283.1" r="1.5" fill="#808080"/>
<circle cx="603.3" cy="282.2" r="1.5" fill="#808080"/>
<circle cx="594.2" cy="282.3" r="1.5" fill="#808080"/>
<circle cx="603" cy="282.2" r="1.5" fill="#808080"/>
<circle cx="597.7" cy="283.1" r="1.5" fill="#808080"/>
<circle cx="608.1" cy="280.9" r="1.5" fill="#808080"/>
<circle cx="607.4" cy="281.8" r="1.5" fill="#808080"/>
<circle cx="608.5" cy="281.5" r="1.5" fill="#808080"/>
<circle cx="602.5" cy="281.2" r="1.5" fill="#808080"/>
<circle cx="605.9" cy="282" r="1.5" fill="#808080"/>
<circle cx="591" cy="283.5" r="1.5" fill="#808080"/>
<circle cx="593.4" cy="283.5" r="1.5" fill="#808080"/>
<circle cx="609.4" cy="281.6" r="1.5" fill="#808080"/>
<circle cx="606.4" cy="283.6" r="1.5" fill="#808080"/>
<circle cx="599.7" cy="279.9" r="1.5" fill="#808080"/>
<circle cx="603.1" cy="281.9" r="1.5" fill="#808080"/>
<circle cx="599.5" cy="283.2" r="1.5" fill="#808080"/>
<circle cx="592.3" cy="283" r="1.5" fill="#808080"/>
<circle cx="597.4" cy="282" r="1.5" fill="#808080"/>
<circle cx="609.2" cy="283" r="1.5" fill="#808080"/>
<circle cx="594.6" cy="282.5" r="1.5" fill="#808080"/>
<circle cx="592.5" cy="282.4" r="1.5" fill="#808080"/>
<circle cx="594.2" cy="281.6" r="1.5" fill="#808080"/>
<circle cx="605.4" cy="279" r="1.5" fill="#808080"/>
<circle cx="609.6" cy="278.8" r="1.5" fill="#808080"/>
<circle cx="613.7" cy="281.7" r="1.5" fill="#808080"/>
<circle cx="610.9" cy="278.8" r="1.5" fill="#808080"/>
<circle cx="606.5" cy="281.8" r="1.5" fill="#808080"/>
<circle cx="608.7" cy="281.7" r="1.5" fill="#808080"/>
<circle cx="614.2" cy="287.3" r="1.5" fill="#808080"/>
<circle cx="607.5" cy="288.9" r="1.5" fill="#808080"/>
<circle cx="607.9" cy="288.3" r="1.5" fill="#808080"/>
<circle cx="610.1" cy="278.5" r="1.5" fill="#808080"/>
<circle cx="609.6" cy="285.7" r="1.5" fill="#808080"/>
<circle cx="610.9" cy="286" r="1.5" fill="#808080"/>
<circle cx="614.2" cy="281.3" r="1.5" fill="#808080"/>
<circle cx="607.1" cy="286.5" r="1.5" fill="#808080"/>
<circle cx="613.5" cy="278.8" r="1.5" fill="#808080"/>
<circle cx="613.1" cy="284.4" r="1.5" fill="#808080"/>
<circle cx="617.3" cy="289.1" r="1.5" fill="#808080"/>
<circle cx="605.8" cy="280.6" r="1.5" fill="#808080"/>
<circle cx="610.2" cy="288.6" r="1.5" fill="#808080"/>
<circle cx="611.9" cy="278.3" r="1.5" fill="#808080"/>
<circle cx="611.5" cy="285.3" r="1.5" fill="#808080"/>
<circle cx="606.2" cy="288.3" r="1.5" fill="#808080"/>
<circle cx="616.3" cy="283.7" r="1.5" fill="#808080"/>
<circle cx="616.8" cy="288.5" r="1.5" fill="#808080"/>
<circle cx="608.1" cy="288.6" r="1.5" fill="#808080"/>
<circle cx="610.5" cy="297" r="1.5" fill="#808080"/>
<circle cx="609.2" cy="294.1" r="1.5" fill="#808080"/>
<circle cx="609.7" cy="297.1" r="1.5" fill="#808080"/>
<circle cx="607.3" cy="289.4" r="1.5" fill="#808080"/>
<circle cx="608.6" cy="293.3" r="1.5" fill="#808080"/>
<circle cx="610.5" cy="293.1" r="1.5" fill="#808080"/>
<circle cx="607.7" cy="294.9" r="1.5" fill="#808080"/>
<circle cx="608" cy="293" r="1.5" fill="#808080"/>
<circle cx="615.1" cy="292.5" r="1.5" fill="#808080"/>
<circle cx="614.5" cy="295.7" r="1.5" fill="#808080"/>
<circle cx="607.2" cy="293" r="1.5" fill="#808080"/>
<circle cx="611.3" cy="292.7" r="1.5" fill="#808080"/>
<circle cx="610.3" cy="292.3" r="1.5" fill="#808080"/>
<circle cx="613.4" cy="289.9" r="1.5" fill="#808080"/>
<circle cx="629" cy="316.2" r="1.5" fill="#808080"/>
<circle cx="645.3" cy="317.1" r="1.5" fill="#808080"/>
<circle cx="622.9" cy="316.8" r="1.5" fill="#808080"/>
<circle cx="622.1" cy="314.9" r="1.5" fill="#808080"/>
<circle cx="645.1" cy="316.8" r="1.5" fill="#808080"/>
<circle cx="623.4" cy="317.7" r="1.5" fill="#808080"/>
<circle cx="627" cy="317.7" r="1.5" fill="#808080"/>
<circle cx="632.8" cy="315.7" r="1.5" fill="#808080"/>
<circle cx="627" cy="317.8" r="1.5" fill="#808080"/>
<circle cx="641.4" cy="317.8" r="1.5" fill="#808080"/>
<circle cx="625.6" cy="316.9" r="1.5" fill="#808080"/>
<circle cx="631.1" cy="317.6" r="1.5" fill="#808080"/>
<circle cx="632.5" cy="316.8" r="1.5" fill="#808080"/>
<circle cx="643" cy="315.8" r="1.5" fill="#808080"/>
<circle cx="647.5" cy="315.4" r="1.5" fill="#808080"/>
<circle cx="643.2" cy="315.7" r="1.5" fill="#808080"/>
<circle cx="633.2" cy="314.7" r="1.5" fill="#808080"/>
<circle cx="639.9" cy="314.1" r="1.5" fill="#808080"/>
<circle cx="642.2" cy="315.2" r="1.5" fill="#808080"/>
<circle cx="627.7" cy="314.7" r="1.5" fill="#808080"/>
<circle cx="631.3" cy="317.5" r="1.5" fill="#808080"/>
<circle cx="621.4" cy="317.3" r="1.5" fill="#808080"/>
<circle cx="627.6" cy="315.3" r="1.5" fill="#808080"/>
<circle cx="628.3" cy="317.8" r="1.5" fill="#808080"/>
<circle cx="643.4" cy="315.8" r="1.5" fill="#808080"/>
<circle cx="620.2" cy="317.8" r="1.5" fill="#808080"/>
<circle cx="623.4" cy="316.6" r="1.5" fill="#808080"/>
<circle cx="646.4" cy="314.2" r="1.5" fill="#808080"/>
<circle cx="638.6" cy="317.1" r="1.5" fill="#808080"/>
<circle cx="632.8" cy="316.6" r="1.5" fill="#808080"/>
<circle cx="629.7" cy="318" r="1.5" fill="#808080"/>
<circle cx="637.7" cy="314.7" r="1.5" fill="#808080"/>
<circle cx="642.2" cy="317.6" r="1.5" fill="#808080"/>
<circle cx="636" cy="317.3" r="1.5" fill="#808080"/>
<circle cx="641.6" cy="316.2" r="1.5" fill="#808080"/>
<circle cx="648.9" cy="314.8" r="1.5" fill="#808080"/>
<circle cx="623" cy="316.7" r="1.5" fill="#808080"/>
<circle cx="648.1" cy="316.2" r="1.5" fill="#808080"/>
<circle cx="633" cy="316.2" r="1.5" fill="#808080"/>
<circle cx="643.5" cy="314.2" r="1.5" fill="#808080"/>
<circle cx="636.1" cy="314.1" r="1.5" fill="#808080"/>
<circle cx="638.1" cy="317.6" r="1.5" fill="#808080"/>
<circle cx="644.9" cy="316.3" r="1.5" fill="#808080"/>
<circle cx="620.9" cy="314.1" r="1.5" fill="#808080"/>
<circle cx="620.3" cy="315.7" r="1.5" fill="#808080"/>
<circle cx="634.5" cy="314.4" r="1.5" fill="#808080"/>
<circle cx="631.7" cy="317.1" r="1.5" fill="#808080"/>
<circle cx="628" cy="317.2" r="1.5" fill="#808080"/>
<circle cx="637" cy="316.6" r="1.5" fill="#808080"/>
<circle cx="643" cy="317" r="1.5" fill="#808080"/>
<circle cx="630.4" cy="317" r="1.5" fill="#808080"/>
<circle cx="650.2" cy="314.6" r="1.5" fill="#808080"/>
<circle cx="646.1" cy="315.5" r="1.5" fill="#808080"/>
<circle cx="631.9" cy="317.4" r="1.5" fill="#808080"/>
<circle cx="645.5" cy="316" r="1.5" fill="#808080"/>
<circle cx="620.5" cy="317.3" r="1.5" fill="#808080"/>
<circle cx="622.4" cy="315.1" r="1.5" fill="#808080"/>
<circle cx="647.7" cy="317.2" r="1.5" fill="#808080"/>
<circle cx="644.4" cy="316.7" r="1.5" fill="#808080"/>
<circle cx="640.8" cy="314.5" r="1.5" fill="#808080"/>
<circle cx="638.9" cy="314.8" r="1.5" fill="#808080"/>
<circle cx="631.2" cy="318" r="1.5" fill="#808080"/>
<circle cx="635.4" cy="315.6" r="1.5" fill="#808080"/>
<circle cx="625.1" cy="316.4" r="1.5" fill="#808080"/>
<circle cx="629.3" cy="317.9" r="1.5" fill="#808080"/>
<circle cx="629.1" cy="316.5" r="1.5" fill="#808080"/>
<circle cx="634.3" cy="315.2" r="1.5" fill="#808080"/>
<circle cx="631.9" cy="314" r="1.5" fill="#808080"/>
<circle cx="645" cy="314.3" r="1.5" fill="#808080"/>
<circle cx="641.1" cy="315.3" r="1.5" fill="#808080"/>
<circle cx="636.2" cy="314.8" r="1.5" fill="#808080"/>
<circle cx="630.7" cy="315.6" r="1.5" fill="#808080"/>
<circle cx="640.7" cy="315.9" r="1.5" fill="#808080"/>
<circle cx="628.3" cy="317.7" r="1.5" fill="#808080"/>
<circle cx="622" cy="316.6" r="1.5" fill="#808080"/>
<circle cx="637.6" cy="314.9" r="1.5" fill="#808080"/>
<circle cx="641.8" cy="316.8" r="1.5" fill="#808080"/>
<circle cx="648.6" cy="316.9" r="1.5" fill="#808080"/>
<circle cx="641.9" cy="317.7" r="1.5" fill="#808080"/>
<circle cx="643" cy="315.3" r="1.5" fill="#808080"/>
<circle cx="554.5" cy="271.1" r="1.6" fill="#f5a23a"/>
<circle cx="569.1" cy="266.1" r="1.6" fill="#f5a23a"/>
<circle cx="585.1" cy="266.6" r="1.6" fill="#f5a23a"/>
<path d="M502.3,261.9 L502.3,318.8 L650.8,318.8" stroke="#808080" stroke-width="1.2" fill="none"/>
<line x1="500" y1="318.8" x2="502.3" y2="318.8" stroke="#808080" stroke-width="0.9"/>
<text transform="translate(499,321.6) scale(0.893,1)" font-size="8.7" text-anchor="end" fill="#333">0</text>
<line x1="500" y1="305.9" x2="502.3" y2="305.9" stroke="#808080" stroke-width="0.9"/>
<text transform="translate(499,308.7) scale(0.893,1)" font-size="8.7" text-anchor="end" fill="#333">2</text>
<line x1="500" y1="293" x2="502.3" y2="293" stroke="#808080" stroke-width="0.9"/>
<text transform="translate(499,295.8) scale(0.893,1)" font-size="8.7" text-anchor="end" fill="#333">4</text>
<line x1="500" y1="280.1" x2="502.3" y2="280.1" stroke="#808080" stroke-width="0.9"/>
<text transform="translate(499,282.9) scale(0.893,1)" font-size="8.7" text-anchor="end" fill="#333">6</text>
<line x1="500" y1="267.2" x2="502.3" y2="267.2" stroke="#808080" stroke-width="0.9"/>
<text transform="translate(499,270) scale(0.893,1)" font-size="8.7" text-anchor="end" fill="#333">8</text>
<line x1="532.1" y1="318.8" x2="532.1" y2="321" stroke="#808080" stroke-width="0.9"/>
<line x1="562.2" y1="318.8" x2="562.2" y2="321" stroke="#808080" stroke-width="0.9"/>
<line x1="591.3" y1="318.8" x2="591.3" y2="321" stroke="#808080" stroke-width="0.9"/>
<line x1="620.7" y1="318.8" x2="620.7" y2="321" stroke="#808080" stroke-width="0.9"/>
<line x1="650.5" y1="318.8" x2="650.5" y2="321" stroke="#808080" stroke-width="0.9"/>
<text transform="translate(494.4,328.5) scale(0.893,1)" font-size="8.7" fill="#333">34.0</text>
<text transform="translate(635,328.5) scale(0.893,1)" font-size="8.7" fill="#333">34.1 (Mb)</text>
<text x="505.8" y="269.8" font-size="9.3" stroke="#231f20" stroke-width="0.16">Chr20</text>
<text transform="translate(483.8,311) rotate(-90)" font-size="10.3" fill="#231f20">-log<tspan font-size="6.6" dy="2.3">10</tspan><tspan dy="-2.3">(</tspan><tspan font-style="italic">p</tspan>)</text>
<line x1="534.3" y1="335.9" x2="548.7" y2="335.9" stroke="#4a9692" stroke-width="0.6"/>
<rect x="533.8" y="334.4" width="0.9" height="3" fill="#4a9692"/>
<rect x="548.7" y="334.4" width="3.8" height="3" fill="#4a9692"/>
<rect x="557.7" y="334.4" width="0.9" height="3" fill="#4a9692"/>
<line x1="588.4" y1="335.9" x2="594.9" y2="335.9" stroke="#4a9692" stroke-width="0.5"/>
<rect x="588.4" y="334.5" width="0.9" height="2.8" fill="#4a9692"/>
<rect x="590" y="334.5" width="1.4" height="2.8" fill="#4a9692"/>
<rect x="591.6" y="334.5" width="0.9" height="2.8" fill="#4a9692"/>
<line x1="599.8" y1="335.9" x2="607.7" y2="335.9" stroke="#4a9692" stroke-width="0.5"/>
<rect x="599.8" y="334.5" width="0.9" height="2.8" fill="#4a9692"/>
<rect x="601.4" y="334.5" width="1.4" height="2.8" fill="#4a9692"/>
<rect x="603" y="334.5" width="0.9" height="2.8" fill="#4a9692"/>
<rect x="605.8" y="334.5" width="0.9" height="2.8" fill="#4a9692"/>
<line x1="617.3" y1="335.9" x2="625.2" y2="335.9" stroke="#4a9692" stroke-width="0.5"/>
<rect x="617.3" y="334.5" width="0.9" height="2.8" fill="#4a9692"/>
<rect x="618.9" y="334.5" width="1.4" height="2.8" fill="#4a9692"/>
<rect x="620.5" y="334.5" width="0.9" height="2.8" fill="#4a9692"/>
<rect x="623.3" y="334.5" width="0.9" height="2.8" fill="#4a9692"/>
<line x1="632.2" y1="335.9" x2="640.1" y2="335.9" stroke="#4a9692" stroke-width="0.5"/>
<rect x="632.2" y="334.5" width="0.9" height="2.8" fill="#4a9692"/>
<rect x="633.8" y="334.5" width="1.4" height="2.8" fill="#4a9692"/>
<rect x="635.4" y="334.5" width="0.9" height="2.8" fill="#4a9692"/>
<rect x="638.2" y="334.5" width="0.9" height="2.8" fill="#4a9692"/>
<text x="545" y="349.5" font-size="9.1" text-anchor="middle" font-style="italic" fill="#3b8884" stroke="#3b8884" stroke-width="0.16">DsSOH1</text>
<text transform="translate(585.8,348.3) scale(0.893,1)" font-size="8.8" font-style="italic" fill="#333">DsPSA1</text>
<text transform="translate(603.8,355.1) scale(0.893,1)" font-size="8.8" font-style="italic" fill="#333">DsMLO4</text>
<text transform="translate(632.8,348.3) scale(0.893,1)" font-size="8.8" font-style="italic" fill="#333">DsTMN1</text>
<rect x="491.9" y="384.9" width="157.6" height="29.2" fill="#ececec"/>
<path d="M491.4,370.5 L491.4,413.4" stroke="#3e7d7a" stroke-width="1.0" fill="none"/>
<line x1="489.2" y1="374.9" x2="491.4" y2="374.9" stroke="#3e7d7a" stroke-width="0.9"/>
<text transform="translate(484,377.9) scale(0.893,1)" font-size="9.2" text-anchor="end" fill="#3e7d7a">0.4</text>
<line x1="489.2" y1="393.8" x2="491.4" y2="393.8" stroke="#3e7d7a" stroke-width="0.9"/>
<text transform="translate(484,396.8) scale(0.893,1)" font-size="9.2" text-anchor="end" fill="#3e7d7a">0.2</text>
<line x1="489.2" y1="412.6" x2="491.4" y2="412.6" stroke="#3e7d7a" stroke-width="0.9"/>
<text transform="translate(484,415.6) scale(0.893,1)" font-size="9.2" text-anchor="end" fill="#3e7d7a">0.0</text>
<path d="M650.8,370.5 L650.8,413.4" stroke="#f0b05a" stroke-width="1.0" fill="none"/>
<line x1="650.8" y1="375.4" x2="653" y2="375.4" stroke="#f0b05a" stroke-width="0.9"/>
<text transform="translate(655.7,378.4) scale(0.893,1)" font-size="9" fill="#f0b05a">1.00</text>
<line x1="650.8" y1="394" x2="653" y2="394" stroke="#f0b05a" stroke-width="0.9"/>
<text transform="translate(655.7,397) scale(0.893,1)" font-size="9" fill="#f0b05a">0.75</text>
<line x1="650.8" y1="412.6" x2="653" y2="412.6" stroke="#f0b05a" stroke-width="0.9"/>
<text transform="translate(655.7,415.6) scale(0.893,1)" font-size="9" fill="#f0b05a">0.50</text>
<text transform="translate(492.5,368.4) scale(0.893,1)" font-size="7.8" fill="#333" textLength="107.7" lengthAdjust="spacingAndGlyphs">(((S, HR), <tspan font-style="italic">D. ciliaris</tspan>), <tspan font-style="italic">D. bicornis</tspan>)</text>
<text x="648" y="410.1" font-size="11.0" text-anchor="end" fill="#333" stroke="#333" stroke-width="0.16">HR</text>
<rect x="491.9" y="450" width="157.6" height="14.9" fill="#ececec"/>
<path d="M491.4,421.4 L491.4,464.2" stroke="#3e7d7a" stroke-width="1.0" fill="none"/>
<line x1="489.2" y1="425.8" x2="491.4" y2="425.8" stroke="#3e7d7a" stroke-width="0.9"/>
<text transform="translate(484,428.8) scale(0.893,1)" font-size="9.2" text-anchor="end" fill="#3e7d7a">0.4</text>
<line x1="489.2" y1="444.6" x2="491.4" y2="444.6" stroke="#3e7d7a" stroke-width="0.9"/>
<text transform="translate(484,447.6) scale(0.893,1)" font-size="9.2" text-anchor="end" fill="#3e7d7a">0.2</text>
<line x1="489.2" y1="463.4" x2="491.4" y2="463.4" stroke="#3e7d7a" stroke-width="0.9"/>
<text transform="translate(484,466.4) scale(0.893,1)" font-size="9.2" text-anchor="end" fill="#3e7d7a">0.0</text>
<path d="M650.8,421.4 L650.8,464.2" stroke="#f0b05a" stroke-width="1.0" fill="none"/>
<line x1="650.8" y1="426.3" x2="653" y2="426.3" stroke="#f0b05a" stroke-width="0.9"/>
<text transform="translate(655.7,429.3) scale(0.893,1)" font-size="9" fill="#f0b05a">1.00</text>
<line x1="650.8" y1="444.9" x2="653" y2="444.9" stroke="#f0b05a" stroke-width="0.9"/>
<text transform="translate(655.7,447.9) scale(0.893,1)" font-size="9" fill="#f0b05a">0.75</text>
<line x1="650.8" y1="463.4" x2="653" y2="463.4" stroke="#f0b05a" stroke-width="0.9"/>
<text transform="translate(655.7,466.4) scale(0.893,1)" font-size="9" fill="#f0b05a">0.50</text>
<text transform="translate(492.5,422.6) scale(0.893,1)" font-size="7.8" fill="#333" textLength="107.7" lengthAdjust="spacingAndGlyphs">(((S, MR), <tspan font-style="italic">D. ciliaris</tspan>), <tspan font-style="italic">D. bicornis</tspan>)</text>
<text x="648" y="460.9" font-size="11.0" text-anchor="end" fill="#333" stroke="#333" stroke-width="0.16">MR</text>
<rect x="491.9" y="505.9" width="157.6" height="10.4" fill="#ececec"/>
<path d="M491.4,472.2 L491.4,515.6" stroke="#3e7d7a" stroke-width="1.0" fill="none"/>
<line x1="489.2" y1="476.6" x2="491.4" y2="476.6" stroke="#3e7d7a" stroke-width="0.9"/>
<text transform="translate(484,479.6) scale(0.893,1)" font-size="9.2" text-anchor="end" fill="#3e7d7a">0.4</text>
<line x1="489.2" y1="495.7" x2="491.4" y2="495.7" stroke="#3e7d7a" stroke-width="0.9"/>
<text transform="translate(484,498.7) scale(0.893,1)" font-size="9.2" text-anchor="end" fill="#3e7d7a">0.2</text>
<line x1="489.2" y1="514.8" x2="491.4" y2="514.8" stroke="#3e7d7a" stroke-width="0.9"/>
<text transform="translate(484,517.8) scale(0.893,1)" font-size="9.2" text-anchor="end" fill="#3e7d7a">0.0</text>
<path d="M650.8,472.2 L650.8,515.6" stroke="#f0b05a" stroke-width="1.0" fill="none"/>
<line x1="650.8" y1="477.1" x2="653" y2="477.1" stroke="#f0b05a" stroke-width="0.9"/>
<text transform="translate(655.7,480.1) scale(0.893,1)" font-size="9" fill="#f0b05a">1.00</text>
<line x1="650.8" y1="495.9" x2="653" y2="495.9" stroke="#f0b05a" stroke-width="0.9"/>
<text transform="translate(655.7,498.9) scale(0.893,1)" font-size="9" fill="#f0b05a">0.75</text>
<line x1="650.8" y1="514.8" x2="653" y2="514.8" stroke="#f0b05a" stroke-width="0.9"/>
<text transform="translate(655.7,517.8) scale(0.893,1)" font-size="9" fill="#f0b05a">0.50</text>
<text transform="translate(492.5,476.6) scale(0.893,1)" font-size="7.8" fill="#333" textLength="107.7" lengthAdjust="spacingAndGlyphs">(((S, LR), <tspan font-style="italic">D. ciliaris</tspan>), <tspan font-style="italic">D. bicornis</tspan>)</text>
<text x="648" y="512.3" font-size="11.0" text-anchor="end" fill="#333" stroke="#333" stroke-width="0.16">LR</text>
<text transform="translate(464.9,451.2) rotate(-90)" font-size="11" fill="#3e7d7a"><tspan font-style="italic">f</tspan><tspan font-size="6" dy="3.3" font-style="italic">d</tspan></text>
<text transform="translate(677.2,441.6) rotate(90)" font-size="11" fill="#f0b05a"><tspan font-style="italic">F</tspan><tspan font-size="6" dy="3.3" font-style="italic">ST</tspan></text>
<text transform="translate(485.1,527.4) scale(0.893,1)" font-size="8.7" fill="#333">33.7</text>
<text transform="translate(630.7,527.4) scale(0.893,1)" font-size="8.7" fill="#333">34.2 (Mb)</text>
<line x1="577.7" y1="388.5" x2="577.7" y2="516.5" stroke="#6d6d6d" stroke-width="1.1" stroke-dasharray="3.6,3"/>
<path d="M493.5,397.2 C493.9,397.6 494.8,398.8 495.9,399.4 C496.9,400.0 498.5,400.8 499.8,400.8 C501.1,400.8 502.3,400.3 503.8,399.4 C505.3,398.5 507.7,395.7 509.0,395.5 C510.3,395.3 510.9,395.5 511.7,398.1 C512.5,400.7 513.0,409.1 513.6,411.3 C514.2,413.5 514.8,412.1 515.6,411.3 C516.4,410.5 517.1,407.7 518.2,406.7 C519.3,405.7 520.8,405.9 522.2,405.4 C523.6,404.8 525.7,402.4 526.8,403.4 C527.9,404.4 527.9,410.0 528.7,411.3 C529.5,412.6 530.3,411.1 531.4,411.3 C532.5,411.5 534.2,412.1 535.3,412.6 C536.4,413.2 536.8,414.7 537.9,414.6 C539.0,414.5 540.8,411.8 541.9,412.0 C543.0,412.2 543.4,415.6 544.5,415.9 C545.6,416.2 547.1,414.4 548.4,413.9 C549.7,413.3 551.3,412.9 552.4,412.6 C553.5,412.3 554.4,414.1 555.0,412.0 C555.6,409.9 555.8,404.5 556.3,400.1 C556.8,395.7 557.8,387.7 558.3,385.7 C558.8,383.7 559.2,386.9 559.6,388.3 C560.0,389.7 560.5,390.2 560.9,394.2 C561.3,398.1 561.5,408.9 562.2,412.0 C562.9,415.1 563.9,412.6 565.3,412.6 C566.7,412.6 569.2,411.6 570.5,411.9 C571.8,412.2 572.0,414.3 573.1,414.6 C574.2,414.9 576.0,414.7 577.1,413.9 C578.2,413.1 578.9,410.2 579.7,410.0 C580.5,409.8 580.7,412.3 581.7,412.6 C582.7,412.9 584.7,412.2 585.6,411.9 C586.5,411.6 586.5,413.5 586.9,410.6 C587.3,407.8 587.8,398.2 588.2,394.8 C588.7,391.4 588.7,391.2 589.6,390.2 C590.5,389.2 592.4,390.2 593.5,388.9 C594.6,387.6 595.2,384.1 596.1,382.4 C597.0,380.6 597.8,378.9 598.8,378.4 C599.8,377.8 600.9,378.6 602.0,379.1 C603.1,379.6 603.9,381.9 605.3,381.4 C606.7,380.8 609.2,376.5 610.6,375.8 C612.0,375.1 612.8,376.2 613.9,377.1 C615.0,378.0 616.2,380.9 617.2,381.1 C618.2,381.3 618.8,378.4 619.8,378.4 C620.8,378.4 621.8,380.1 623.1,381.1 C624.4,382.1 626.0,384.5 627.7,384.6 C629.5,384.7 631.5,382.7 633.6,381.7 C635.7,380.7 638.6,378.7 640.1,378.4 C641.6,378.1 641.8,378.7 642.8,379.7 C643.8,380.7 645.5,383.5 646.1,384.3" stroke="#f0b05a" stroke-width="0.9" fill="none"/>
<path d="M493.3,439.7 C493.8,440.0 495.2,441.4 496.5,441.4 C497.8,441.4 499.0,440.3 501.1,439.7 C503.2,439.1 506.9,437.1 509.0,438.0 C511.1,438.9 512.3,443.7 513.6,444.9 C514.9,446.1 516.0,446.3 516.9,445.3 C517.8,444.3 517.9,439.8 518.9,439.0 C519.9,438.2 521.4,440.3 522.8,440.3 C524.2,440.3 525.8,439.2 527.4,438.8 C529.0,438.4 531.3,438.0 532.7,438.0 C534.1,438.0 534.8,438.5 536.0,439.0 C537.2,439.5 538.8,441.0 539.9,441.0 C541.0,441.0 541.7,438.2 542.5,439.0 C543.3,439.8 543.3,444.4 544.5,445.6 C545.7,446.8 548.4,446.4 549.8,446.2 C551.2,446.0 551.9,445.3 553.0,444.3 C554.1,443.3 555.2,441.0 556.3,440.3 C557.4,439.6 558.5,439.6 559.6,440.3 C560.7,441.0 561.5,443.6 562.9,444.3 C564.3,445.0 566.2,444.1 567.9,444.3 C569.6,444.5 571.7,445.6 573.1,445.6 C574.5,445.6 575.6,445.4 576.4,444.3 C577.2,443.2 576.9,440.1 577.7,439.0 C578.5,437.9 579.6,437.3 581.0,437.4 C582.4,437.5 585.0,440.1 586.3,439.7 C587.6,439.3 587.9,435.5 588.9,435.1 C589.9,434.7 591.0,438.1 592.2,437.1 C593.4,436.1 594.5,430.5 596.1,429.2 C597.7,427.9 600.6,428.9 602.0,429.2 C603.4,429.4 603.4,430.7 604.7,430.7 C606.0,430.7 608.4,429.6 609.9,429.2 C611.4,428.8 612.6,428.4 613.9,428.5 C615.2,428.6 616.6,430.1 617.8,430.1 C619.0,430.1 619.7,428.4 621.1,428.5 C622.5,428.6 623.9,430.9 626.4,430.7 C628.9,430.5 633.9,427.9 636.2,427.5 C638.5,427.1 638.6,427.3 640.1,428.2 C641.6,429.1 644.5,431.9 645.4,432.7" stroke="#f0b05a" stroke-width="0.9" fill="none"/>
<path d="M493.3,484.5 C494.1,484.9 496.4,486.8 497.9,486.8 C499.4,486.8 500.6,485.1 502.5,484.5 C504.4,483.9 507.1,482.1 509.0,482.9 C510.9,483.7 512.4,487.4 513.6,489.1 C514.8,490.8 515.3,493.8 516.2,493.0 C517.1,492.2 517.8,485.8 518.9,484.5 C520.0,483.2 521.4,485.7 522.8,485.5 C524.2,485.3 525.8,483.8 527.4,483.4 C529.0,483.0 530.6,482.9 532.7,483.4 C534.8,483.9 538.3,486.5 539.9,486.4 C541.5,486.2 541.6,482.6 542.5,482.5 C543.4,482.4 543.5,485.3 545.2,485.8 C547.0,486.3 551.1,484.6 553.0,485.5 C554.9,486.4 555.3,489.1 556.3,491.0 C557.3,492.9 558.2,496.6 559.0,496.9 C559.8,497.2 560.2,495.2 560.9,493.0 C561.5,490.8 561.3,485.4 562.9,483.8 C564.5,482.2 568.7,482.8 570.5,483.1 C572.3,483.4 572.6,485.5 573.8,485.5 C575.0,485.5 575.6,483.3 577.7,483.1 C579.8,482.9 584.5,484.6 586.3,484.5 C588.0,484.4 587.1,482.9 588.2,482.5 C589.3,482.1 590.9,482.3 592.8,481.8 C594.7,481.3 597.4,479.8 599.4,479.5 C601.4,479.2 603.0,480.1 604.7,480.2 C606.5,480.3 608.4,480.0 609.9,479.9 C611.4,479.8 612.6,479.4 613.9,479.5 C615.2,479.6 616.7,480.6 617.8,480.5 C618.9,480.4 619.1,478.6 620.4,478.9 C621.7,479.2 622.9,482.1 625.7,482.1 C628.6,482.2 634.9,479.6 637.5,479.2 C640.1,478.8 640.2,479.2 641.5,479.9 C642.8,480.5 644.8,482.6 645.4,483.1" stroke="#f0b05a" stroke-width="0.9" fill="none"/>
<path d="M493.5,403.8 C494.1,404.9 496.1,409.0 497.2,410.6 C498.2,412.2 498.5,412.6 499.8,413.2 C501.1,413.8 503.8,414.3 505.1,413.9 C506.4,413.5 506.7,412.2 507.7,410.6 C508.7,409.0 509.9,406.3 511.0,404.0 C512.1,401.7 513.3,398.7 514.3,396.8 C515.3,394.9 516.0,393.4 516.9,392.9 C517.8,392.3 518.4,393.7 519.5,393.5 C520.6,393.3 522.2,392.7 523.5,391.6 C524.8,390.5 526.3,389.0 527.4,387.0 C528.5,385.0 529.1,381.2 530.0,379.7 C530.9,378.2 531.8,377.9 532.7,377.8 C533.6,377.7 534.2,379.0 535.3,379.1 C536.4,379.2 538.1,378.4 539.2,378.4 C540.3,378.4 541.0,378.7 541.9,379.1 C542.8,379.6 543.5,380.6 544.5,381.1 C545.5,381.7 546.9,381.4 547.8,382.4 C548.7,383.4 549.2,384.9 549.8,387.0 C550.3,389.1 550.7,391.7 551.1,394.8 C551.5,397.9 552.0,402.2 552.4,405.4 C552.8,408.6 552.8,412.4 553.4,413.9 C554.0,415.4 554.9,414.3 556.3,414.3 C557.7,414.3 560.5,416.3 561.6,413.9 C562.7,411.5 562.0,402.7 562.6,400.1 C563.2,397.5 564.3,396.9 565.3,398.1 C566.3,399.3 567.6,407.6 568.5,407.3 C569.4,407.0 569.8,400.9 570.5,396.2 C571.2,391.5 572.0,382.9 572.5,379.1 C573.0,375.3 573.4,374.0 573.8,373.2 C574.2,372.4 574.5,373.7 575.1,374.5 C575.7,375.3 576.4,376.4 577.1,377.8 C577.8,379.2 578.5,381.1 579.1,383.0 C579.8,384.9 580.5,388.3 581.0,388.9 C581.5,389.4 581.6,387.5 582.3,386.3 C583.0,385.1 584.3,381.9 585.0,381.7 C585.7,381.5 585.8,382.8 586.3,385.0 C586.8,387.2 587.3,391.2 587.9,394.8 C588.5,398.4 588.7,404.4 589.6,406.7 C590.5,409.0 592.3,407.7 593.5,408.6 C594.7,409.5 595.8,411.1 596.8,411.9 C597.8,412.7 591.3,413.3 599.4,413.6 C607.5,413.9 637.7,413.6 645.4,413.6" stroke="#3e7d7a" stroke-width="1.1" fill="none"/>
<path d="M493.3,462.0 C494.2,462.4 496.5,464.2 498.5,464.6 C500.5,465.0 502.9,464.8 505.1,464.6 C507.3,464.4 509.7,463.8 511.7,463.3 C513.7,462.8 514.9,462.0 516.9,461.4 C518.9,460.8 521.3,460.0 523.5,459.8 C525.7,459.6 528.0,460.3 530.0,460.3 C532.0,460.3 533.3,460.1 535.3,460.0 C537.3,459.9 539.9,460.8 541.9,459.8 C543.9,458.8 545.8,454.5 547.1,454.1 C548.4,453.7 548.9,455.8 549.8,457.4 C550.7,459.0 551.5,462.7 552.4,464.0 C553.3,465.3 553.6,464.9 555.0,465.0 C556.4,465.1 559.3,465.4 560.9,464.6 C562.5,463.8 563.4,460.2 564.6,460.0 C565.8,459.8 566.6,464.1 567.9,463.3 C569.2,462.5 571.3,456.2 572.5,455.0 C573.7,453.8 574.1,455.3 575.1,456.1 C576.1,456.9 577.2,459.4 578.4,460.0 C579.6,460.6 581.3,459.9 582.3,460.0 C583.3,460.1 583.4,460.0 584.3,460.7 C585.2,461.4 586.6,463.3 587.6,464.0 C588.6,464.7 580.6,464.8 590.2,465.0 C599.8,465.2 636.2,465.0 645.4,465.0" stroke="#3e7d7a" stroke-width="1.1" fill="none"/>
<path d="M493.3,516.0 C504.4,516.0 546.0,516.1 560.0,516.0 C574.0,515.9 562.8,515.6 577.0,515.6 C591.2,515.6 634.0,515.9 645.4,516.0" stroke="#3e7d7a" stroke-width="1.1" fill="none"/>
<circle cx="493.5" cy="397.2" r="1.3" fill="#f0a84a"/>
<circle cx="495.9" cy="399.4" r="1.3" fill="#f0a84a"/>
<circle cx="499.8" cy="400.8" r="1.3" fill="#f0a84a"/>
<circle cx="503.8" cy="399.4" r="1.3" fill="#f0a84a"/>
<circle cx="509" cy="395.5" r="1.3" fill="#f0a84a"/>
<circle cx="511.7" cy="398.1" r="1.3" fill="#f0a84a"/>
<circle cx="513.6" cy="411.3" r="1.3" fill="#f0a84a"/>
<circle cx="515.6" cy="411.3" r="1.3" fill="#f0a84a"/>
<circle cx="518.2" cy="406.7" r="1.3" fill="#f0a84a"/>
<circle cx="522.2" cy="405.4" r="1.3" fill="#f0a84a"/>
<circle cx="526.8" cy="403.4" r="1.3" fill="#f0a84a"/>
<circle cx="528.7" cy="411.3" r="1.3" fill="#f0a84a"/>
<circle cx="531.4" cy="411.3" r="1.3" fill="#f0a84a"/>
<circle cx="535.3" cy="412.6" r="1.3" fill="#f0a84a"/>
<circle cx="537.9" cy="414.6" r="1.3" fill="#f0a84a"/>
<circle cx="541.9" cy="412" r="1.3" fill="#f0a84a"/>
<circle cx="544.5" cy="415.9" r="1.3" fill="#f0a84a"/>
<circle cx="548.4" cy="413.9" r="1.3" fill="#f0a84a"/>
<circle cx="552.4" cy="412.6" r="1.3" fill="#f0a84a"/>
<circle cx="555" cy="412" r="1.3" fill="#f0a84a"/>
<circle cx="556.3" cy="400.1" r="1.3" fill="#f0a84a"/>
<circle cx="558.3" cy="385.7" r="1.3" fill="#f0a84a"/>
<circle cx="559.6" cy="388.3" r="1.3" fill="#f0a84a"/>
<circle cx="560.9" cy="394.2" r="1.3" fill="#f0a84a"/>
<circle cx="562.2" cy="412" r="1.3" fill="#f0a84a"/>
<circle cx="565.3" cy="412.6" r="1.3" fill="#f0a84a"/>
<circle cx="570.5" cy="411.9" r="1.3" fill="#f0a84a"/>
<circle cx="573.1" cy="414.6" r="1.3" fill="#f0a84a"/>
<circle cx="577.1" cy="413.9" r="1.3" fill="#f0a84a"/>
<circle cx="579.7" cy="410" r="1.3" fill="#f0a84a"/>
<circle cx="581.7" cy="412.6" r="1.3" fill="#f0a84a"/>
<circle cx="585.6" cy="411.9" r="1.3" fill="#f0a84a"/>
<circle cx="586.9" cy="410.6" r="1.3" fill="#f0a84a"/>
<circle cx="588.2" cy="394.8" r="1.3" fill="#f0a84a"/>
<circle cx="589.6" cy="390.2" r="1.3" fill="#f0a84a"/>
<circle cx="593.5" cy="388.9" r="1.2" fill="#c9bfa8"/>
<circle cx="596.1" cy="382.4" r="1.2" fill="#c9bfa8"/>
<circle cx="598.8" cy="378.4" r="1.2" fill="#c9bfa8"/>
<circle cx="602" cy="379.1" r="1.2" fill="#c9bfa8"/>
<circle cx="605.3" cy="381.4" r="1.2" fill="#c9bfa8"/>
<circle cx="610.6" cy="375.8" r="1.2" fill="#c9bfa8"/>
<circle cx="613.9" cy="377.1" r="1.2" fill="#c9bfa8"/>
<circle cx="617.2" cy="381.1" r="1.2" fill="#c9bfa8"/>
<circle cx="619.8" cy="378.4" r="1.2" fill="#c9bfa8"/>
<circle cx="623.1" cy="381.1" r="1.2" fill="#c9bfa8"/>
<circle cx="627.7" cy="384.6" r="1.2" fill="#c9bfa8"/>
<circle cx="633.6" cy="381.7" r="1.2" fill="#c9bfa8"/>
<circle cx="640.1" cy="378.4" r="1.2" fill="#c9bfa8"/>
<circle cx="642.8" cy="379.7" r="1.2" fill="#c9bfa8"/>
<circle cx="646.1" cy="384.3" r="1.2" fill="#c9bfa8"/>
<circle cx="493.3" cy="439.7" r="1.3" fill="#f0a84a"/>
<circle cx="496.5" cy="441.4" r="1.3" fill="#f0a84a"/>
<circle cx="501.1" cy="439.7" r="1.3" fill="#f0a84a"/>
<circle cx="509" cy="438" r="1.3" fill="#f0a84a"/>
<circle cx="513.6" cy="444.9" r="1.3" fill="#f0a84a"/>
<circle cx="516.9" cy="445.3" r="1.3" fill="#f0a84a"/>
<circle cx="518.9" cy="439" r="1.3" fill="#f0a84a"/>
<circle cx="522.8" cy="440.3" r="1.3" fill="#f0a84a"/>
<circle cx="527.4" cy="438.8" r="1.3" fill="#f0a84a"/>
<circle cx="532.7" cy="438" r="1.3" fill="#f0a84a"/>
<circle cx="536" cy="439" r="1.3" fill="#f0a84a"/>
<circle cx="539.9" cy="441" r="1.3" fill="#f0a84a"/>
<circle cx="542.5" cy="439" r="1.3" fill="#f0a84a"/>
<circle cx="544.5" cy="445.6" r="1.3" fill="#f0a84a"/>
<circle cx="549.8" cy="446.2" r="1.3" fill="#f0a84a"/>
<circle cx="553" cy="444.3" r="1.3" fill="#f0a84a"/>
<circle cx="556.3" cy="440.3" r="1.3" fill="#f0a84a"/>
<circle cx="559.6" cy="440.3" r="1.3" fill="#f0a84a"/>
<circle cx="562.9" cy="444.3" r="1.3" fill="#f0a84a"/>
<circle cx="567.9" cy="444.3" r="1.3" fill="#f0a84a"/>
<circle cx="573.1" cy="445.6" r="1.3" fill="#f0a84a"/>
<circle cx="576.4" cy="444.3" r="1.3" fill="#f0a84a"/>
<circle cx="577.7" cy="439" r="1.3" fill="#f0a84a"/>
<circle cx="581" cy="437.4" r="1.3" fill="#f0a84a"/>
<circle cx="586.3" cy="439.7" r="1.3" fill="#f0a84a"/>
<circle cx="588.9" cy="435.1" r="1.3" fill="#f0a84a"/>
<circle cx="592.2" cy="437.1" r="1.2" fill="#c9bfa8"/>
<circle cx="596.1" cy="429.2" r="1.2" fill="#c9bfa8"/>
<circle cx="602" cy="429.2" r="1.2" fill="#c9bfa8"/>
<circle cx="604.7" cy="430.7" r="1.2" fill="#c9bfa8"/>
<circle cx="609.9" cy="429.2" r="1.2" fill="#c9bfa8"/>
<circle cx="613.9" cy="428.5" r="1.2" fill="#c9bfa8"/>
<circle cx="617.8" cy="430.1" r="1.2" fill="#c9bfa8"/>
<circle cx="621.1" cy="428.5" r="1.2" fill="#c9bfa8"/>
<circle cx="626.4" cy="430.7" r="1.2" fill="#c9bfa8"/>
<circle cx="636.2" cy="427.5" r="1.2" fill="#c9bfa8"/>
<circle cx="640.1" cy="428.2" r="1.2" fill="#c9bfa8"/>
<circle cx="645.4" cy="432.7" r="1.2" fill="#c9bfa8"/>
<circle cx="493.3" cy="484.5" r="1.2" fill="#c9bfa8"/>
<circle cx="497.9" cy="486.8" r="1.2" fill="#c9bfa8"/>
<circle cx="502.5" cy="484.5" r="1.2" fill="#c9bfa8"/>
<circle cx="509" cy="482.9" r="1.2" fill="#c9bfa8"/>
<circle cx="513.6" cy="489.1" r="1.4" fill="#f0a84a"/>
<circle cx="516.2" cy="493" r="1.4" fill="#f0a84a"/>
<circle cx="518.9" cy="484.5" r="1.2" fill="#c9bfa8"/>
<circle cx="522.8" cy="485.5" r="1.2" fill="#c9bfa8"/>
<circle cx="527.4" cy="483.4" r="1.2" fill="#c9bfa8"/>
<circle cx="532.7" cy="483.4" r="1.2" fill="#c9bfa8"/>
<circle cx="539.9" cy="486.4" r="1.2" fill="#c9bfa8"/>
<circle cx="542.5" cy="482.5" r="1.2" fill="#c9bfa8"/>
<circle cx="545.2" cy="485.8" r="1.2" fill="#c9bfa8"/>
<circle cx="553" cy="485.5" r="1.2" fill="#c9bfa8"/>
<circle cx="556.3" cy="491" r="1.4" fill="#f0a84a"/>
<circle cx="559" cy="496.9" r="1.4" fill="#f0a84a"/>
<circle cx="560.9" cy="493" r="1.4" fill="#f0a84a"/>
<circle cx="562.9" cy="483.8" r="1.2" fill="#c9bfa8"/>
<circle cx="570.5" cy="483.1" r="1.2" fill="#c9bfa8"/>
<circle cx="573.8" cy="485.5" r="1.2" fill="#c9bfa8"/>
<circle cx="577.7" cy="483.1" r="1.2" fill="#c9bfa8"/>
<circle cx="586.3" cy="484.5" r="1.2" fill="#c9bfa8"/>
<circle cx="588.2" cy="482.5" r="1.2" fill="#c9bfa8"/>
<circle cx="592.8" cy="481.8" r="1.2" fill="#c9bfa8"/>
<circle cx="599.4" cy="479.5" r="1.2" fill="#c9bfa8"/>
<circle cx="604.7" cy="480.2" r="1.2" fill="#c9bfa8"/>
<circle cx="609.9" cy="479.9" r="1.2" fill="#c9bfa8"/>
<circle cx="613.9" cy="479.5" r="1.2" fill="#c9bfa8"/>
<circle cx="617.8" cy="480.5" r="1.2" fill="#c9bfa8"/>
<circle cx="620.4" cy="478.9" r="1.2" fill="#c9bfa8"/>
<circle cx="625.7" cy="482.1" r="1.2" fill="#c9bfa8"/>
<circle cx="637.5" cy="479.2" r="1.2" fill="#c9bfa8"/>
<circle cx="641.5" cy="479.9" r="1.2" fill="#c9bfa8"/>
<circle cx="645.4" cy="483.1" r="1.2" fill="#c9bfa8"/>
<circle cx="495.9" cy="411.5" r="1.1" fill="#b9b9b9"/>
<circle cx="509" cy="404.5" r="1.1" fill="#b9b9b9"/>
<circle cx="515.6" cy="392.6" r="1.1" fill="#b9b9b9"/>
<circle cx="520.2" cy="393.2" r="1.1" fill="#b9b9b9"/>
<circle cx="523.5" cy="391.2" r="1.1" fill="#b9b9b9"/>
<circle cx="512" cy="400" r="1.1" fill="#b9b9b9"/>
<circle cx="600" cy="413.6" r="1.1" fill="#b9b9b9"/>
<circle cx="555" cy="463.8" r="1.1" fill="#b9b9b9"/>
<circle cx="561" cy="463.6" r="1.1" fill="#b9b9b9"/>
<circle cx="566" cy="455.2" r="1.1" fill="#b9b9b9"/>
<circle cx="574" cy="455.8" r="1.1" fill="#b9b9b9"/>
<circle cx="505" cy="464.2" r="1.1" fill="#b9b9b9"/>
<circle cx="520" cy="460" r="1.1" fill="#b9b9b9"/>
<circle cx="529" cy="460.5" r="1.1" fill="#b9b9b9"/>
<circle cx="527.4" cy="386.5" r="1.7" fill="#1f5a55"/>
<circle cx="529.5" cy="382" r="1.7" fill="#1f5a55"/>
<circle cx="530.5" cy="377.5" r="1.7" fill="#1f5a55"/>
<circle cx="532.7" cy="375.5" r="1.7" fill="#1f5a55"/>
<circle cx="533.5" cy="380.5" r="1.7" fill="#1f5a55"/>
<circle cx="535.3" cy="378.4" r="1.7" fill="#1f5a55"/>
<circle cx="537" cy="381.5" r="1.7" fill="#1f5a55"/>
<circle cx="538.5" cy="377.5" r="1.7" fill="#1f5a55"/>
<circle cx="540" cy="379.5" r="1.7" fill="#1f5a55"/>
<circle cx="541.5" cy="377" r="1.7" fill="#1f5a55"/>
<circle cx="542.3" cy="381.5" r="1.7" fill="#1f5a55"/>
<circle cx="544" cy="383.5" r="1.7" fill="#1f5a55"/>
<circle cx="545.5" cy="380" r="1.7" fill="#1f5a55"/>
<circle cx="546.8" cy="382.6" r="1.7" fill="#1f5a55"/>
<circle cx="547.5" cy="375.3" r="1.7" fill="#1f5a55"/>
<circle cx="548.5" cy="384.5" r="1.7" fill="#1f5a55"/>
<circle cx="564.6" cy="383" r="1.7" fill="#1f5a55"/>
<circle cx="566" cy="383.3" r="1.7" fill="#1f5a55"/>
<circle cx="569.9" cy="379.1" r="1.7" fill="#1f5a55"/>
<circle cx="571.8" cy="378.4" r="1.7" fill="#1f5a55"/>
<circle cx="573.8" cy="371.9" r="1.7" fill="#1f5a55"/>
<circle cx="574.5" cy="375.6" r="1.7" fill="#1f5a55"/>
<circle cx="575.1" cy="375.1" r="1.7" fill="#1f5a55"/>
<circle cx="576.4" cy="379.7" r="1.7" fill="#1f5a55"/>
<circle cx="578.4" cy="380.4" r="1.7" fill="#1f5a55"/>
<circle cx="581.7" cy="383.7" r="1.7" fill="#1f5a55"/>
<circle cx="583.7" cy="381.7" r="1.7" fill="#1f5a55"/>
<circle cx="585.6" cy="379.7" r="1.7" fill="#1f5a55"/>
<circle cx="536" cy="382.8" r="1.7" fill="#1f5a55"/>
<circle cx="539" cy="382.5" r="1.7" fill="#1f5a55"/>
<polygon points="116,380.7 146.8,380.7 146.8,413.5 182,508.6 164.1,508.6 132.5,416.1 121.7,434.1 147.4,508.6 119.6,508.6 112.7,468.8 102.4,508.6 65.1,508.6 116,416.1" fill="#e2e2e2"/>
<line x1="63" y1="380.7" x2="131" y2="380.7" stroke="#7a7a7a" stroke-width="0.8" stroke-dasharray="4,3.2"/>
<line x1="63" y1="442.4" x2="113" y2="442.4" stroke="#7a7a7a" stroke-width="0.8" stroke-dasharray="4,3.2"/>
<line x1="63" y1="468.6" x2="113" y2="468.6" stroke="#7a7a7a" stroke-width="0.8" stroke-dasharray="4,3.2"/>
<line x1="63" y1="501.3" x2="74" y2="501.3" stroke="#7a7a7a" stroke-width="0.8" stroke-dasharray="4,3.2"/>
<text transform="translate(26.4,382.9) scale(0.893,1)" font-size="9">0.209369</text>
<text transform="translate(26.4,444.5) scale(0.893,1)" font-size="9">0.002700</text>
<text transform="translate(26.4,470.8) scale(0.893,1)" font-size="9" fill="#999">0.002010</text>
<text transform="translate(26.4,503.5) scale(0.893,1)" font-size="9">0.000056</text>
<text x="27.6" y="371.9" font-size="10.45" stroke="#231f20" stroke-width="0.16">Relative divergence times</text>
<path d="M131.4,380.7 L171,493.7" stroke="#231f20" stroke-width="0.9" fill="none"/>
<path d="M131.4,380.7 L114.7,443.1 L134.5,500.9" stroke="#231f20" stroke-width="0.9" fill="none"/>
<path d="M114.7,443.1 L90.8,479.1 L79.3,490.1" stroke="#231f20" stroke-width="0.9" fill="none"/>
<polygon points="79.3,490.1 74.6,505.3 84.4,505.3" fill="none" stroke="#231f20" stroke-width="0.9" stroke-linejoin="miter"/>
<polygon points="93.9,501.4 89.3,505.3 98.6,505.3" fill="none" stroke="#231f20" stroke-width="0.9" stroke-linejoin="miter"/>
<polygon points="134.5,500.9 128.1,505.3 141.7,505.3" fill="none" stroke="#231f20" stroke-width="0.9" stroke-linejoin="miter"/>
<polygon points="171,493.7 165.3,505.3 176.9,505.3" fill="none" stroke="#231f20" stroke-width="0.9" stroke-linejoin="miter"/>
<line x1="98.8" y1="501.3" x2="129.5" y2="501.3" stroke="#f0a878" stroke-width="0.9" stroke-dasharray="2.6,2"/>
<text transform="translate(105.7,497.8) scale(0.893,1)" font-size="9" fill="#333">φ = 0.3</text>
<text transform="translate(79.3,516.9) scale(0.893,1)" font-size="8.5" text-anchor="middle" fill="#333">S</text>
<text transform="translate(94.6,516.9) scale(0.893,1)" font-size="8.5" text-anchor="middle" fill="#333">R</text>
<text x="46.5" y="528.5" font-size="10.4" font-style="italic" fill="#e3715e" stroke="#e3715e" stroke-width="0.16">D. sanguinalis</text>
<text x="113.6" y="541" font-size="10.4" font-style="italic" fill="#eba07a" stroke="#eba07a" stroke-width="0.16">D. ciliaris</text>
<text x="161.3" y="528.5" font-size="10.4" font-style="italic" fill="#3b9a8c" stroke="#3b9a8c" stroke-width="0.16">D. bicornis</text>
<ellipse cx="393" cy="454" rx="42.6" ry="90" fill="#fdf0e9"/>
<circle cx="234.3" cy="384" r="3.9" fill="#e0634f"/>
<circle cx="234.3" cy="400.5" r="3.9" fill="#ee9a5a"/>
<text x="244.8" y="386.6" font-size="10.4" font-style="italic" fill="#333" stroke="#333" stroke-width="0.16">D. sanguinalis</text>
<text x="244.8" y="403.2" font-size="10.4" font-style="italic" fill="#333" stroke="#333" stroke-width="0.16">D. ciliaris</text>
<line x1="270" y1="495" x2="256.3" y2="464.9" stroke="#e2604e" stroke-width="0.5" stroke-opacity="0.85"/>
<line x1="270.2" y1="495.1" x2="258.8" y2="464.1" stroke="#e2604e" stroke-width="0.5" stroke-opacity="0.85"/>
<line x1="269.9" y1="496" x2="262.9" y2="471.5" stroke="#e2604e" stroke-width="0.5" stroke-opacity="0.85"/>
<line x1="270.7" y1="497.4" x2="260.5" y2="468" stroke="#e2604e" stroke-width="0.5" stroke-opacity="0.85"/>
<line x1="270.6" y1="495.4" x2="265" y2="474" stroke="#e2604e" stroke-width="0.5" stroke-opacity="0.85"/>
<line x1="270.3" y1="495.6" x2="269.5" y2="469.9" stroke="#e2604e" stroke-width="0.5" stroke-opacity="0.85"/>
<line x1="270" y1="495" x2="272.8" y2="476.5" stroke="#e2604e" stroke-width="0.5" stroke-opacity="0.85"/>
<line x1="270" y1="497.8" x2="271" y2="473" stroke="#e2604e" stroke-width="0.5" stroke-opacity="0.85"/>
<line x1="270.6" y1="497.4" x2="270.2" y2="480" stroke="#e2604e" stroke-width="0.5" stroke-opacity="0.85"/>
<line x1="270.6" y1="495.3" x2="277.8" y2="478.9" stroke="#e2604e" stroke-width="0.5" stroke-opacity="0.85"/>
<line x1="270.1" y1="496.8" x2="290.1" y2="469.9" stroke="#e2604e" stroke-width="0.5" stroke-opacity="0.85"/>
<line x1="270.5" y1="497.6" x2="284" y2="476" stroke="#e2604e" stroke-width="0.5" stroke-opacity="0.85"/>
<line x1="270.7" y1="494.9" x2="275.5" y2="483" stroke="#e2604e" stroke-width="0.5" stroke-opacity="0.85"/>
<line x1="270.4" y1="497" x2="232.4" y2="502.9" stroke="#e2604e" stroke-width="0.5" stroke-opacity="0.85"/>
<line x1="270.3" y1="495.2" x2="233.2" y2="504.5" stroke="#e2604e" stroke-width="0.5" stroke-opacity="0.85"/>
<line x1="270.3" y1="494.9" x2="253" y2="498.7" stroke="#e2604e" stroke-width="0.5" stroke-opacity="0.85"/>
<line x1="270.7" y1="497.6" x2="245" y2="500.5" stroke="#e2604e" stroke-width="0.5" stroke-opacity="0.85"/>
<line x1="270.3" y1="495.7" x2="240" y2="501" stroke="#e2604e" stroke-width="0.5" stroke-opacity="0.85"/>
<line x1="270.7" y1="496.6" x2="225.8" y2="535.9" stroke="#e2604e" stroke-width="0.5" stroke-opacity="0.85"/>
<line x1="270.7" y1="497.6" x2="234" y2="520.2" stroke="#e2604e" stroke-width="0.5" stroke-opacity="0.85"/>
<line x1="270.3" y1="496" x2="238" y2="516" stroke="#e2604e" stroke-width="0.5" stroke-opacity="0.85"/>
<line x1="270.4" y1="496.1" x2="230" y2="528" stroke="#e2604e" stroke-width="0.5" stroke-opacity="0.85"/>
<line x1="270" y1="495.7" x2="253" y2="528.4" stroke="#e2604e" stroke-width="0.5" stroke-opacity="0.85"/>
<line x1="270.6" y1="494.8" x2="258.8" y2="539.2" stroke="#e2604e" stroke-width="0.5" stroke-opacity="0.85"/>
<line x1="269.8" y1="496.8" x2="261.3" y2="524.3" stroke="#e2604e" stroke-width="0.5" stroke-opacity="0.85"/>
<line x1="270.1" y1="496.5" x2="250" y2="520" stroke="#e2604e" stroke-width="0.5" stroke-opacity="0.85"/>
<line x1="270.3" y1="495.8" x2="256" y2="533" stroke="#e2604e" stroke-width="0.5" stroke-opacity="0.85"/>
<line x1="270.8" y1="495.3" x2="279.4" y2="539.2" stroke="#e2604e" stroke-width="0.5" stroke-opacity="0.85"/>
<line x1="270.2" y1="495.3" x2="272.8" y2="521" stroke="#e2604e" stroke-width="0.5" stroke-opacity="0.85"/>
<line x1="270.4" y1="495.6" x2="276" y2="530" stroke="#e2604e" stroke-width="0.5" stroke-opacity="0.85"/>
<line x1="270.2" y1="497.2" x2="274" y2="536" stroke="#e2604e" stroke-width="0.5" stroke-opacity="0.85"/>
<line x1="270.1" y1="496.6" x2="303.3" y2="526" stroke="#e2604e" stroke-width="0.5" stroke-opacity="0.85"/>
<line x1="270.7" y1="495" x2="292.6" y2="521.8" stroke="#e2604e" stroke-width="0.5" stroke-opacity="0.85"/>
<line x1="269.9" y1="495.4" x2="284.4" y2="521" stroke="#e2604e" stroke-width="0.5" stroke-opacity="0.85"/>
<line x1="270.6" y1="496.8" x2="298" y2="523" stroke="#e2604e" stroke-width="0.5" stroke-opacity="0.85"/>
<line x1="270" y1="495.8" x2="289" y2="516" stroke="#e2604e" stroke-width="0.5" stroke-opacity="0.85"/>
<line x1="270" y1="496.2" x2="314.9" y2="502" stroke="#e2604e" stroke-width="0.5" stroke-opacity="0.85"/>
<line x1="269.8" y1="497" x2="306.6" y2="508.6" stroke="#e2604e" stroke-width="0.5" stroke-opacity="0.85"/>
<line x1="270.7" y1="497.9" x2="310" y2="505" stroke="#e2604e" stroke-width="0.5" stroke-opacity="0.85"/>
<line x1="270.5" y1="498" x2="300" y2="506" stroke="#e2604e" stroke-width="0.5" stroke-opacity="0.85"/>
<line x1="269.8" y1="495.6" x2="304" y2="511" stroke="#e2604e" stroke-width="0.5" stroke-opacity="0.85"/>
<line x1="270.8" y1="497.3" x2="296" y2="508" stroke="#e2604e" stroke-width="0.5" stroke-opacity="0.85"/>
<polygon points="270.3,494.6 253.8,488 257.1,483.1" fill="#e4e4e4" stroke="#555" stroke-width="0.5"/>
<line x1="270.3" y1="494.6" x2="298.4" y2="476.5" stroke="#444" stroke-width="0.7"/>
<line x1="270.3" y1="498.1" x2="263.2" y2="515.2" stroke="#555" stroke-width="0.6"/>
<path d="M299.5,476 L306,471.5 L312,466.5 L317,460 L322,454 L326,449 L330.4,443.6" stroke="#ee9a5a" stroke-width="4.4" fill="none" stroke-linecap="round" stroke-linejoin="round"/>
<path d="M309,469 L316,461.5 L321,456" stroke="#ee9a5a" stroke-width="6" fill="none" stroke-linecap="round"/>
<path d="M312,468.5 L318,467 L325.4,463.8" stroke="#ee9a5a" stroke-width="4.4" fill="none" stroke-linecap="round"/>
<circle cx="330.1" cy="444.8" r="2" fill="#e26a55"/>
<circle cx="324.7" cy="453.8" r="2" fill="#e26a55"/>
<circle cx="318.7" cy="459.8" r="3" fill="#e26a55"/>
<circle cx="324.2" cy="464.5" r="2.5" fill="#e26a55"/>
<circle cx="302.4" cy="476.5" r="2" fill="#e26a55"/>
<circle cx="314.5" cy="462.3" r="0.8" fill="#231f20"/>
<circle cx="318.1" cy="461.3" r="23.3" fill="none" stroke="#f0aa80" stroke-width="0.8" stroke-dasharray="4,3.2"/>
<line x1="318.1" y1="438" x2="320.5" y2="425" stroke="#f0aa80" stroke-width="0.8" stroke-dasharray="4,3.2"/>
<line x1="321.5" y1="420" x2="326.1" y2="407.3" stroke="#f0aa80" stroke-width="0.8" stroke-dasharray="4,3.2"/>
<line x1="316" y1="437.5" x2="321" y2="437.5" stroke="#f0aa80" stroke-width="0.8"/>
<line x1="318.6" y1="485.3" x2="340.4" y2="508.3" stroke="#f0aa80" stroke-width="0.8" stroke-dasharray="4,3.2"/>
<line x1="352.1" y1="397" x2="384.4" y2="378.9" stroke="#e46a57" stroke-width="0.9"/>
<line x1="347.1" y1="399.8" x2="352.1" y2="397.0" stroke="#231f20" stroke-width="0.7"/>
<line x1="353.9" y1="396" x2="369.1" y2="387.6" stroke="#f2a679" stroke-width="0.55"/>
<line x1="347.1" y1="399.8" x2="353.9" y2="396.0" stroke="#231f20" stroke-width="0.7"/>
<line x1="351.1" y1="398.5" x2="382.8" y2="381.7" stroke="#f5b995" stroke-width="0.55"/>
<line x1="356.8" y1="396.1" x2="358.6" y2="395.1" stroke="#f2a679" stroke-width="0.55"/>
<line x1="349.0" y1="400.0" x2="356.8" y2="396.1" stroke="#231f20" stroke-width="0.7"/>
<line x1="351.1" y1="399.1" x2="381.7" y2="383.6" stroke="#f2a679" stroke-width="0.55"/>
<line x1="349.3" y1="400.1" x2="351.1" y2="399.1" stroke="#231f20" stroke-width="0.7"/>
<line x1="351.7" y1="399.7" x2="384.2" y2="384.1" stroke="#f2a679" stroke-width="0.55"/>
<line x1="350.6" y1="400.3" x2="351.7" y2="399.7" stroke="#231f20" stroke-width="0.7"/>
<line x1="358.6" y1="397" x2="370.3" y2="391.5" stroke="#f2a679" stroke-width="0.55"/>
<line x1="351.4" y1="400.4" x2="358.6" y2="397.0" stroke="#231f20" stroke-width="0.7"/>
<line x1="353.9" y1="399.7" x2="394.4" y2="381.3" stroke="#f5b995" stroke-width="0.55"/>
<line x1="356.8" y1="399.4" x2="373.9" y2="392.1" stroke="#f2a679" stroke-width="0.55"/>
<line x1="353.5" y1="400.9" x2="356.8" y2="399.4" stroke="#231f20" stroke-width="0.7"/>
<line x1="356.1" y1="400.1" x2="366.9" y2="395.5" stroke="#f2a679" stroke-width="0.55"/>
<line x1="353.9" y1="401.0" x2="356.1" y2="400.1" stroke="#231f20" stroke-width="0.7"/>
<line x1="362.9" y1="399.5" x2="399.3" y2="386.1" stroke="#f5b995" stroke-width="0.55"/>
<line x1="358" y1="401.3" x2="392.2" y2="388.8" stroke="#f2a679" stroke-width="0.55"/>
<line x1="356.7" y1="401.8" x2="358.0" y2="401.3" stroke="#231f20" stroke-width="0.7"/>
<line x1="364.4" y1="399.1" x2="392.1" y2="389" stroke="#f5b995" stroke-width="0.55"/>
<line x1="365.1" y1="399.9" x2="390" y2="391.5" stroke="#f2a679" stroke-width="0.55"/>
<line x1="358.2" y1="402.3" x2="365.1" y2="399.9" stroke="#231f20" stroke-width="0.7"/>
<line x1="361.1" y1="402.5" x2="403.6" y2="389.1" stroke="#f2a679" stroke-width="0.55"/>
<line x1="359.7" y1="402.9" x2="361.1" y2="402.5" stroke="#231f20" stroke-width="0.7"/>
<line x1="362.7" y1="402.5" x2="399.8" y2="391.3" stroke="#f5b995" stroke-width="0.55"/>
<line x1="363.7" y1="402.6" x2="379.3" y2="398" stroke="#f2a679" stroke-width="0.55"/>
<line x1="360.8" y1="403.4" x2="363.7" y2="402.6" stroke="#231f20" stroke-width="0.7"/>
<line x1="364.7" y1="402.7" x2="403.4" y2="391.7" stroke="#f2a679" stroke-width="0.55"/>
<line x1="361.4" y1="403.7" x2="364.7" y2="402.7" stroke="#231f20" stroke-width="0.7"/>
<line x1="365.1" y1="402.9" x2="388.8" y2="396.3" stroke="#f5b995" stroke-width="0.55"/>
<line x1="365.1" y1="403" x2="401.2" y2="393.1" stroke="#f2a679" stroke-width="0.55"/>
<line x1="361.9" y1="403.9" x2="365.1" y2="403.0" stroke="#231f20" stroke-width="0.7"/>
<line x1="367.5" y1="402.7" x2="403.9" y2="392.9" stroke="#f5b995" stroke-width="0.55"/>
<line x1="364.5" y1="403.9" x2="387.9" y2="397.9" stroke="#f2a679" stroke-width="0.55"/>
<line x1="362.8" y1="404.4" x2="364.5" y2="403.9" stroke="#231f20" stroke-width="0.7"/>
<line x1="368.4" y1="403.5" x2="412.9" y2="392.5" stroke="#f5b995" stroke-width="0.55"/>
<line x1="373.4" y1="404.3" x2="393.9" y2="399.9" stroke="#f2a679" stroke-width="0.55"/>
<line x1="364.8" y1="406.1" x2="373.4" y2="404.3" stroke="#231f20" stroke-width="0.7"/>
<line x1="370.2" y1="405.5" x2="383.9" y2="402.7" stroke="#f5b995" stroke-width="0.55"/>
<line x1="366.7" y1="406.3" x2="393.4" y2="401.1" stroke="#f5b995" stroke-width="0.55"/>
<line x1="373.9" y1="405" x2="392.3" y2="401.4" stroke="#f5b995" stroke-width="0.55"/>
<line x1="369.4" y1="407.1" x2="405.3" y2="400.9" stroke="#f5b995" stroke-width="0.55"/>
<line x1="367.9" y1="407.6" x2="416.1" y2="399.4" stroke="#e46a57" stroke-width="0.9"/>
<line x1="366.1" y1="407.9" x2="367.9" y2="407.6" stroke="#231f20" stroke-width="0.7"/>
<line x1="373.5" y1="406.6" x2="390.3" y2="403.8" stroke="#e46a57" stroke-width="0.9"/>
<line x1="366.1" y1="407.9" x2="373.5" y2="406.6" stroke="#231f20" stroke-width="0.7"/>
<line x1="370.8" y1="407.5" x2="406.2" y2="401.7" stroke="#f2a679" stroke-width="0.55"/>
<line x1="366.3" y1="408.2" x2="370.8" y2="407.5" stroke="#231f20" stroke-width="0.7"/>
<line x1="367.5" y1="408.1" x2="386.5" y2="405.1" stroke="#e46a57" stroke-width="0.9"/>
<line x1="366.3" y1="408.3" x2="367.5" y2="408.1" stroke="#231f20" stroke-width="0.7"/>
<line x1="371.4" y1="408.6" x2="389.2" y2="406.1" stroke="#f5b995" stroke-width="0.55"/>
<line x1="371.6" y1="409.6" x2="391.9" y2="407.2" stroke="#f5b995" stroke-width="0.55"/>
<line x1="370.9" y1="410.9" x2="386.9" y2="409.4" stroke="#e8806c" stroke-width="0.55"/>
<line x1="372.7" y1="411" x2="404.5" y2="408.1" stroke="#f2a679" stroke-width="0.55"/>
<line x1="368.2" y1="411.4" x2="372.7" y2="411.0" stroke="#231f20" stroke-width="0.7"/>
<line x1="376.1" y1="411.5" x2="382.1" y2="411.1" stroke="#f2a679" stroke-width="0.55"/>
<line x1="368.6" y1="412.1" x2="376.1" y2="411.5" stroke="#231f20" stroke-width="0.7"/>
<line x1="373.3" y1="411.9" x2="403.3" y2="409.7" stroke="#e46a57" stroke-width="0.9"/>
<line x1="368.7" y1="412.3" x2="373.3" y2="411.9" stroke="#231f20" stroke-width="0.7"/>
<line x1="374.3" y1="413.5" x2="401.1" y2="412.3" stroke="#e46a57" stroke-width="0.9"/>
<line x1="369.4" y1="413.7" x2="374.3" y2="413.5" stroke="#231f20" stroke-width="0.7"/>
<line x1="378.3" y1="413.9" x2="381.1" y2="413.8" stroke="#f2a679" stroke-width="0.55"/>
<line x1="369.6" y1="414.2" x2="378.3" y2="413.9" stroke="#231f20" stroke-width="0.7"/>
<line x1="375.2" y1="415.5" x2="412.9" y2="415.1" stroke="#f5b995" stroke-width="0.55"/>
<line x1="378.9" y1="416.5" x2="389.7" y2="416.6" stroke="#f2a679" stroke-width="0.55"/>
<line x1="370.8" y1="416.4" x2="378.9" y2="416.5" stroke="#231f20" stroke-width="0.7"/>
<line x1="377" y1="416.9" x2="407" y2="417.3" stroke="#f5b995" stroke-width="0.55"/>
<line x1="377.5" y1="417.1" x2="383.4" y2="417.3" stroke="#f2a679" stroke-width="0.55"/>
<line x1="371.1" y1="417.0" x2="377.5" y2="417.1" stroke="#231f20" stroke-width="0.7"/>
<line x1="378.1" y1="418" x2="411.5" y2="419.1" stroke="#f2a679" stroke-width="0.55"/>
<line x1="371.5" y1="417.8" x2="378.1" y2="418.0" stroke="#231f20" stroke-width="0.7"/>
<line x1="374.6" y1="418.1" x2="392.9" y2="418.7" stroke="#f2a679" stroke-width="0.55"/>
<line x1="371.6" y1="418.0" x2="374.6" y2="418.1" stroke="#231f20" stroke-width="0.7"/>
<line x1="376" y1="418.8" x2="404.8" y2="420.2" stroke="#f5b995" stroke-width="0.55"/>
<line x1="380.8" y1="422.1" x2="399.2" y2="423.9" stroke="#f2a679" stroke-width="0.55"/>
<line x1="373.2" y1="421.4" x2="380.8" y2="422.1" stroke="#231f20" stroke-width="0.7"/>
<line x1="383.1" y1="425.5" x2="416.2" y2="430.4" stroke="#e8806c" stroke-width="0.55"/>
<line x1="378" y1="425.4" x2="390.9" y2="427.4" stroke="#f2a679" stroke-width="0.55"/>
<line x1="374.5" y1="424.8" x2="378.0" y2="425.4" stroke="#231f20" stroke-width="0.7"/>
<line x1="376.8" y1="425.6" x2="401" y2="429.5" stroke="#f5b995" stroke-width="0.55"/>
<line x1="376.4" y1="425.8" x2="400.2" y2="429.9" stroke="#f2a679" stroke-width="0.55"/>
<line x1="374.7" y1="425.6" x2="376.4" y2="425.8" stroke="#231f20" stroke-width="0.7"/>
<line x1="381.6" y1="426.8" x2="421.8" y2="433.6" stroke="#f2a679" stroke-width="0.55"/>
<line x1="374.8" y1="425.6" x2="381.6" y2="426.8" stroke="#231f20" stroke-width="0.7"/>
<line x1="383.3" y1="427.3" x2="420.6" y2="433.7" stroke="#f5b995" stroke-width="0.55"/>
<line x1="378.1" y1="428.7" x2="390" y2="431.2" stroke="#e46a57" stroke-width="0.9"/>
<line x1="375.5" y1="428.1" x2="378.1" y2="428.7" stroke="#231f20" stroke-width="0.7"/>
<line x1="382" y1="429.8" x2="397.9" y2="433.2" stroke="#e46a57" stroke-width="0.9"/>
<line x1="375.7" y1="428.5" x2="382.0" y2="429.8" stroke="#231f20" stroke-width="0.7"/>
<line x1="380.2" y1="431.6" x2="404.8" y2="437.7" stroke="#f5b995" stroke-width="0.55"/>
<line x1="384.3" y1="432.7" x2="409.6" y2="439.1" stroke="#e8806c" stroke-width="0.55"/>
<line x1="383.6" y1="433.7" x2="404.8" y2="439.5" stroke="#f2a679" stroke-width="0.55"/>
<line x1="377.3" y1="432.1" x2="383.6" y2="433.7" stroke="#231f20" stroke-width="0.7"/>
<line x1="381.3" y1="435.1" x2="417.6" y2="446.1" stroke="#f5b995" stroke-width="0.55"/>
<line x1="386.7" y1="437.9" x2="416.4" y2="447.4" stroke="#f2a679" stroke-width="0.55"/>
<line x1="378.6" y1="435.3" x2="386.7" y2="437.9" stroke="#231f20" stroke-width="0.7"/>
<line x1="384.3" y1="437.3" x2="409.1" y2="445.3" stroke="#f2a679" stroke-width="0.55"/>
<line x1="378.6" y1="435.5" x2="384.3" y2="437.3" stroke="#231f20" stroke-width="0.7"/>
<line x1="382.6" y1="437.1" x2="414.3" y2="447.5" stroke="#f5b995" stroke-width="0.55"/>
<line x1="381.4" y1="437.5" x2="416.7" y2="449.4" stroke="#f5b995" stroke-width="0.55"/>
<line x1="380.4" y1="437.7" x2="410.8" y2="448.2" stroke="#e46a57" stroke-width="0.9"/>
<line x1="379.2" y1="437.3" x2="380.4" y2="437.7" stroke="#231f20" stroke-width="0.7"/>
<line x1="387.3" y1="440.2" x2="404.2" y2="446.2" stroke="#f5b995" stroke-width="0.55"/>
<line x1="381.3" y1="441.1" x2="409.3" y2="452.3" stroke="#f2a679" stroke-width="0.55"/>
<line x1="380.3" y1="440.7" x2="381.3" y2="441.1" stroke="#231f20" stroke-width="0.7"/>
<line x1="381.5" y1="441.3" x2="419.6" y2="456.5" stroke="#f2a679" stroke-width="0.55"/>
<line x1="380.3" y1="440.8" x2="381.5" y2="441.3" stroke="#231f20" stroke-width="0.7"/>
<line x1="387" y1="445" x2="402.7" y2="451.6" stroke="#f2a679" stroke-width="0.55"/>
<line x1="380.9" y1="442.5" x2="387.0" y2="445.0" stroke="#231f20" stroke-width="0.7"/>
<line x1="386.7" y1="447.6" x2="426.6" y2="465.9" stroke="#e8806c" stroke-width="0.55"/>
<line x1="385.1" y1="447" x2="404" y2="455.8" stroke="#f5b995" stroke-width="0.55"/>
<line x1="389.4" y1="449.3" x2="407.1" y2="457.6" stroke="#e46a57" stroke-width="0.9"/>
<line x1="382.0" y1="445.9" x2="389.4" y2="449.3" stroke="#231f20" stroke-width="0.7"/>
<line x1="384.1" y1="448.9" x2="385.1" y2="449.4" stroke="#e46a57" stroke-width="0.9"/>
<line x1="382.6" y1="448.2" x2="384.1" y2="448.9" stroke="#231f20" stroke-width="0.7"/>
<line x1="387.4" y1="451" x2="409" y2="461.9" stroke="#f2a679" stroke-width="0.55"/>
<line x1="382.7" y1="448.6" x2="387.4" y2="451.0" stroke="#231f20" stroke-width="0.7"/>
<line x1="386.8" y1="453" x2="403.2" y2="461.8" stroke="#f5b995" stroke-width="0.55"/>
<line x1="385.6" y1="453.7" x2="392.8" y2="457.7" stroke="#f2a679" stroke-width="0.55"/>
<line x1="383.2" y1="452.4" x2="385.6" y2="453.7" stroke="#231f20" stroke-width="0.7"/>
<line x1="389.9" y1="457.8" x2="430.8" y2="481.6" stroke="#f2a679" stroke-width="0.55"/>
<line x1="383.2" y1="453.9" x2="389.9" y2="457.8" stroke="#231f20" stroke-width="0.7"/>
<line x1="390.2" y1="458.6" x2="410.4" y2="470.5" stroke="#f2a679" stroke-width="0.55"/>
<line x1="383.2" y1="454.5" x2="390.2" y2="458.6" stroke="#231f20" stroke-width="0.7"/>
<line x1="384.6" y1="456.1" x2="420.3" y2="477.5" stroke="#f5b995" stroke-width="0.55"/>
<line x1="386.4" y1="459" x2="388.1" y2="460" stroke="#f2a679" stroke-width="0.55"/>
<line x1="383.2" y1="456.9" x2="386.4" y2="459.0" stroke="#231f20" stroke-width="0.7"/>
<line x1="385.2" y1="459.4" x2="392.1" y2="463.9" stroke="#f2a679" stroke-width="0.55"/>
<line x1="383.1" y1="458.1" x2="385.2" y2="459.4" stroke="#231f20" stroke-width="0.7"/>
<line x1="387.1" y1="462.7" x2="388.7" y2="463.8" stroke="#f2a679" stroke-width="0.55"/>
<line x1="383.0" y1="459.9" x2="387.1" y2="462.7" stroke="#231f20" stroke-width="0.7"/>
<line x1="386.9" y1="463.2" x2="413.6" y2="481.5" stroke="#f5b995" stroke-width="0.55"/>
<line x1="386" y1="463" x2="412.4" y2="481.2" stroke="#f5b995" stroke-width="0.55"/>
<line x1="386" y1="463.8" x2="410.6" y2="481" stroke="#f5b995" stroke-width="0.55"/>
<line x1="387.6" y1="468.4" x2="402.3" y2="479.4" stroke="#f5b995" stroke-width="0.55"/>
<line x1="384.1" y1="465.9" x2="422.5" y2="494.9" stroke="#e8806c" stroke-width="0.55"/>
<line x1="386.9" y1="469" x2="397.7" y2="477.4" stroke="#f2a679" stroke-width="0.55"/>
<line x1="382.8" y1="465.9" x2="386.9" y2="469.0" stroke="#231f20" stroke-width="0.7"/>
<line x1="384.8" y1="468.1" x2="410.5" y2="488.1" stroke="#f5b995" stroke-width="0.55"/>
<line x1="383.9" y1="471.5" x2="397.7" y2="483.1" stroke="#e8806c" stroke-width="0.55"/>
<line x1="386.5" y1="474.3" x2="404.8" y2="489.8" stroke="#f2a679" stroke-width="0.55"/>
<line x1="382.8" y1="471.1" x2="386.5" y2="474.3" stroke="#231f20" stroke-width="0.7"/>
<line x1="387.1" y1="479.3" x2="405.3" y2="496" stroke="#f2a679" stroke-width="0.55"/>
<line x1="382.5" y1="475.0" x2="387.1" y2="479.3" stroke="#231f20" stroke-width="0.7"/>
<line x1="388.3" y1="483.1" x2="393.1" y2="487.6" stroke="#f2a679" stroke-width="0.55"/>
<line x1="382.2" y1="477.3" x2="388.3" y2="483.1" stroke="#231f20" stroke-width="0.7"/>
<line x1="386.4" y1="482.4" x2="410" y2="505.4" stroke="#f5b995" stroke-width="0.55"/>
<line x1="388.5" y1="484.8" x2="408.9" y2="504.7" stroke="#f2a679" stroke-width="0.55"/>
<line x1="383.6" y1="480.1" x2="388.5" y2="484.8" stroke="#231f20" stroke-width="0.7"/>
<line x1="389.1" y1="491.4" x2="414.1" y2="517.8" stroke="#f5b995" stroke-width="0.55"/>
<line x1="389.9" y1="492.2" x2="395.6" y2="498.3" stroke="#f2a679" stroke-width="0.55"/>
<line x1="388.0" y1="490.2" x2="389.9" y2="492.2" stroke="#231f20" stroke-width="0.7"/>
<line x1="391.9" y1="495" x2="413.6" y2="518.2" stroke="#f5b995" stroke-width="0.55"/>
<line x1="390.6" y1="495.2" x2="412.6" y2="519.2" stroke="#f5b995" stroke-width="0.55"/>
<line x1="393.5" y1="501.9" x2="411.1" y2="521.9" stroke="#e8806c" stroke-width="0.55"/>
<line x1="395.8" y1="505.7" x2="404" y2="515.2" stroke="#f2a679" stroke-width="0.55"/>
<line x1="390.7" y1="499.8" x2="395.8" y2="505.7" stroke="#231f20" stroke-width="0.7"/>
<line x1="396.5" y1="507.7" x2="410.4" y2="523.9" stroke="#f5b995" stroke-width="0.55"/>
<line x1="393.4" y1="505.2" x2="409.6" y2="524.5" stroke="#f5b995" stroke-width="0.55"/>
<line x1="398.5" y1="516.5" x2="408" y2="528.4" stroke="#f2a679" stroke-width="0.55"/>
<line x1="393.4" y1="510.1" x2="398.5" y2="516.5" stroke="#231f20" stroke-width="0.7"/>
<line x1="400" y1="525.5" x2="408.1" y2="536.4" stroke="#f2a679" stroke-width="0.55"/>
<line x1="395.0" y1="518.9" x2="400.0" y2="525.5" stroke="#231f20" stroke-width="0.7"/>
<line x1="398" y1="527.1" x2="399.1" y2="528.6" stroke="#e46a57" stroke-width="0.9"/>
<line x1="395.6" y1="523.8" x2="398.0" y2="527.1" stroke="#231f20" stroke-width="0.7"/>
<line x1="347.1" y1="399.8" x2="349.7" y2="398.3" stroke="#231f20" stroke-width="0.8"/>
<line x1="349.0" y1="400.0" x2="353.9" y2="397.5" stroke="#231f20" stroke-width="0.8"/>
<line x1="351.4" y1="400.4" x2="358.6" y2="397.0" stroke="#231f20" stroke-width="0.8"/>
<line x1="353.9" y1="401.0" x2="356.7" y2="399.8" stroke="#231f20" stroke-width="0.8"/>
<line x1="356.9" y1="401.8" x2="362.0" y2="400.0" stroke="#231f20" stroke-width="0.8"/>
<line x1="360.4" y1="403.2" x2="368.0" y2="400.9" stroke="#231f20" stroke-width="0.8"/>
<line x1="361.7" y1="403.8" x2="364.6" y2="403.0" stroke="#231f20" stroke-width="0.8"/>
<line x1="362.8" y1="404.4" x2="368.1" y2="403.0" stroke="#231f20" stroke-width="0.8"/>
<line x1="365.1" y1="406.5" x2="372.9" y2="404.9" stroke="#231f20" stroke-width="0.8"/>
<line x1="366.0" y1="407.7" x2="368.9" y2="407.2" stroke="#231f20" stroke-width="0.8"/>
<line x1="366.3" y1="408.2" x2="371.7" y2="407.3" stroke="#231f20" stroke-width="0.8"/>
<line x1="367.5" y1="410.1" x2="375.4" y2="409.1" stroke="#231f20" stroke-width="0.8"/>
<line x1="368.6" y1="412.1" x2="371.6" y2="411.9" stroke="#231f20" stroke-width="0.8"/>
<line x1="369.6" y1="414.2" x2="375.1" y2="414.0" stroke="#231f20" stroke-width="0.8"/>
<line x1="371.0" y1="416.8" x2="379.0" y2="416.9" stroke="#231f20" stroke-width="0.8"/>
<line x1="371.6" y1="418.0" x2="374.6" y2="418.1" stroke="#231f20" stroke-width="0.8"/>
<line x1="374.3" y1="424.2" x2="379.7" y2="425.0" stroke="#231f20" stroke-width="0.8"/>
<line x1="374.7" y1="425.6" x2="382.6" y2="426.9" stroke="#231f20" stroke-width="0.8"/>
<line x1="375.5" y1="428.1" x2="378.5" y2="428.8" stroke="#231f20" stroke-width="0.8"/>
<line x1="376.8" y1="430.8" x2="382.1" y2="432.2" stroke="#231f20" stroke-width="0.8"/>
<line x1="378.6" y1="435.3" x2="386.2" y2="437.8" stroke="#231f20" stroke-width="0.8"/>
<line x1="379.0" y1="436.7" x2="381.9" y2="437.6" stroke="#231f20" stroke-width="0.8"/>
<line x1="380.3" y1="440.7" x2="385.4" y2="442.7" stroke="#231f20" stroke-width="0.8"/>
<line x1="381.8" y1="445.3" x2="389.1" y2="448.7" stroke="#231f20" stroke-width="0.8"/>
<line x1="382.6" y1="448.2" x2="385.3" y2="449.5" stroke="#231f20" stroke-width="0.8"/>
<line x1="383.2" y1="452.4" x2="388.0" y2="455.1" stroke="#231f20" stroke-width="0.8"/>
<line x1="383.2" y1="455.2" x2="390.1" y2="459.3" stroke="#231f20" stroke-width="0.8"/>
<line x1="383.0" y1="459.9" x2="385.5" y2="461.6" stroke="#231f20" stroke-width="0.8"/>
<line x1="382.9" y1="461.6" x2="387.4" y2="464.7" stroke="#231f20" stroke-width="0.8"/>
<line x1="382.8" y1="465.9" x2="389.2" y2="470.8" stroke="#231f20" stroke-width="0.8"/>
<line x1="382.8" y1="471.1" x2="385.0" y2="473.0" stroke="#231f20" stroke-width="0.8"/>
<line x1="383.3" y1="479.4" x2="387.2" y2="483.2" stroke="#231f20" stroke-width="0.8"/>
<line x1="388.0" y1="490.2" x2="393.5" y2="496.0" stroke="#231f20" stroke-width="0.8"/>
<line x1="390.3" y1="498.2" x2="392.2" y2="500.4" stroke="#231f20" stroke-width="0.8"/>
<line x1="391.6" y1="503.1" x2="395.2" y2="507.3" stroke="#231f20" stroke-width="0.8"/>
<line x1="395.6" y1="523.8" x2="400.3" y2="530.3" stroke="#231f20" stroke-width="0.8"/>
<path d="M347.1,399.8 L347.3,400.1 L347.4,400.4 L347.6,400.8 L349.0,400.0 L349.2,400.4 L349.4,400.8 L349.6,401.2 L351.4,400.4 L351.6,400.9 L351.8,401.3 L352.0,401.8 L353.9,401.0 L354.1,401.5 L354.4,402.1 L354.6,402.7 L356.9,401.8 L357.1,402.6 L357.4,403.3 L357.6,404.0 L360.4,403.2 L360.4,403.5 L360.5,403.8 L360.6,404.1 L361.7,403.8 L361.8,404.1 L361.9,404.4 L361.9,404.6 L362.8,404.4 L363.0,405.2 L363.2,406.0 L363.4,406.8 L365.1,406.5 L365.2,406.9 L365.3,407.4 L365.4,407.8 L366.0,407.7 L366.0,407.9 L366.0,408.0 L366.0,408.2 L366.3,408.2 L366.4,408.9 L366.5,409.5 L366.6,410.2 L367.5,410.1 L367.5,410.8 L367.6,411.5 L367.7,412.2 L368.6,412.1 L368.6,412.8 L368.7,413.5 L368.7,414.2 L369.6,414.2 L369.7,415.1 L369.7,415.9 L369.7,416.8 L371.0,416.8 L371.0,417.2 L371.0,417.6 L371.0,417.9 L371.6,418.0 L371.5,419.9 L371.3,421.8 L371.1,423.8 L374.3,424.2 L374.2,424.6 L374.2,425.1 L374.1,425.5 L374.7,425.6 L374.6,426.3 L374.5,427.1 L374.3,427.9 L375.5,428.1 L375.4,428.9 L375.2,429.6 L375.0,430.4 L376.8,430.8 L376.5,432.0 L376.2,433.2 L375.8,434.4 L378.6,435.3 L378.5,435.7 L378.3,436.0 L378.2,436.4 L379.0,436.7 L378.7,437.7 L378.3,438.7 L377.9,439.8 L380.3,440.7 L379.8,441.8 L379.4,442.9 L378.9,444.0 L381.8,445.3 L381.5,446.0 L381.2,446.6 L380.9,447.3 L382.6,448.2 L382.1,449.2 L381.6,450.2 L381.0,451.2 L383.2,452.4 L382.8,453.1 L382.4,453.8 L382.0,454.5 L383.2,455.2 L382.5,456.4 L381.8,457.5 L381.1,458.6 L383.0,459.9 L382.7,460.3 L382.5,460.7 L382.2,461.1 L382.9,461.6 L382.2,462.5 L381.5,463.5 L380.8,464.4 L382.8,465.9 L382.0,467.0 L381.2,468.0 L380.3,469.0 L382.8,471.1 L381.5,472.5 L380.3,473.9 L379.0,475.2 L383.3,479.4 L382.4,480.4 L381.4,481.3 L380.5,482.2 L388.0,490.2 L387.1,491.0 L386.3,491.8 L385.4,492.6 L390.3,498.2 L389.7,498.7 L389.2,499.1 L388.6,499.6 L391.6,503.1 L389.3,505.0 L387.0,506.8 L384.6,508.6 L395.6,523.8" stroke="#231f20" stroke-width="0.85" fill="none"/>
<line x1="381.2" y1="401.5" x2="406.2" y2="400.2" stroke="#231f20" stroke-width="0.8"/>
<line x1="386.5" y1="408" x2="398.3" y2="410.7" stroke="#231f20" stroke-width="0.8"/>
<line x1="372" y1="399" x2="381.2" y2="401.5" stroke="#231f20" stroke-width="0.8"/>
<path d="M378.0,430.0 L376.5,432.6 L380.2,432.6 L378.7,436.0 L383.0,436.0 L381.5,441.0 L386.0,441.0 L384.5,445.0 L391.0,445.0 L389.5,449.0 L395.0,449.0 L393.5,452.0 L399.0,452.0 L397.5,455.0 L404.0,455.0 L402.5,460.2 L410.4,460.2" stroke="#231f20" stroke-width="0.8" fill="none"/>
<line x1="348.4" y1="397.6" x2="374.7" y2="383.8" stroke="#e4604c" stroke-width="1.1"/>
<path d="M335.7,404 L345.1,401.0" stroke="#231f20" stroke-width="0.9" fill="none"/>
<circle cx="386.9" cy="380.9" r="2" fill="#ee9a5a" stroke="#7a4a30" stroke-width="0.45"/>
<circle cx="389.8" cy="381.4" r="2" fill="#ee9a5a" stroke="#7a4a30" stroke-width="0.45"/>
<circle cx="370.8" cy="386.6" r="2" fill="#ee9a5a" stroke="#7a4a30" stroke-width="0.45"/>
<circle cx="360.4" cy="394.2" r="2" fill="#ee9a5a" stroke="#7a4a30" stroke-width="0.45"/>
<circle cx="372.1" cy="390.7" r="2" fill="#ee9a5a" stroke="#7a4a30" stroke-width="0.45"/>
<circle cx="374.6" cy="392.3" r="2" fill="#ee9a5a" stroke="#7a4a30" stroke-width="0.45"/>
<circle cx="380.3" cy="389.4" r="2" fill="#ee9a5a" stroke="#7a4a30" stroke-width="0.45"/>
<circle cx="394.1" cy="388.1" r="2" fill="#ee9a5a" stroke="#7a4a30" stroke-width="0.45"/>
<circle cx="398.7" cy="388.5" r="2" fill="#ee9a5a" stroke="#7a4a30" stroke-width="0.45"/>
<circle cx="405.5" cy="388.5" r="2" fill="#ee9a5a" stroke="#7a4a30" stroke-width="0.45"/>
<circle cx="411.6" cy="389.4" r="2" fill="#ee9a5a" stroke="#7a4a30" stroke-width="0.45"/>
<circle cx="403.1" cy="392.6" r="2" fill="#ee9a5a" stroke="#7a4a30" stroke-width="0.45"/>
<circle cx="381.2" cy="397.4" r="2" fill="#ee9a5a" stroke="#7a4a30" stroke-width="0.45"/>
<circle cx="389.8" cy="397.4" r="2" fill="#ee9a5a" stroke="#7a4a30" stroke-width="0.45"/>
<circle cx="405" cy="397.6" r="2" fill="#ee9a5a" stroke="#7a4a30" stroke-width="0.45"/>
<circle cx="408.2" cy="401.4" r="2" fill="#ee9a5a" stroke="#7a4a30" stroke-width="0.45"/>
<circle cx="415.8" cy="407.1" r="2" fill="#ee9a5a" stroke="#7a4a30" stroke-width="0.45"/>
<circle cx="384.1" cy="410.9" r="2" fill="#ee9a5a" stroke="#7a4a30" stroke-width="0.45"/>
<circle cx="390.4" cy="413.5" r="2" fill="#ee9a5a" stroke="#7a4a30" stroke-width="0.45"/>
<circle cx="385.4" cy="417.3" r="2" fill="#ee9a5a" stroke="#7a4a30" stroke-width="0.45"/>
<circle cx="391.7" cy="416.6" r="2" fill="#ee9a5a" stroke="#7a4a30" stroke-width="0.45"/>
<circle cx="394.9" cy="418.8" r="2" fill="#ee9a5a" stroke="#7a4a30" stroke-width="0.45"/>
<circle cx="413.5" cy="419.2" r="2" fill="#ee9a5a" stroke="#7a4a30" stroke-width="0.45"/>
<circle cx="401.2" cy="424.1" r="2" fill="#ee9a5a" stroke="#7a4a30" stroke-width="0.45"/>
<circle cx="399.3" cy="428.7" r="2" fill="#ee9a5a" stroke="#7a4a30" stroke-width="0.45"/>
<circle cx="413.5" cy="432.1" r="2" fill="#ee9a5a" stroke="#7a4a30" stroke-width="0.45"/>
<circle cx="427.7" cy="434.6" r="2" fill="#ee9a5a" stroke="#7a4a30" stroke-width="0.45"/>
<circle cx="414.8" cy="442.2" r="2" fill="#ee9a5a" stroke="#7a4a30" stroke-width="0.45"/>
<circle cx="415.4" cy="447.3" r="2" fill="#ee9a5a" stroke="#7a4a30" stroke-width="0.45"/>
<circle cx="424.9" cy="450.1" r="2" fill="#ee9a5a" stroke="#7a4a30" stroke-width="0.45"/>
<circle cx="407.4" cy="453.6" r="2" fill="#ee9a5a" stroke="#7a4a30" stroke-width="0.45"/>
<circle cx="411.2" cy="453" r="2" fill="#ee9a5a" stroke="#7a4a30" stroke-width="0.45"/>
<circle cx="421.5" cy="457.2" r="2" fill="#ee9a5a" stroke="#7a4a30" stroke-width="0.45"/>
<circle cx="394.5" cy="458.7" r="2" fill="#ee9a5a" stroke="#7a4a30" stroke-width="0.45"/>
<circle cx="389.8" cy="461.1" r="2" fill="#ee9a5a" stroke="#7a4a30" stroke-width="0.45"/>
<circle cx="390.4" cy="464.9" r="2" fill="#ee9a5a" stroke="#7a4a30" stroke-width="0.45"/>
<circle cx="415" cy="464.9" r="2" fill="#ee9a5a" stroke="#7a4a30" stroke-width="0.45"/>
<circle cx="402.5" cy="470.6" r="2" fill="#ee9a5a" stroke="#7a4a30" stroke-width="0.45"/>
<circle cx="419.2" cy="475.7" r="2" fill="#ee9a5a" stroke="#7a4a30" stroke-width="0.45"/>
<circle cx="399.3" cy="478.6" r="2" fill="#ee9a5a" stroke="#7a4a30" stroke-width="0.45"/>
<circle cx="432.5" cy="482.6" r="2" fill="#ee9a5a" stroke="#7a4a30" stroke-width="0.45"/>
<circle cx="394.5" cy="489" r="2" fill="#ee9a5a" stroke="#7a4a30" stroke-width="0.45"/>
<circle cx="406.3" cy="491.1" r="2" fill="#ee9a5a" stroke="#7a4a30" stroke-width="0.45"/>
<circle cx="409.7" cy="500" r="2" fill="#ee9a5a" stroke="#7a4a30" stroke-width="0.45"/>
<circle cx="401.2" cy="504.2" r="2" fill="#ee9a5a" stroke="#7a4a30" stroke-width="0.45"/>
<circle cx="410.3" cy="506.1" r="2" fill="#ee9a5a" stroke="#7a4a30" stroke-width="0.45"/>
<circle cx="405.3" cy="516.7" r="2" fill="#ee9a5a" stroke="#7a4a30" stroke-width="0.45"/>
<circle cx="409.3" cy="530" r="2" fill="#ee9a5a" stroke="#7a4a30" stroke-width="0.45"/>
<circle cx="409.3" cy="538" r="2" fill="#ee9a5a" stroke="#7a4a30" stroke-width="0.45"/>
<circle cx="386.9" cy="377.5" r="2.9" fill="#e0634f" stroke="#7a3a30" stroke-width="0.45"/>
<circle cx="393.2" cy="403.3" r="2.9" fill="#e0634f" stroke="#7a3a30" stroke-width="0.45"/>
<circle cx="389.4" cy="404.6" r="2.9" fill="#e0634f" stroke="#7a3a30" stroke-width="0.45"/>
<circle cx="422.6" cy="398.3" r="2.9" fill="#e0634f" stroke="#7a3a30" stroke-width="0.45"/>
<circle cx="412.6" cy="409" r="2.9" fill="#e0634f" stroke="#7a3a30" stroke-width="0.45"/>
<circle cx="404" cy="412.2" r="2.9" fill="#e0634f" stroke="#7a3a30" stroke-width="0.45"/>
<circle cx="401.4" cy="433.6" r="2.9" fill="#e0634f" stroke="#7a3a30" stroke-width="0.45"/>
<circle cx="412" cy="436.3" r="2.9" fill="#e0634f" stroke="#7a3a30" stroke-width="0.45"/>
<circle cx="387.7" cy="450.7" r="2.9" fill="#e0634f" stroke="#7a3a30" stroke-width="0.45"/>
<circle cx="413.5" cy="449.2" r="2.9" fill="#e0634f" stroke="#7a3a30" stroke-width="0.45"/>
<circle cx="413.5" cy="460.6" r="2.9" fill="#e0634f" stroke="#7a3a30" stroke-width="0.45"/>
<circle cx="400.8" cy="531" r="2.9" fill="#e0634f" stroke="#7a3a30" stroke-width="0.45"/>
</svg></body></html>
